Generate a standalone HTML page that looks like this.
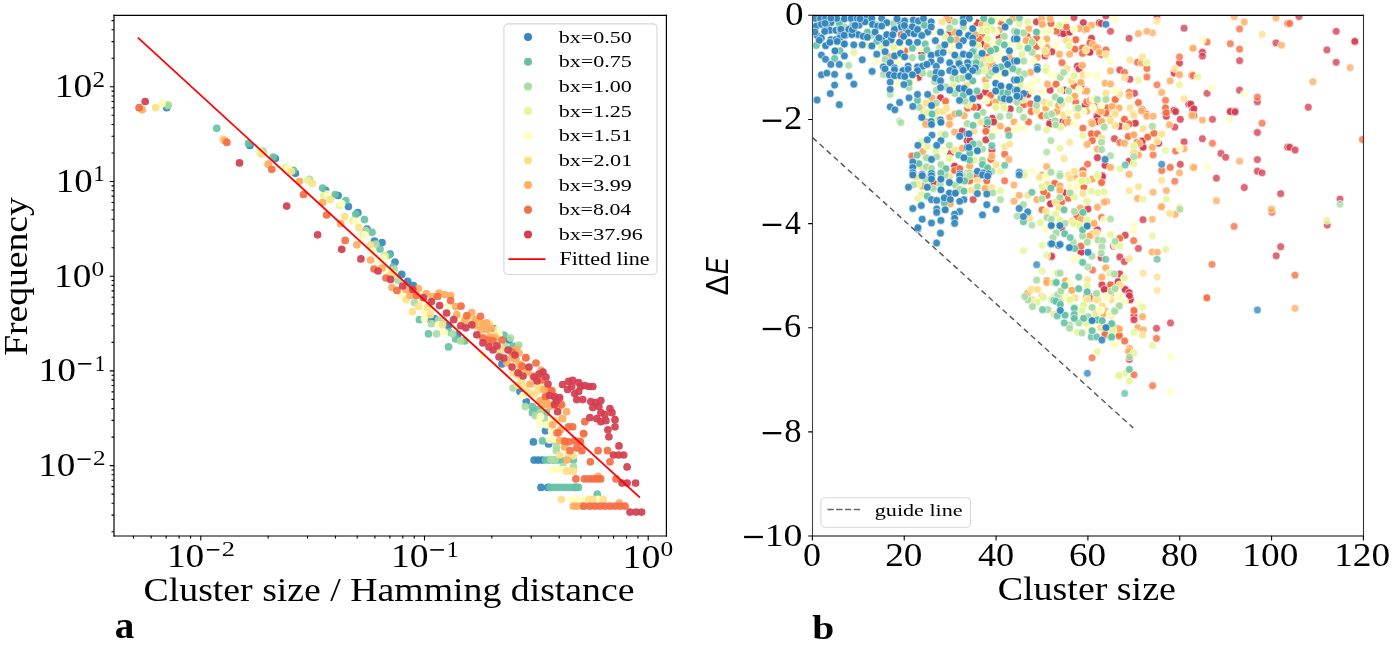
<!DOCTYPE html>
<html><head><meta charset="utf-8"><title>Cluster size plots</title>
<style>html,body{margin:0;padding:0;background:#fff;width:1392px;height:645px;overflow:hidden}svg{display:block}text{-webkit-font-smoothing:antialiased}svg{will-change:transform}</style>
</head><body>
<svg width="1392" height="645" viewBox="0 0 1392 645">
<defs><clipPath id="cl"><rect x="114.0" y="15.4" width="552.0" height="520.4"/></clipPath>
<clipPath id="cr"><rect x="812.4" y="15.4" width="550.8" height="520.4"/></clipPath></defs>
<rect width="1392" height="645" fill="#fff"/>
<g clip-path="url(#cl)">
<circle cx="166.7" cy="107.7" r="3.85" fill="#3387bc" fill-opacity="0.92"/>
<circle cx="249.9" cy="145.4" r="3.85" fill="#3387bc" fill-opacity="0.92"/>
<circle cx="275.3" cy="158.6" r="3.85" fill="#3387bc" fill-opacity="0.92"/>
<circle cx="295.4" cy="173.3" r="3.85" fill="#3387bc" fill-opacity="0.92"/>
<circle cx="325.6" cy="190.4" r="3.85" fill="#3387bc" fill-opacity="0.92"/>
<circle cx="338.1" cy="195.5" r="3.85" fill="#3387bc" fill-opacity="0.92"/>
<circle cx="348.4" cy="206.6" r="3.85" fill="#3387bc" fill-opacity="0.92"/>
<circle cx="357.8" cy="212.6" r="3.85" fill="#3387bc" fill-opacity="0.92"/>
<circle cx="367.0" cy="229.0" r="3.85" fill="#3387bc" fill-opacity="0.92"/>
<circle cx="374.5" cy="241.0" r="3.85" fill="#3387bc" fill-opacity="0.92"/>
<circle cx="382.0" cy="242.6" r="3.85" fill="#3387bc" fill-opacity="0.92"/>
<circle cx="390.0" cy="254.0" r="3.85" fill="#3387bc" fill-opacity="0.92"/>
<circle cx="395.0" cy="262.0" r="3.85" fill="#3387bc" fill-opacity="0.92"/>
<circle cx="401.7" cy="274.4" r="3.85" fill="#3387bc" fill-opacity="0.92"/>
<circle cx="407.7" cy="281.4" r="3.85" fill="#3387bc" fill-opacity="0.92"/>
<circle cx="413.4" cy="285.5" r="3.85" fill="#3387bc" fill-opacity="0.92"/>
<circle cx="429.5" cy="318.7" r="3.85" fill="#3387bc" fill-opacity="0.92"/>
<circle cx="434.5" cy="318.7" r="3.85" fill="#3387bc" fill-opacity="0.92"/>
<circle cx="494.0" cy="328.8" r="3.85" fill="#3387bc" fill-opacity="0.92"/>
<circle cx="457.7" cy="334.8" r="3.85" fill="#3387bc" fill-opacity="0.92"/>
<circle cx="509.0" cy="340.0" r="3.85" fill="#3387bc" fill-opacity="0.92"/>
<circle cx="502.0" cy="364.0" r="3.85" fill="#3387bc" fill-opacity="0.92"/>
<circle cx="520.0" cy="391.5" r="3.85" fill="#3387bc" fill-opacity="0.92"/>
<circle cx="526.3" cy="401.6" r="3.85" fill="#3387bc" fill-opacity="0.92"/>
<circle cx="545.5" cy="430.8" r="3.85" fill="#3387bc" fill-opacity="0.92"/>
<circle cx="533.4" cy="441.9" r="3.85" fill="#3387bc" fill-opacity="0.92"/>
<circle cx="534.1" cy="460.1" r="3.85" fill="#3387bc" fill-opacity="0.92"/>
<circle cx="538.0" cy="460.1" r="3.85" fill="#3387bc" fill-opacity="0.92"/>
<circle cx="542.0" cy="460.1" r="3.85" fill="#3387bc" fill-opacity="0.92"/>
<circle cx="541.0" cy="487.4" r="3.85" fill="#3387bc" fill-opacity="0.92"/>
<circle cx="547.8" cy="487.4" r="3.85" fill="#3387bc" fill-opacity="0.92"/>
<circle cx="575.9" cy="487.4" r="3.85" fill="#3387bc" fill-opacity="0.92"/>
<circle cx="548.6" cy="443.9" r="3.85" fill="#3387bc" fill-opacity="0.92"/>
<circle cx="448.4" cy="325.6" r="3.85" fill="#3387bc" fill-opacity="0.92"/>
<circle cx="167.3" cy="106.1" r="3.85" fill="#66c2a5" fill-opacity="0.92"/>
<circle cx="216.7" cy="128.3" r="3.85" fill="#66c2a5" fill-opacity="0.92"/>
<circle cx="248.5" cy="143.4" r="3.85" fill="#66c2a5" fill-opacity="0.92"/>
<circle cx="273.2" cy="157.2" r="3.85" fill="#66c2a5" fill-opacity="0.92"/>
<circle cx="293.4" cy="170.3" r="3.85" fill="#66c2a5" fill-opacity="0.92"/>
<circle cx="322.6" cy="188.0" r="3.85" fill="#66c2a5" fill-opacity="0.92"/>
<circle cx="335.1" cy="194.5" r="3.85" fill="#66c2a5" fill-opacity="0.92"/>
<circle cx="345.8" cy="200.5" r="3.85" fill="#66c2a5" fill-opacity="0.92"/>
<circle cx="355.8" cy="214.2" r="3.85" fill="#66c2a5" fill-opacity="0.92"/>
<circle cx="364.5" cy="219.6" r="3.85" fill="#66c2a5" fill-opacity="0.92"/>
<circle cx="372.0" cy="232.3" r="3.85" fill="#66c2a5" fill-opacity="0.92"/>
<circle cx="380.0" cy="249.0" r="3.85" fill="#66c2a5" fill-opacity="0.92"/>
<circle cx="389.0" cy="255.0" r="3.85" fill="#66c2a5" fill-opacity="0.92"/>
<circle cx="393.0" cy="267.0" r="3.85" fill="#66c2a5" fill-opacity="0.92"/>
<circle cx="419.4" cy="319.7" r="3.85" fill="#66c2a5" fill-opacity="0.92"/>
<circle cx="428.5" cy="333.8" r="3.85" fill="#66c2a5" fill-opacity="0.92"/>
<circle cx="448.6" cy="331.8" r="3.85" fill="#66c2a5" fill-opacity="0.92"/>
<circle cx="455.7" cy="338.9" r="3.85" fill="#66c2a5" fill-opacity="0.92"/>
<circle cx="464.8" cy="340.9" r="3.85" fill="#66c2a5" fill-opacity="0.92"/>
<circle cx="448.6" cy="346.9" r="3.85" fill="#66c2a5" fill-opacity="0.92"/>
<circle cx="504.0" cy="335.0" r="3.85" fill="#66c2a5" fill-opacity="0.92"/>
<circle cx="513.0" cy="346.0" r="3.85" fill="#66c2a5" fill-opacity="0.92"/>
<circle cx="517.0" cy="347.0" r="3.85" fill="#66c2a5" fill-opacity="0.92"/>
<circle cx="532.4" cy="406.6" r="3.85" fill="#66c2a5" fill-opacity="0.92"/>
<circle cx="537.4" cy="409.6" r="3.85" fill="#66c2a5" fill-opacity="0.92"/>
<circle cx="532.4" cy="412.7" r="3.85" fill="#66c2a5" fill-opacity="0.92"/>
<circle cx="546.5" cy="412.7" r="3.85" fill="#66c2a5" fill-opacity="0.92"/>
<circle cx="542.4" cy="440.9" r="3.85" fill="#66c2a5" fill-opacity="0.92"/>
<circle cx="545.5" cy="460.1" r="3.85" fill="#66c2a5" fill-opacity="0.92"/>
<circle cx="549.0" cy="460.1" r="3.85" fill="#66c2a5" fill-opacity="0.92"/>
<circle cx="553.0" cy="460.1" r="3.85" fill="#66c2a5" fill-opacity="0.92"/>
<circle cx="557.0" cy="460.1" r="3.85" fill="#66c2a5" fill-opacity="0.92"/>
<circle cx="561.0" cy="460.1" r="3.85" fill="#66c2a5" fill-opacity="0.92"/>
<circle cx="573.4" cy="460.1" r="3.85" fill="#66c2a5" fill-opacity="0.92"/>
<circle cx="550.0" cy="487.4" r="3.85" fill="#66c2a5" fill-opacity="0.92"/>
<circle cx="554.0" cy="487.4" r="3.85" fill="#66c2a5" fill-opacity="0.92"/>
<circle cx="558.0" cy="487.4" r="3.85" fill="#66c2a5" fill-opacity="0.92"/>
<circle cx="562.0" cy="487.4" r="3.85" fill="#66c2a5" fill-opacity="0.92"/>
<circle cx="566.0" cy="487.4" r="3.85" fill="#66c2a5" fill-opacity="0.92"/>
<circle cx="570.0" cy="487.4" r="3.85" fill="#66c2a5" fill-opacity="0.92"/>
<circle cx="574.0" cy="487.4" r="3.85" fill="#66c2a5" fill-opacity="0.92"/>
<circle cx="578.5" cy="487.4" r="3.85" fill="#66c2a5" fill-opacity="0.92"/>
<circle cx="597.3" cy="494.2" r="3.85" fill="#66c2a5" fill-opacity="0.92"/>
<circle cx="168.3" cy="105.1" r="3.85" fill="#aadca4" fill-opacity="0.92"/>
<circle cx="263.2" cy="151.2" r="3.85" fill="#aadca4" fill-opacity="0.92"/>
<circle cx="309.5" cy="179.4" r="3.85" fill="#aadca4" fill-opacity="0.92"/>
<circle cx="365.9" cy="230.7" r="3.85" fill="#aadca4" fill-opacity="0.92"/>
<circle cx="376.0" cy="244.0" r="3.85" fill="#aadca4" fill-opacity="0.92"/>
<circle cx="414.4" cy="302.6" r="3.85" fill="#aadca4" fill-opacity="0.92"/>
<circle cx="431.5" cy="323.7" r="3.85" fill="#aadca4" fill-opacity="0.92"/>
<circle cx="436.6" cy="333.8" r="3.85" fill="#aadca4" fill-opacity="0.92"/>
<circle cx="452.7" cy="333.8" r="3.85" fill="#aadca4" fill-opacity="0.92"/>
<circle cx="460.7" cy="340.9" r="3.85" fill="#aadca4" fill-opacity="0.92"/>
<circle cx="500.0" cy="352.0" r="3.85" fill="#aadca4" fill-opacity="0.92"/>
<circle cx="505.0" cy="346.0" r="3.85" fill="#aadca4" fill-opacity="0.92"/>
<circle cx="513.0" cy="388.0" r="3.85" fill="#aadca4" fill-opacity="0.92"/>
<circle cx="525.3" cy="406.6" r="3.85" fill="#aadca4" fill-opacity="0.92"/>
<circle cx="535.4" cy="415.7" r="3.85" fill="#aadca4" fill-opacity="0.92"/>
<circle cx="540.4" cy="412.7" r="3.85" fill="#aadca4" fill-opacity="0.92"/>
<circle cx="544.5" cy="418.7" r="3.85" fill="#aadca4" fill-opacity="0.92"/>
<circle cx="556.6" cy="446.9" r="3.85" fill="#aadca4" fill-opacity="0.92"/>
<circle cx="551.0" cy="459.5" r="3.85" fill="#aadca4" fill-opacity="0.92"/>
<circle cx="555.0" cy="459.5" r="3.85" fill="#aadca4" fill-opacity="0.92"/>
<circle cx="563.0" cy="466.5" r="3.85" fill="#aadca4" fill-opacity="0.92"/>
<circle cx="573.4" cy="466.5" r="3.85" fill="#aadca4" fill-opacity="0.92"/>
<circle cx="546.0" cy="423.4" r="3.85" fill="#aadca4" fill-opacity="0.92"/>
<circle cx="554.6" cy="440.5" r="3.85" fill="#aadca4" fill-opacity="0.92"/>
<circle cx="556.3" cy="450.7" r="3.85" fill="#aadca4" fill-opacity="0.92"/>
<circle cx="384.7" cy="255.8" r="3.85" fill="#aadca4" fill-opacity="0.92"/>
<circle cx="394.2" cy="269.3" r="3.85" fill="#aadca4" fill-opacity="0.92"/>
<circle cx="398.3" cy="280.4" r="3.85" fill="#aadca4" fill-opacity="0.92"/>
<circle cx="438.6" cy="320.0" r="3.85" fill="#aadca4" fill-opacity="0.92"/>
<circle cx="442.8" cy="320.0" r="3.85" fill="#aadca4" fill-opacity="0.92"/>
<circle cx="510.5" cy="338.1" r="3.85" fill="#aadca4" fill-opacity="0.92"/>
<circle cx="518.8" cy="345.1" r="3.85" fill="#aadca4" fill-opacity="0.92"/>
<circle cx="162.3" cy="103.1" r="3.85" fill="#e6f598" fill-opacity="0.92"/>
<circle cx="260.1" cy="152.2" r="3.85" fill="#e6f598" fill-opacity="0.92"/>
<circle cx="285.3" cy="167.3" r="3.85" fill="#e6f598" fill-opacity="0.92"/>
<circle cx="307.5" cy="180.4" r="3.85" fill="#e6f598" fill-opacity="0.92"/>
<circle cx="323.6" cy="195.5" r="3.85" fill="#e6f598" fill-opacity="0.92"/>
<circle cx="339.7" cy="205.5" r="3.85" fill="#e6f598" fill-opacity="0.92"/>
<circle cx="352.8" cy="220.6" r="3.85" fill="#e6f598" fill-opacity="0.92"/>
<circle cx="362.9" cy="234.8" r="3.85" fill="#e6f598" fill-opacity="0.92"/>
<circle cx="385.0" cy="256.0" r="3.85" fill="#e6f598" fill-opacity="0.92"/>
<circle cx="161.7" cy="103.7" r="3.85" fill="#fffebe" fill-opacity="0.92"/>
<circle cx="288.3" cy="168.3" r="3.85" fill="#fffebe" fill-opacity="0.92"/>
<circle cx="327.6" cy="194.1" r="3.85" fill="#fffebe" fill-opacity="0.92"/>
<circle cx="341.7" cy="203.5" r="3.85" fill="#fffebe" fill-opacity="0.92"/>
<circle cx="355.8" cy="221.7" r="3.85" fill="#fffebe" fill-opacity="0.92"/>
<circle cx="365.0" cy="235.0" r="3.85" fill="#fffebe" fill-opacity="0.92"/>
<circle cx="380.0" cy="264.0" r="3.85" fill="#fffebe" fill-opacity="0.92"/>
<circle cx="401.0" cy="295.5" r="3.85" fill="#fffebe" fill-opacity="0.92"/>
<circle cx="424.5" cy="312.7" r="3.85" fill="#fffebe" fill-opacity="0.92"/>
<circle cx="448.6" cy="306.6" r="3.85" fill="#fffebe" fill-opacity="0.92"/>
<circle cx="460.7" cy="318.7" r="3.85" fill="#fffebe" fill-opacity="0.92"/>
<circle cx="424.5" cy="318.7" r="3.85" fill="#fffebe" fill-opacity="0.92"/>
<circle cx="438.6" cy="324.8" r="3.85" fill="#fffebe" fill-opacity="0.92"/>
<circle cx="490.0" cy="323.7" r="3.85" fill="#fffebe" fill-opacity="0.92"/>
<circle cx="444.6" cy="332.8" r="3.85" fill="#fffebe" fill-opacity="0.92"/>
<circle cx="499.0" cy="334.0" r="3.85" fill="#fffebe" fill-opacity="0.92"/>
<circle cx="483.0" cy="355.0" r="3.85" fill="#fffebe" fill-opacity="0.92"/>
<circle cx="523.0" cy="395.5" r="3.85" fill="#fffebe" fill-opacity="0.92"/>
<circle cx="540.4" cy="416.7" r="3.85" fill="#fffebe" fill-opacity="0.92"/>
<circle cx="539.4" cy="423.7" r="3.85" fill="#fffebe" fill-opacity="0.92"/>
<circle cx="546.5" cy="424.8" r="3.85" fill="#fffebe" fill-opacity="0.92"/>
<circle cx="551.5" cy="420.7" r="3.85" fill="#fffebe" fill-opacity="0.92"/>
<circle cx="551.5" cy="430.8" r="3.85" fill="#fffebe" fill-opacity="0.92"/>
<circle cx="549.5" cy="439.9" r="3.85" fill="#fffebe" fill-opacity="0.92"/>
<circle cx="555.5" cy="438.9" r="3.85" fill="#fffebe" fill-opacity="0.92"/>
<circle cx="552.0" cy="469.5" r="3.85" fill="#fffebe" fill-opacity="0.92"/>
<circle cx="556.0" cy="469.5" r="3.85" fill="#fffebe" fill-opacity="0.92"/>
<circle cx="560.0" cy="469.5" r="3.85" fill="#fffebe" fill-opacity="0.92"/>
<circle cx="564.8" cy="469.5" r="3.85" fill="#fffebe" fill-opacity="0.92"/>
<circle cx="571.7" cy="499.3" r="3.85" fill="#fffebe" fill-opacity="0.92"/>
<circle cx="576.8" cy="499.3" r="3.85" fill="#fffebe" fill-opacity="0.92"/>
<circle cx="581.9" cy="499.3" r="3.85" fill="#fffebe" fill-opacity="0.92"/>
<circle cx="598.1" cy="499.3" r="3.85" fill="#fffebe" fill-opacity="0.92"/>
<circle cx="373.0" cy="252.2" r="3.85" fill="#fffebe" fill-opacity="0.92"/>
<circle cx="383.2" cy="258.8" r="3.85" fill="#fffebe" fill-opacity="0.92"/>
<circle cx="388.2" cy="271.9" r="3.85" fill="#fffebe" fill-opacity="0.92"/>
<circle cx="426.0" cy="308.8" r="3.85" fill="#fffebe" fill-opacity="0.92"/>
<circle cx="430.2" cy="308.1" r="3.85" fill="#fffebe" fill-opacity="0.92"/>
<circle cx="421.9" cy="301.9" r="3.85" fill="#fffebe" fill-opacity="0.92"/>
<circle cx="497.2" cy="329.8" r="3.85" fill="#fffebe" fill-opacity="0.92"/>
<circle cx="155.7" cy="107.7" r="3.85" fill="#fee08b" fill-opacity="0.92"/>
<circle cx="222.7" cy="139.0" r="3.85" fill="#fee08b" fill-opacity="0.92"/>
<circle cx="262.2" cy="154.2" r="3.85" fill="#fee08b" fill-opacity="0.92"/>
<circle cx="291.4" cy="171.3" r="3.85" fill="#fee08b" fill-opacity="0.92"/>
<circle cx="312.5" cy="183.4" r="3.85" fill="#fee08b" fill-opacity="0.92"/>
<circle cx="330.2" cy="199.5" r="3.85" fill="#fee08b" fill-opacity="0.92"/>
<circle cx="344.8" cy="216.6" r="3.85" fill="#fee08b" fill-opacity="0.92"/>
<circle cx="358.9" cy="227.7" r="3.85" fill="#fee08b" fill-opacity="0.92"/>
<circle cx="370.5" cy="244.8" r="3.85" fill="#fee08b" fill-opacity="0.92"/>
<circle cx="394.0" cy="274.0" r="3.85" fill="#fee08b" fill-opacity="0.92"/>
<circle cx="406.0" cy="299.6" r="3.85" fill="#fee08b" fill-opacity="0.92"/>
<circle cx="418.4" cy="306.6" r="3.85" fill="#fee08b" fill-opacity="0.92"/>
<circle cx="412.4" cy="311.7" r="3.85" fill="#fee08b" fill-opacity="0.92"/>
<circle cx="427.5" cy="307.6" r="3.85" fill="#fee08b" fill-opacity="0.92"/>
<circle cx="430.5" cy="314.7" r="3.85" fill="#fee08b" fill-opacity="0.92"/>
<circle cx="442.6" cy="324.8" r="3.85" fill="#fee08b" fill-opacity="0.92"/>
<circle cx="484.0" cy="324.0" r="3.85" fill="#fee08b" fill-opacity="0.92"/>
<circle cx="490.0" cy="325.0" r="3.85" fill="#fee08b" fill-opacity="0.92"/>
<circle cx="516.0" cy="363.0" r="3.85" fill="#fee08b" fill-opacity="0.92"/>
<circle cx="534.0" cy="384.0" r="3.85" fill="#fee08b" fill-opacity="0.92"/>
<circle cx="525.0" cy="388.0" r="3.85" fill="#fee08b" fill-opacity="0.92"/>
<circle cx="518.0" cy="385.0" r="3.85" fill="#fee08b" fill-opacity="0.92"/>
<circle cx="529.0" cy="392.5" r="3.85" fill="#fee08b" fill-opacity="0.92"/>
<circle cx="538.0" cy="390.5" r="3.85" fill="#fee08b" fill-opacity="0.92"/>
<circle cx="556.6" cy="420.7" r="3.85" fill="#fee08b" fill-opacity="0.92"/>
<circle cx="566.5" cy="471.2" r="3.85" fill="#fee08b" fill-opacity="0.92"/>
<circle cx="570.0" cy="471.2" r="3.85" fill="#fee08b" fill-opacity="0.92"/>
<circle cx="573.5" cy="471.2" r="3.85" fill="#fee08b" fill-opacity="0.92"/>
<circle cx="561.4" cy="499.3" r="3.85" fill="#fee08b" fill-opacity="0.92"/>
<circle cx="588.7" cy="499.3" r="3.85" fill="#fee08b" fill-opacity="0.92"/>
<circle cx="593.0" cy="499.3" r="3.85" fill="#fee08b" fill-opacity="0.92"/>
<circle cx="603.2" cy="499.3" r="3.85" fill="#fee08b" fill-opacity="0.92"/>
<circle cx="559.7" cy="455.0" r="3.85" fill="#fee08b" fill-opacity="0.92"/>
<circle cx="568.2" cy="455.0" r="3.85" fill="#fee08b" fill-opacity="0.92"/>
<circle cx="573.4" cy="455.8" r="3.85" fill="#fee08b" fill-opacity="0.92"/>
<circle cx="390.2" cy="274.9" r="3.85" fill="#fee08b" fill-opacity="0.92"/>
<circle cx="472.1" cy="320.0" r="3.85" fill="#fee08b" fill-opacity="0.92"/>
<circle cx="476.3" cy="321.4" r="3.85" fill="#fee08b" fill-opacity="0.92"/>
<circle cx="480.5" cy="322.8" r="3.85" fill="#fee08b" fill-opacity="0.92"/>
<circle cx="495.1" cy="335.3" r="3.85" fill="#fee08b" fill-opacity="0.92"/>
<circle cx="497.9" cy="347.9" r="3.85" fill="#fee08b" fill-opacity="0.92"/>
<circle cx="502.1" cy="349.3" r="3.85" fill="#fee08b" fill-opacity="0.92"/>
<circle cx="513.3" cy="373.0" r="3.85" fill="#fee08b" fill-opacity="0.92"/>
<circle cx="517.4" cy="375.8" r="3.85" fill="#fee08b" fill-opacity="0.92"/>
<circle cx="521.6" cy="381.4" r="3.85" fill="#fee08b" fill-opacity="0.92"/>
<circle cx="539.8" cy="385.6" r="3.85" fill="#fee08b" fill-opacity="0.92"/>
<circle cx="542.6" cy="388.4" r="3.85" fill="#fee08b" fill-opacity="0.92"/>
<circle cx="534.2" cy="394.0" r="3.85" fill="#fee08b" fill-opacity="0.92"/>
<circle cx="539.8" cy="400.9" r="3.85" fill="#fee08b" fill-opacity="0.92"/>
<circle cx="142.2" cy="109.7" r="3.85" fill="#fdad60" fill-opacity="0.92"/>
<circle cx="224.8" cy="140.4" r="3.85" fill="#fdad60" fill-opacity="0.92"/>
<circle cx="268.2" cy="164.2" r="3.85" fill="#fdad60" fill-opacity="0.92"/>
<circle cx="299.4" cy="181.4" r="3.85" fill="#fdad60" fill-opacity="0.92"/>
<circle cx="322.6" cy="202.5" r="3.85" fill="#fdad60" fill-opacity="0.92"/>
<circle cx="340.7" cy="223.7" r="3.85" fill="#fdad60" fill-opacity="0.92"/>
<circle cx="356.8" cy="244.8" r="3.85" fill="#fdad60" fill-opacity="0.92"/>
<circle cx="370.5" cy="260.0" r="3.85" fill="#fdad60" fill-opacity="0.92"/>
<circle cx="382.0" cy="268.0" r="3.85" fill="#fdad60" fill-opacity="0.92"/>
<circle cx="418.4" cy="288.5" r="3.85" fill="#fdad60" fill-opacity="0.92"/>
<circle cx="392.0" cy="287.5" r="3.85" fill="#fdad60" fill-opacity="0.92"/>
<circle cx="406.0" cy="289.5" r="3.85" fill="#fdad60" fill-opacity="0.92"/>
<circle cx="410.0" cy="295.5" r="3.85" fill="#fdad60" fill-opacity="0.92"/>
<circle cx="426.5" cy="293.5" r="3.85" fill="#fdad60" fill-opacity="0.92"/>
<circle cx="432.5" cy="296.5" r="3.85" fill="#fdad60" fill-opacity="0.92"/>
<circle cx="439.0" cy="293.0" r="3.85" fill="#fdad60" fill-opacity="0.92"/>
<circle cx="444.6" cy="294.5" r="3.85" fill="#fdad60" fill-opacity="0.92"/>
<circle cx="450.6" cy="295.5" r="3.85" fill="#fdad60" fill-opacity="0.92"/>
<circle cx="455.7" cy="306.6" r="3.85" fill="#fdad60" fill-opacity="0.92"/>
<circle cx="456.7" cy="314.7" r="3.85" fill="#fdad60" fill-opacity="0.92"/>
<circle cx="471.8" cy="312.7" r="3.85" fill="#fdad60" fill-opacity="0.92"/>
<circle cx="464.8" cy="320.7" r="3.85" fill="#fdad60" fill-opacity="0.92"/>
<circle cx="475.8" cy="319.7" r="3.85" fill="#fdad60" fill-opacity="0.92"/>
<circle cx="482.9" cy="323.7" r="3.85" fill="#fdad60" fill-opacity="0.92"/>
<circle cx="480.9" cy="329.8" r="3.85" fill="#fdad60" fill-opacity="0.92"/>
<circle cx="486.9" cy="329.8" r="3.85" fill="#fdad60" fill-opacity="0.92"/>
<circle cx="490.0" cy="336.8" r="3.85" fill="#fdad60" fill-opacity="0.92"/>
<circle cx="495.0" cy="337.8" r="3.85" fill="#fdad60" fill-opacity="0.92"/>
<circle cx="519.0" cy="353.0" r="3.85" fill="#fdad60" fill-opacity="0.92"/>
<circle cx="507.0" cy="363.0" r="3.85" fill="#fdad60" fill-opacity="0.92"/>
<circle cx="526.0" cy="358.0" r="3.85" fill="#fdad60" fill-opacity="0.92"/>
<circle cx="520.0" cy="370.0" r="3.85" fill="#fdad60" fill-opacity="0.92"/>
<circle cx="528.0" cy="372.0" r="3.85" fill="#fdad60" fill-opacity="0.92"/>
<circle cx="541.0" cy="370.0" r="3.85" fill="#fdad60" fill-opacity="0.92"/>
<circle cx="530.0" cy="384.0" r="3.85" fill="#fdad60" fill-opacity="0.92"/>
<circle cx="544.0" cy="389.5" r="3.85" fill="#fdad60" fill-opacity="0.92"/>
<circle cx="540.4" cy="400.6" r="3.85" fill="#fdad60" fill-opacity="0.92"/>
<circle cx="544.5" cy="404.6" r="3.85" fill="#fdad60" fill-opacity="0.92"/>
<circle cx="550.5" cy="406.6" r="3.85" fill="#fdad60" fill-opacity="0.92"/>
<circle cx="566.6" cy="411.7" r="3.85" fill="#fdad60" fill-opacity="0.92"/>
<circle cx="562.6" cy="418.7" r="3.85" fill="#fdad60" fill-opacity="0.92"/>
<circle cx="552.5" cy="424.8" r="3.85" fill="#fdad60" fill-opacity="0.92"/>
<circle cx="556.6" cy="432.8" r="3.85" fill="#fdad60" fill-opacity="0.92"/>
<circle cx="560.6" cy="429.8" r="3.85" fill="#fdad60" fill-opacity="0.92"/>
<circle cx="563.6" cy="440.9" r="3.85" fill="#fdad60" fill-opacity="0.92"/>
<circle cx="580.7" cy="442.9" r="3.85" fill="#fdad60" fill-opacity="0.92"/>
<circle cx="564.6" cy="446.9" r="3.85" fill="#fdad60" fill-opacity="0.92"/>
<circle cx="583.7" cy="433.8" r="3.85" fill="#fdad60" fill-opacity="0.92"/>
<circle cx="566.9" cy="460.1" r="3.85" fill="#fdad60" fill-opacity="0.92"/>
<circle cx="598.0" cy="476.3" r="3.85" fill="#fdad60" fill-opacity="0.92"/>
<circle cx="573.4" cy="506.2" r="3.85" fill="#fdad60" fill-opacity="0.92"/>
<circle cx="577.0" cy="506.2" r="3.85" fill="#fdad60" fill-opacity="0.92"/>
<circle cx="581.9" cy="506.2" r="3.85" fill="#fdad60" fill-opacity="0.92"/>
<circle cx="619.4" cy="503.0" r="3.85" fill="#fdad60" fill-opacity="0.92"/>
<circle cx="559.7" cy="440.5" r="3.85" fill="#fdad60" fill-opacity="0.92"/>
<circle cx="474.9" cy="325.6" r="3.85" fill="#fdad60" fill-opacity="0.92"/>
<circle cx="491.6" cy="328.4" r="3.85" fill="#fdad60" fill-opacity="0.92"/>
<circle cx="486.7" cy="322.8" r="3.85" fill="#fdad60" fill-opacity="0.92"/>
<circle cx="516.0" cy="349.3" r="3.85" fill="#fdad60" fill-opacity="0.92"/>
<circle cx="511.9" cy="357.7" r="3.85" fill="#fdad60" fill-opacity="0.92"/>
<circle cx="516.0" cy="359.1" r="3.85" fill="#fdad60" fill-opacity="0.92"/>
<circle cx="520.2" cy="364.6" r="3.85" fill="#fdad60" fill-opacity="0.92"/>
<circle cx="524.4" cy="367.4" r="3.85" fill="#fdad60" fill-opacity="0.92"/>
<circle cx="532.8" cy="375.8" r="3.85" fill="#fdad60" fill-opacity="0.92"/>
<circle cx="548.1" cy="389.8" r="3.85" fill="#fdad60" fill-opacity="0.92"/>
<circle cx="552.3" cy="391.2" r="3.85" fill="#fdad60" fill-opacity="0.92"/>
<circle cx="545.3" cy="398.1" r="3.85" fill="#fdad60" fill-opacity="0.92"/>
<circle cx="555.1" cy="398.1" r="3.85" fill="#fdad60" fill-opacity="0.92"/>
<circle cx="559.3" cy="399.5" r="3.85" fill="#fdad60" fill-opacity="0.92"/>
<circle cx="548.1" cy="403.7" r="3.85" fill="#fdad60" fill-opacity="0.92"/>
<circle cx="553.7" cy="405.1" r="3.85" fill="#fdad60" fill-opacity="0.92"/>
<circle cx="559.3" cy="406.5" r="3.85" fill="#fdad60" fill-opacity="0.92"/>
<circle cx="139.1" cy="107.7" r="3.85" fill="#f46d43" fill-opacity="0.92"/>
<circle cx="226.8" cy="142.4" r="3.85" fill="#f46d43" fill-opacity="0.92"/>
<circle cx="271.8" cy="169.3" r="3.85" fill="#f46d43" fill-opacity="0.92"/>
<circle cx="303.5" cy="194.5" r="3.85" fill="#f46d43" fill-opacity="0.92"/>
<circle cx="326.6" cy="215.0" r="3.85" fill="#f46d43" fill-opacity="0.92"/>
<circle cx="345.2" cy="240.4" r="3.85" fill="#f46d43" fill-opacity="0.92"/>
<circle cx="374.0" cy="269.0" r="3.85" fill="#f46d43" fill-opacity="0.92"/>
<circle cx="386.0" cy="278.0" r="3.85" fill="#f46d43" fill-opacity="0.92"/>
<circle cx="397.0" cy="290.5" r="3.85" fill="#f46d43" fill-opacity="0.92"/>
<circle cx="416.4" cy="295.5" r="3.85" fill="#f46d43" fill-opacity="0.92"/>
<circle cx="437.6" cy="296.5" r="3.85" fill="#f46d43" fill-opacity="0.92"/>
<circle cx="450.6" cy="300.6" r="3.85" fill="#f46d43" fill-opacity="0.92"/>
<circle cx="461.0" cy="306.2" r="3.85" fill="#f46d43" fill-opacity="0.92"/>
<circle cx="466.8" cy="315.7" r="3.85" fill="#f46d43" fill-opacity="0.92"/>
<circle cx="480.5" cy="316.3" r="3.85" fill="#f46d43" fill-opacity="0.92"/>
<circle cx="482.9" cy="337.8" r="3.85" fill="#f46d43" fill-opacity="0.92"/>
<circle cx="493.0" cy="340.9" r="3.85" fill="#f46d43" fill-opacity="0.92"/>
<circle cx="488.0" cy="340.0" r="3.85" fill="#f46d43" fill-opacity="0.92"/>
<circle cx="502.0" cy="340.0" r="3.85" fill="#f46d43" fill-opacity="0.92"/>
<circle cx="512.0" cy="352.0" r="3.85" fill="#f46d43" fill-opacity="0.92"/>
<circle cx="522.0" cy="366.0" r="3.85" fill="#f46d43" fill-opacity="0.92"/>
<circle cx="536.0" cy="363.0" r="3.85" fill="#f46d43" fill-opacity="0.92"/>
<circle cx="542.0" cy="380.0" r="3.85" fill="#f46d43" fill-opacity="0.92"/>
<circle cx="551.5" cy="390.5" r="3.85" fill="#f46d43" fill-opacity="0.92"/>
<circle cx="545.5" cy="396.5" r="3.85" fill="#f46d43" fill-opacity="0.92"/>
<circle cx="561.6" cy="404.6" r="3.85" fill="#f46d43" fill-opacity="0.92"/>
<circle cx="568.6" cy="441.9" r="3.85" fill="#f46d43" fill-opacity="0.92"/>
<circle cx="574.7" cy="440.9" r="3.85" fill="#f46d43" fill-opacity="0.92"/>
<circle cx="576.7" cy="447.9" r="3.85" fill="#f46d43" fill-opacity="0.92"/>
<circle cx="568.6" cy="426.8" r="3.85" fill="#f46d43" fill-opacity="0.92"/>
<circle cx="572.7" cy="426.8" r="3.85" fill="#f46d43" fill-opacity="0.92"/>
<circle cx="584.8" cy="421.7" r="3.85" fill="#f46d43" fill-opacity="0.92"/>
<circle cx="575.9" cy="478.9" r="3.85" fill="#f46d43" fill-opacity="0.92"/>
<circle cx="584.5" cy="478.9" r="3.85" fill="#f46d43" fill-opacity="0.92"/>
<circle cx="589.0" cy="478.9" r="3.85" fill="#f46d43" fill-opacity="0.92"/>
<circle cx="593.0" cy="478.9" r="3.85" fill="#f46d43" fill-opacity="0.92"/>
<circle cx="597.0" cy="478.9" r="3.85" fill="#f46d43" fill-opacity="0.92"/>
<circle cx="600.7" cy="478.9" r="3.85" fill="#f46d43" fill-opacity="0.92"/>
<circle cx="584.0" cy="506.2" r="3.85" fill="#f46d43" fill-opacity="0.92"/>
<circle cx="590.0" cy="506.2" r="3.85" fill="#f46d43" fill-opacity="0.92"/>
<circle cx="595.0" cy="506.2" r="3.85" fill="#f46d43" fill-opacity="0.92"/>
<circle cx="600.0" cy="506.2" r="3.85" fill="#f46d43" fill-opacity="0.92"/>
<circle cx="605.0" cy="506.2" r="3.85" fill="#f46d43" fill-opacity="0.92"/>
<circle cx="610.0" cy="506.2" r="3.85" fill="#f46d43" fill-opacity="0.92"/>
<circle cx="615.0" cy="506.2" r="3.85" fill="#f46d43" fill-opacity="0.92"/>
<circle cx="620.0" cy="506.2" r="3.85" fill="#f46d43" fill-opacity="0.92"/>
<circle cx="625.0" cy="506.2" r="3.85" fill="#f46d43" fill-opacity="0.92"/>
<circle cx="558.0" cy="432.8" r="3.85" fill="#f46d43" fill-opacity="0.92"/>
<circle cx="583.6" cy="433.6" r="3.85" fill="#f46d43" fill-opacity="0.92"/>
<circle cx="564.8" cy="441.3" r="3.85" fill="#f46d43" fill-opacity="0.92"/>
<circle cx="580.2" cy="441.3" r="3.85" fill="#f46d43" fill-opacity="0.92"/>
<circle cx="570.0" cy="450.7" r="3.85" fill="#f46d43" fill-opacity="0.92"/>
<circle cx="581.9" cy="450.7" r="3.85" fill="#f46d43" fill-opacity="0.92"/>
<circle cx="590.4" cy="461.8" r="3.85" fill="#f46d43" fill-opacity="0.92"/>
<circle cx="598.1" cy="450.7" r="3.85" fill="#f46d43" fill-opacity="0.92"/>
<circle cx="607.5" cy="450.7" r="3.85" fill="#f46d43" fill-opacity="0.92"/>
<circle cx="610.0" cy="461.8" r="3.85" fill="#f46d43" fill-opacity="0.92"/>
<circle cx="616.0" cy="478.9" r="3.85" fill="#f46d43" fill-opacity="0.92"/>
<circle cx="525.8" cy="357.7" r="3.85" fill="#f46d43" fill-opacity="0.92"/>
<circle cx="145.2" cy="101.5" r="3.85" fill="#d43d4f" fill-opacity="0.92"/>
<circle cx="239.5" cy="162.9" r="3.85" fill="#d43d4f" fill-opacity="0.92"/>
<circle cx="286.7" cy="206.1" r="3.85" fill="#d43d4f" fill-opacity="0.92"/>
<circle cx="317.6" cy="234.8" r="3.85" fill="#d43d4f" fill-opacity="0.92"/>
<circle cx="341.7" cy="249.3" r="3.85" fill="#d43d4f" fill-opacity="0.92"/>
<circle cx="360.9" cy="258.9" r="3.85" fill="#d43d4f" fill-opacity="0.92"/>
<circle cx="378.0" cy="271.0" r="3.85" fill="#d43d4f" fill-opacity="0.92"/>
<circle cx="390.6" cy="279.4" r="3.85" fill="#d43d4f" fill-opacity="0.92"/>
<circle cx="402.7" cy="286.0" r="3.85" fill="#d43d4f" fill-opacity="0.92"/>
<circle cx="412.8" cy="289.5" r="3.85" fill="#d43d4f" fill-opacity="0.92"/>
<circle cx="423.5" cy="297.6" r="3.85" fill="#d43d4f" fill-opacity="0.92"/>
<circle cx="431.5" cy="301.6" r="3.85" fill="#d43d4f" fill-opacity="0.92"/>
<circle cx="439.6" cy="305.6" r="3.85" fill="#d43d4f" fill-opacity="0.92"/>
<circle cx="446.6" cy="313.0" r="3.85" fill="#d43d4f" fill-opacity="0.92"/>
<circle cx="453.7" cy="319.7" r="3.85" fill="#d43d4f" fill-opacity="0.92"/>
<circle cx="460.7" cy="325.8" r="3.85" fill="#d43d4f" fill-opacity="0.92"/>
<circle cx="465.8" cy="327.8" r="3.85" fill="#d43d4f" fill-opacity="0.92"/>
<circle cx="471.8" cy="324.8" r="3.85" fill="#d43d4f" fill-opacity="0.92"/>
<circle cx="476.8" cy="334.8" r="3.85" fill="#d43d4f" fill-opacity="0.92"/>
<circle cx="482.9" cy="342.9" r="3.85" fill="#d43d4f" fill-opacity="0.92"/>
<circle cx="489.0" cy="346.9" r="3.85" fill="#d43d4f" fill-opacity="0.92"/>
<circle cx="497.0" cy="345.9" r="3.85" fill="#d43d4f" fill-opacity="0.92"/>
<circle cx="493.0" cy="350.0" r="3.85" fill="#d43d4f" fill-opacity="0.92"/>
<circle cx="508.0" cy="350.0" r="3.85" fill="#d43d4f" fill-opacity="0.92"/>
<circle cx="515.0" cy="355.0" r="3.85" fill="#d43d4f" fill-opacity="0.92"/>
<circle cx="499.0" cy="357.0" r="3.85" fill="#d43d4f" fill-opacity="0.92"/>
<circle cx="504.0" cy="358.0" r="3.85" fill="#d43d4f" fill-opacity="0.92"/>
<circle cx="512.0" cy="367.0" r="3.85" fill="#d43d4f" fill-opacity="0.92"/>
<circle cx="529.0" cy="367.0" r="3.85" fill="#d43d4f" fill-opacity="0.92"/>
<circle cx="518.0" cy="373.0" r="3.85" fill="#d43d4f" fill-opacity="0.92"/>
<circle cx="523.0" cy="376.0" r="3.85" fill="#d43d4f" fill-opacity="0.92"/>
<circle cx="534.0" cy="377.0" r="3.85" fill="#d43d4f" fill-opacity="0.92"/>
<circle cx="539.0" cy="374.0" r="3.85" fill="#d43d4f" fill-opacity="0.92"/>
<circle cx="543.0" cy="372.0" r="3.85" fill="#d43d4f" fill-opacity="0.92"/>
<circle cx="546.0" cy="377.0" r="3.85" fill="#d43d4f" fill-opacity="0.92"/>
<circle cx="537.0" cy="381.0" r="3.85" fill="#d43d4f" fill-opacity="0.92"/>
<circle cx="548.0" cy="384.0" r="3.85" fill="#d43d4f" fill-opacity="0.92"/>
<circle cx="549.5" cy="395.5" r="3.85" fill="#d43d4f" fill-opacity="0.92"/>
<circle cx="554.5" cy="396.5" r="3.85" fill="#d43d4f" fill-opacity="0.92"/>
<circle cx="559.6" cy="397.6" r="3.85" fill="#d43d4f" fill-opacity="0.92"/>
<circle cx="556.6" cy="400.6" r="3.85" fill="#d43d4f" fill-opacity="0.92"/>
<circle cx="554.5" cy="404.6" r="3.85" fill="#d43d4f" fill-opacity="0.92"/>
<circle cx="557.6" cy="411.7" r="3.85" fill="#d43d4f" fill-opacity="0.92"/>
<circle cx="562.6" cy="384.5" r="3.85" fill="#d43d4f" fill-opacity="0.92"/>
<circle cx="568.6" cy="381.4" r="3.85" fill="#d43d4f" fill-opacity="0.92"/>
<circle cx="572.7" cy="380.4" r="3.85" fill="#d43d4f" fill-opacity="0.92"/>
<circle cx="567.6" cy="389.5" r="3.85" fill="#d43d4f" fill-opacity="0.92"/>
<circle cx="571.7" cy="386.5" r="3.85" fill="#d43d4f" fill-opacity="0.92"/>
<circle cx="578.7" cy="382.5" r="3.85" fill="#d43d4f" fill-opacity="0.92"/>
<circle cx="580.7" cy="386.5" r="3.85" fill="#d43d4f" fill-opacity="0.92"/>
<circle cx="584.8" cy="385.5" r="3.85" fill="#d43d4f" fill-opacity="0.92"/>
<circle cx="588.8" cy="386.5" r="3.85" fill="#d43d4f" fill-opacity="0.92"/>
<circle cx="592.8" cy="386.5" r="3.85" fill="#d43d4f" fill-opacity="0.92"/>
<circle cx="574.7" cy="393.5" r="3.85" fill="#d43d4f" fill-opacity="0.92"/>
<circle cx="578.7" cy="391.5" r="3.85" fill="#d43d4f" fill-opacity="0.92"/>
<circle cx="576.7" cy="399.6" r="3.85" fill="#d43d4f" fill-opacity="0.92"/>
<circle cx="582.7" cy="399.6" r="3.85" fill="#d43d4f" fill-opacity="0.92"/>
<circle cx="590.8" cy="401.6" r="3.85" fill="#d43d4f" fill-opacity="0.92"/>
<circle cx="595.8" cy="402.6" r="3.85" fill="#d43d4f" fill-opacity="0.92"/>
<circle cx="600.9" cy="400.6" r="3.85" fill="#d43d4f" fill-opacity="0.92"/>
<circle cx="592.8" cy="407.6" r="3.85" fill="#d43d4f" fill-opacity="0.92"/>
<circle cx="598.9" cy="406.6" r="3.85" fill="#d43d4f" fill-opacity="0.92"/>
<circle cx="600.9" cy="412.7" r="3.85" fill="#d43d4f" fill-opacity="0.92"/>
<circle cx="604.9" cy="414.7" r="3.85" fill="#d43d4f" fill-opacity="0.92"/>
<circle cx="609.9" cy="408.6" r="3.85" fill="#d43d4f" fill-opacity="0.92"/>
<circle cx="612.0" cy="412.7" r="3.85" fill="#d43d4f" fill-opacity="0.92"/>
<circle cx="589.8" cy="417.7" r="3.85" fill="#d43d4f" fill-opacity="0.92"/>
<circle cx="596.8" cy="418.7" r="3.85" fill="#d43d4f" fill-opacity="0.92"/>
<circle cx="600.9" cy="421.7" r="3.85" fill="#d43d4f" fill-opacity="0.92"/>
<circle cx="605.9" cy="420.7" r="3.85" fill="#d43d4f" fill-opacity="0.92"/>
<circle cx="615.0" cy="419.7" r="3.85" fill="#d43d4f" fill-opacity="0.92"/>
<circle cx="607.9" cy="429.8" r="3.85" fill="#d43d4f" fill-opacity="0.92"/>
<circle cx="608.9" cy="436.8" r="3.85" fill="#d43d4f" fill-opacity="0.92"/>
<circle cx="615.0" cy="426.8" r="3.85" fill="#d43d4f" fill-opacity="0.92"/>
<circle cx="619.0" cy="445.9" r="3.85" fill="#d43d4f" fill-opacity="0.92"/>
<circle cx="630.0" cy="512.1" r="3.85" fill="#d43d4f" fill-opacity="0.92"/>
<circle cx="636.0" cy="512.1" r="3.85" fill="#d43d4f" fill-opacity="0.92"/>
<circle cx="641.6" cy="512.1" r="3.85" fill="#d43d4f" fill-opacity="0.92"/>
<circle cx="613.5" cy="455.0" r="3.85" fill="#d43d4f" fill-opacity="0.92"/>
<circle cx="618.6" cy="455.0" r="3.85" fill="#d43d4f" fill-opacity="0.92"/>
<circle cx="623.7" cy="455.0" r="3.85" fill="#d43d4f" fill-opacity="0.92"/>
<circle cx="627.1" cy="466.9" r="3.85" fill="#d43d4f" fill-opacity="0.92"/>
<circle cx="622.0" cy="483.1" r="3.85" fill="#d43d4f" fill-opacity="0.92"/>
<circle cx="627.1" cy="483.1" r="3.85" fill="#d43d4f" fill-opacity="0.92"/>
<circle cx="635.6" cy="483.1" r="3.85" fill="#d43d4f" fill-opacity="0.92"/>
<line x1="137.9" y1="37.7" x2="640" y2="497.6" stroke="#f00" stroke-width="1.8"/>
</g>
<path d="M113.4 15.4H667.1" stroke="#000" stroke-width="1.2"/>
<path d="M114 14.8V536.6" stroke="#000" stroke-width="1.2"/>
<path d="M113.4 536.0H667.1" stroke="#000" stroke-width="1.2"/>
<path d="M666.4 14.8V536.6" stroke="#000" stroke-width="1.2"/>
<path d="M133.46 535.80v2.7 M151.17 535.80v2.7 M166.15 535.80v2.7 M179.12 535.80v2.7 M190.56 535.80v2.7 M200.80 535.80v4.8 M268.14 535.80v2.7 M307.53 535.80v2.7 M335.48 535.80v2.7 M357.16 535.80v2.7 M374.87 535.80v2.7 M389.85 535.80v2.7 M402.82 535.80v2.7 M414.26 535.80v2.7 M424.50 535.80v4.8 M491.84 535.80v2.7 M531.23 535.80v2.7 M559.18 535.80v2.7 M580.86 535.80v2.7 M598.57 535.80v2.7 M613.55 535.80v2.7 M626.52 535.80v2.7 M637.96 535.80v2.7 M648.20 535.80v4.8 M114.00 531.79h-2.5 M114.00 515.12h-2.5 M114.00 503.28h-2.5 M114.00 494.11h-2.5 M114.00 486.61h-2.5 M114.00 480.27h-2.5 M114.00 474.78h-2.5 M114.00 469.93h-2.5 M114.00 465.60h-4.2 M114.00 437.09h-2.5 M114.00 420.42h-2.5 M114.00 408.58h-2.5 M114.00 399.41h-2.5 M114.00 391.91h-2.5 M114.00 385.57h-2.5 M114.00 380.08h-2.5 M114.00 375.23h-2.5 M114.00 370.90h-4.2 M114.00 342.39h-2.5 M114.00 325.72h-2.5 M114.00 313.88h-2.5 M114.00 304.71h-2.5 M114.00 297.21h-2.5 M114.00 290.87h-2.5 M114.00 285.38h-2.5 M114.00 280.53h-2.5 M114.00 276.20h-4.2 M114.00 247.69h-2.5 M114.00 231.02h-2.5 M114.00 219.18h-2.5 M114.00 210.01h-2.5 M114.00 202.51h-2.5 M114.00 196.17h-2.5 M114.00 190.68h-2.5 M114.00 185.83h-2.5 M114.00 181.50h-4.2 M114.00 152.99h-2.5 M114.00 136.32h-2.5 M114.00 124.48h-2.5 M114.00 115.31h-2.5 M114.00 107.81h-2.5 M114.00 101.47h-2.5 M114.00 95.98h-2.5 M114.00 91.13h-2.5 M114.00 86.80h-4.2 M114.00 58.29h-2.5 M114.00 41.62h-2.5 M114.00 29.78h-2.5 M114.00 20.61h-2.5" stroke="#000" stroke-width="1.1" fill="none"/>
<text x="54.82" y="97.27" font-family="Liberation Serif" font-weight="normal" font-style="normal" font-size="33.19" textLength="37.49" lengthAdjust="spacingAndGlyphs">10</text>
<text x="92.58" y="86.70" font-family="Liberation Serif" font-weight="normal" font-style="normal" font-size="22.49" textLength="12.50" lengthAdjust="spacingAndGlyphs">2</text>
<text x="55.77" y="191.97" font-family="Liberation Serif" font-weight="normal" font-style="normal" font-size="33.19" textLength="36.91" lengthAdjust="spacingAndGlyphs">10</text>
<text x="93.26" y="180.80" font-family="Liberation Serif" font-weight="normal" font-style="normal" font-size="23.48" textLength="11.63" lengthAdjust="spacingAndGlyphs">1</text>
<text x="54.14" y="286.97" font-family="Liberation Serif" font-weight="normal" font-style="normal" font-size="33.19" textLength="37.26" lengthAdjust="spacingAndGlyphs">10</text>
<text x="91.55" y="275.58" font-family="Liberation Serif" font-weight="normal" font-style="normal" font-size="21.63" textLength="12.71" lengthAdjust="spacingAndGlyphs">0</text>
<text x="38.62" y="381.27" font-family="Liberation Serif" font-weight="normal" font-style="normal" font-size="33.48" textLength="37.49" lengthAdjust="spacingAndGlyphs">10</text>
<text x="94.39" y="370.50" font-family="Liberation Serif" font-weight="normal" font-style="normal" font-size="23.33" textLength="10.92" lengthAdjust="spacingAndGlyphs">1</text>
<rect x="78.10" y="363.00" width="13.30" height="1.60" fill="#000"/>
<text x="38.25" y="476.47" font-family="Liberation Serif" font-weight="normal" font-style="normal" font-size="33.33" textLength="37.14" lengthAdjust="spacingAndGlyphs">10</text>
<text x="93.06" y="465.00" font-family="Liberation Serif" font-weight="normal" font-style="normal" font-size="20.83" textLength="12.62" lengthAdjust="spacingAndGlyphs">2</text>
<rect x="77.50" y="458.40" width="13.10" height="1.60" fill="#000"/>
<text x="166.93" y="567.47" font-family="Liberation Serif" font-weight="normal" font-style="normal" font-size="33.48" textLength="37.37" lengthAdjust="spacingAndGlyphs">10</text>
<text x="221.71" y="556.10" font-family="Liberation Serif" font-weight="normal" font-style="normal" font-size="20.83" textLength="13.25" lengthAdjust="spacingAndGlyphs">2</text>
<rect x="206.80" y="549.00" width="12.50" height="1.60" fill="#000"/>
<text x="391.01" y="567.26" font-family="Liberation Serif" font-weight="normal" font-style="normal" font-size="33.63" textLength="37.60" lengthAdjust="spacingAndGlyphs">10</text>
<text x="446.47" y="556.70" font-family="Liberation Serif" font-weight="normal" font-style="normal" font-size="23.94" textLength="12.20" lengthAdjust="spacingAndGlyphs">1</text>
<rect x="430.30" y="549.10" width="13.60" height="1.60" fill="#000"/>
<text x="622.49" y="567.66" font-family="Liberation Serif" font-weight="normal" font-style="normal" font-size="34.07" textLength="37.83" lengthAdjust="spacingAndGlyphs">10</text>
<text x="660.45" y="556.19" font-family="Liberation Serif" font-weight="normal" font-style="normal" font-size="21.48" textLength="12.71" lengthAdjust="spacingAndGlyphs">0</text>
<text x="143.59" y="601.30" font-family="Liberation Serif" font-weight="normal" font-style="normal" font-size="32.66" textLength="490.93" lengthAdjust="spacingAndGlyphs">Cluster size / Hamming distance</text>
<g transform="translate(26.6,354.7) rotate(-90)"><text x="-1.13" y="0.00" font-family="Liberation Serif" font-weight="normal" font-style="normal" font-size="34.35" textLength="158.64" lengthAdjust="spacingAndGlyphs">Frequency</text></g>
<text x="114.83" y="638.43" font-family="Liberation Serif" font-weight="bold" font-style="normal" font-size="36.87" textLength="19.56" lengthAdjust="spacingAndGlyphs">a</text>
<text x="812.20" y="639.36" font-family="Liberation Serif" font-weight="bold" font-style="normal" font-size="33.76" textLength="22.03" lengthAdjust="spacingAndGlyphs">b</text>
<rect x="503.9" y="23.9" width="153.1" height="250.6" rx="4" fill="#fff" fill-opacity="0.8" stroke="#d6d6d6" stroke-width="1.1"/>
<circle cx="528" cy="37.1" r="4" fill="#3387bc"/>
<text x="558.70" y="42.70" font-family="Liberation Serif" font-weight="normal" font-style="normal" font-size="17.27" textLength="73.10" lengthAdjust="spacingAndGlyphs">bx=0.50</text>
<circle cx="528" cy="61.8" r="4" fill="#66c2a5"/>
<text x="558.70" y="67.37" font-family="Liberation Serif" font-weight="normal" font-style="normal" font-size="17.27" textLength="73.16" lengthAdjust="spacingAndGlyphs">bx=0.75</text>
<circle cx="528" cy="86.4" r="4" fill="#aadca4"/>
<text x="558.70" y="92.04" font-family="Liberation Serif" font-weight="normal" font-style="normal" font-size="17.27" textLength="73.10" lengthAdjust="spacingAndGlyphs">bx=1.00</text>
<circle cx="528" cy="111.1" r="4" fill="#e6f598"/>
<text x="558.70" y="116.71" font-family="Liberation Serif" font-weight="normal" font-style="normal" font-size="17.27" textLength="73.16" lengthAdjust="spacingAndGlyphs">bx=1.25</text>
<circle cx="528" cy="135.8" r="4" fill="#fffebe"/>
<text x="558.70" y="141.38" font-family="Liberation Serif" font-weight="normal" font-style="normal" font-size="17.27" textLength="73.61" lengthAdjust="spacingAndGlyphs">bx=1.51</text>
<circle cx="528" cy="160.5" r="4" fill="#fee08b"/>
<text x="558.70" y="166.05" font-family="Liberation Serif" font-weight="normal" font-style="normal" font-size="17.27" textLength="73.61" lengthAdjust="spacingAndGlyphs">bx=2.01</text>
<circle cx="528" cy="185.1" r="4" fill="#fdad60"/>
<text x="558.70" y="190.72" font-family="Liberation Serif" font-weight="normal" font-style="normal" font-size="17.27" textLength="73.16" lengthAdjust="spacingAndGlyphs">bx=3.99</text>
<circle cx="528" cy="209.8" r="4" fill="#f46d43"/>
<text x="558.70" y="215.39" font-family="Liberation Serif" font-weight="normal" font-style="normal" font-size="17.27" textLength="72.61" lengthAdjust="spacingAndGlyphs">bx=8.04</text>
<circle cx="528" cy="234.5" r="4" fill="#d43d4f"/>
<text x="558.70" y="240.06" font-family="Liberation Serif" font-weight="normal" font-style="normal" font-size="17.27" textLength="84.04" lengthAdjust="spacingAndGlyphs">bx=37.96</text>
<line x1="508.5" y1="259.1" x2="545.5" y2="259.1" stroke="#f00" stroke-width="1.8"/>
<text x="559.44" y="264.80" font-family="Liberation Serif" font-weight="normal" font-style="normal" font-size="18.32" textLength="90.20" lengthAdjust="spacingAndGlyphs">Fitted line</text>
<g clip-path="url(#cr)">
<circle cx="1099.2" cy="22.8" r="3.9" fill="#d43d4f" fill-opacity="0.87" stroke="#fff" stroke-width="0.6"/>
<circle cx="1091.5" cy="38.3" r="3.9" fill="#d43d4f" fill-opacity="0.93" stroke="#fff" stroke-width="0.6"/>
<circle cx="1089.9" cy="52.2" r="3.9" fill="#d43d4f" fill-opacity="1.00" stroke="#fff" stroke-width="0.6"/>
<circle cx="1089.9" cy="108.0" r="3.9" fill="#d43d4f" fill-opacity="1.00" stroke="#fff" stroke-width="0.6"/>
<circle cx="1099.2" cy="109.6" r="3.9" fill="#d43d4f" fill-opacity="1.00" stroke="#fff" stroke-width="0.6"/>
<circle cx="1101.2" cy="23.5" r="3.9" fill="#d43d4f" fill-opacity="0.87" stroke="#fff" stroke-width="0.6"/>
<circle cx="1110.5" cy="31.3" r="3.9" fill="#d43d4f" fill-opacity="0.78" stroke="#fff" stroke-width="0.6"/>
<circle cx="1129.1" cy="38.3" r="3.9" fill="#d43d4f" fill-opacity="0.78" stroke="#fff" stroke-width="0.6"/>
<circle cx="1184.1" cy="28.2" r="3.9" fill="#d43d4f" fill-opacity="0.78" stroke="#fff" stroke-width="0.6"/>
<circle cx="1119.8" cy="70.0" r="3.9" fill="#d43d4f" fill-opacity="0.84" stroke="#fff" stroke-width="0.6"/>
<circle cx="1129.9" cy="79.3" r="3.9" fill="#d43d4f" fill-opacity="0.84" stroke="#fff" stroke-width="0.6"/>
<circle cx="1134.5" cy="93.3" r="3.9" fill="#d43d4f" fill-opacity="0.84" stroke="#fff" stroke-width="0.6"/>
<circle cx="1179.5" cy="63.1" r="3.9" fill="#d43d4f" fill-opacity="0.87" stroke="#fff" stroke-width="0.6"/>
<circle cx="1174.1" cy="73.1" r="3.9" fill="#d43d4f" fill-opacity="0.87" stroke="#fff" stroke-width="0.6"/>
<circle cx="1174.1" cy="110.3" r="3.9" fill="#d43d4f" fill-opacity="0.93" stroke="#fff" stroke-width="0.6"/>
<circle cx="1188.8" cy="104.1" r="3.9" fill="#d43d4f" fill-opacity="0.90" stroke="#fff" stroke-width="0.6"/>
<circle cx="1192.7" cy="109.6" r="3.9" fill="#d43d4f" fill-opacity="0.90" stroke="#fff" stroke-width="0.6"/>
<circle cx="1157.0" cy="15.8" r="3.9" fill="#d43d4f" fill-opacity="0.78" stroke="#fff" stroke-width="0.6"/>
<circle cx="1105.9" cy="15.8" r="3.9" fill="#d43d4f" fill-opacity="0.87" stroke="#fff" stroke-width="0.6"/>
<circle cx="1202.4" cy="52.2" r="3.9" fill="#d43d4f" fill-opacity="0.87" stroke="#fff" stroke-width="0.6"/>
<circle cx="1202.4" cy="56.1" r="3.9" fill="#d43d4f" fill-opacity="0.78" stroke="#fff" stroke-width="0.6"/>
<circle cx="1239.6" cy="60.7" r="3.9" fill="#d43d4f" fill-opacity="0.78" stroke="#fff" stroke-width="0.6"/>
<circle cx="1276.0" cy="42.9" r="3.9" fill="#d43d4f" fill-opacity="0.78" stroke="#fff" stroke-width="0.6"/>
<circle cx="1239.6" cy="90.2" r="3.9" fill="#d43d4f" fill-opacity="0.78" stroke="#fff" stroke-width="0.6"/>
<circle cx="1207.1" cy="93.3" r="3.9" fill="#d43d4f" fill-opacity="0.78" stroke="#fff" stroke-width="0.6"/>
<circle cx="1257.4" cy="101.8" r="3.9" fill="#d43d4f" fill-opacity="0.78" stroke="#fff" stroke-width="0.6"/>
<circle cx="1190.8" cy="104.1" r="3.9" fill="#d43d4f" fill-opacity="0.93" stroke="#fff" stroke-width="0.6"/>
<circle cx="1193.9" cy="108.8" r="3.9" fill="#d43d4f" fill-opacity="0.90" stroke="#fff" stroke-width="0.6"/>
<circle cx="1230.3" cy="111.1" r="3.9" fill="#d43d4f" fill-opacity="0.87" stroke="#fff" stroke-width="0.6"/>
<circle cx="1235.0" cy="111.1" r="3.9" fill="#d43d4f" fill-opacity="0.87" stroke="#fff" stroke-width="0.6"/>
<circle cx="1299.0" cy="16.6" r="3.9" fill="#d43d4f" fill-opacity="0.78" stroke="#fff" stroke-width="0.6"/>
<circle cx="1336.2" cy="31.3" r="3.9" fill="#d43d4f" fill-opacity="0.78" stroke="#fff" stroke-width="0.6"/>
<circle cx="1354.8" cy="41.4" r="3.9" fill="#d43d4f" fill-opacity="0.78" stroke="#fff" stroke-width="0.6"/>
<circle cx="1354.8" cy="41.4" r="3.9" fill="#d43d4f" fill-opacity="0.78" stroke="#fff" stroke-width="0.6"/>
<circle cx="1326.9" cy="49.9" r="3.9" fill="#d43d4f" fill-opacity="0.78" stroke="#fff" stroke-width="0.6"/>
<circle cx="1336.2" cy="62.3" r="3.9" fill="#d43d4f" fill-opacity="0.78" stroke="#fff" stroke-width="0.6"/>
<circle cx="1308.3" cy="107.2" r="3.9" fill="#d43d4f" fill-opacity="0.78" stroke="#fff" stroke-width="0.6"/>
<circle cx="1096.9" cy="116.2" r="3.9" fill="#d43d4f" fill-opacity="1.00" stroke="#fff" stroke-width="0.6"/>
<circle cx="1097.3" cy="117.0" r="3.9" fill="#d43d4f" fill-opacity="1.00" stroke="#fff" stroke-width="0.6"/>
<circle cx="1165.5" cy="113.1" r="3.9" fill="#d43d4f" fill-opacity="0.90" stroke="#fff" stroke-width="0.6"/>
<circle cx="1166.3" cy="116.2" r="3.9" fill="#d43d4f" fill-opacity="0.93" stroke="#fff" stroke-width="0.6"/>
<circle cx="1175.6" cy="111.6" r="3.9" fill="#d43d4f" fill-opacity="0.93" stroke="#fff" stroke-width="0.6"/>
<circle cx="1180.3" cy="119.3" r="3.9" fill="#d43d4f" fill-opacity="0.84" stroke="#fff" stroke-width="0.6"/>
<circle cx="1174.8" cy="127.1" r="3.9" fill="#d43d4f" fill-opacity="0.81" stroke="#fff" stroke-width="0.6"/>
<circle cx="1135.3" cy="123.2" r="3.9" fill="#d43d4f" fill-opacity="0.96" stroke="#fff" stroke-width="0.6"/>
<circle cx="1119.8" cy="126.3" r="3.9" fill="#d43d4f" fill-opacity="0.93" stroke="#fff" stroke-width="0.6"/>
<circle cx="1114.4" cy="138.7" r="3.9" fill="#d43d4f" fill-opacity="0.81" stroke="#fff" stroke-width="0.6"/>
<circle cx="1143.1" cy="147.2" r="3.9" fill="#d43d4f" fill-opacity="0.99" stroke="#fff" stroke-width="0.6"/>
<circle cx="1142.3" cy="141.0" r="3.9" fill="#d43d4f" fill-opacity="0.96" stroke="#fff" stroke-width="0.6"/>
<circle cx="1184.1" cy="141.8" r="3.9" fill="#d43d4f" fill-opacity="0.81" stroke="#fff" stroke-width="0.6"/>
<circle cx="1158.6" cy="143.3" r="3.9" fill="#d43d4f" fill-opacity="0.90" stroke="#fff" stroke-width="0.6"/>
<circle cx="1129.1" cy="161.2" r="3.9" fill="#d43d4f" fill-opacity="0.90" stroke="#fff" stroke-width="0.6"/>
<circle cx="1180.3" cy="164.3" r="3.9" fill="#d43d4f" fill-opacity="0.81" stroke="#fff" stroke-width="0.6"/>
<circle cx="1212.5" cy="119.3" r="3.9" fill="#d43d4f" fill-opacity="0.78" stroke="#fff" stroke-width="0.6"/>
<circle cx="1230.3" cy="111.6" r="3.9" fill="#d43d4f" fill-opacity="0.87" stroke="#fff" stroke-width="0.6"/>
<circle cx="1235.0" cy="111.9" r="3.9" fill="#d43d4f" fill-opacity="0.87" stroke="#fff" stroke-width="0.6"/>
<circle cx="1257.4" cy="132.5" r="3.9" fill="#d43d4f" fill-opacity="0.78" stroke="#fff" stroke-width="0.6"/>
<circle cx="1202.4" cy="138.7" r="3.9" fill="#d43d4f" fill-opacity="0.78" stroke="#fff" stroke-width="0.6"/>
<circle cx="1221.0" cy="153.4" r="3.9" fill="#d43d4f" fill-opacity="0.78" stroke="#fff" stroke-width="0.6"/>
<circle cx="1225.7" cy="157.3" r="3.9" fill="#d43d4f" fill-opacity="0.78" stroke="#fff" stroke-width="0.6"/>
<circle cx="1257.4" cy="159.6" r="3.9" fill="#d43d4f" fill-opacity="0.78" stroke="#fff" stroke-width="0.6"/>
<circle cx="1287.7" cy="147.2" r="3.9" fill="#d43d4f" fill-opacity="0.81" stroke="#fff" stroke-width="0.6"/>
<circle cx="1257.4" cy="171.2" r="3.9" fill="#d43d4f" fill-opacity="0.81" stroke="#fff" stroke-width="0.6"/>
<circle cx="1262.1" cy="172.8" r="3.9" fill="#d43d4f" fill-opacity="0.78" stroke="#fff" stroke-width="0.6"/>
<circle cx="1216.4" cy="178.2" r="3.9" fill="#d43d4f" fill-opacity="0.78" stroke="#fff" stroke-width="0.6"/>
<circle cx="1244.3" cy="187.5" r="3.9" fill="#d43d4f" fill-opacity="0.78" stroke="#fff" stroke-width="0.6"/>
<circle cx="1280.7" cy="193.7" r="3.9" fill="#d43d4f" fill-opacity="0.78" stroke="#fff" stroke-width="0.6"/>
<circle cx="1289.7" cy="147.2" r="3.9" fill="#d43d4f" fill-opacity="0.81" stroke="#fff" stroke-width="0.6"/>
<circle cx="1295.1" cy="150.0" r="3.9" fill="#d43d4f" fill-opacity="0.81" stroke="#fff" stroke-width="0.6"/>
<circle cx="1340.0" cy="199.1" r="3.9" fill="#d43d4f" fill-opacity="0.78" stroke="#fff" stroke-width="0.6"/>
<circle cx="1051.5" cy="256.9" r="3.9" fill="#d43d4f" fill-opacity="0.81" stroke="#fff" stroke-width="0.6"/>
<circle cx="1143.0" cy="219.7" r="3.9" fill="#d43d4f" fill-opacity="0.81" stroke="#fff" stroke-width="0.6"/>
<circle cx="1125.2" cy="235.2" r="3.9" fill="#d43d4f" fill-opacity="0.87" stroke="#fff" stroke-width="0.6"/>
<circle cx="1097.3" cy="229.8" r="3.9" fill="#d43d4f" fill-opacity="0.96" stroke="#fff" stroke-width="0.6"/>
<circle cx="1138.4" cy="248.4" r="3.9" fill="#d43d4f" fill-opacity="0.78" stroke="#fff" stroke-width="0.6"/>
<circle cx="1113.6" cy="246.1" r="3.9" fill="#d43d4f" fill-opacity="0.90" stroke="#fff" stroke-width="0.6"/>
<circle cx="1081.0" cy="252.3" r="3.9" fill="#d43d4f" fill-opacity="0.99" stroke="#fff" stroke-width="0.6"/>
<circle cx="1051.6" cy="256.2" r="3.9" fill="#d43d4f" fill-opacity="0.81" stroke="#fff" stroke-width="0.6"/>
<circle cx="1119.8" cy="256.9" r="3.9" fill="#d43d4f" fill-opacity="0.84" stroke="#fff" stroke-width="0.6"/>
<circle cx="1124.4" cy="261.6" r="3.9" fill="#d43d4f" fill-opacity="0.81" stroke="#fff" stroke-width="0.6"/>
<circle cx="1101.2" cy="257.7" r="3.9" fill="#d43d4f" fill-opacity="0.90" stroke="#fff" stroke-width="0.6"/>
<circle cx="1119.8" cy="274.0" r="3.9" fill="#d43d4f" fill-opacity="0.90" stroke="#fff" stroke-width="0.6"/>
<circle cx="1101.9" cy="284.8" r="3.9" fill="#d43d4f" fill-opacity="0.90" stroke="#fff" stroke-width="0.6"/>
<circle cx="1118.2" cy="281.7" r="3.9" fill="#d43d4f" fill-opacity="0.99" stroke="#fff" stroke-width="0.6"/>
<circle cx="1104.3" cy="289.5" r="3.9" fill="#d43d4f" fill-opacity="1.00" stroke="#fff" stroke-width="0.6"/>
<circle cx="1125.2" cy="289.5" r="3.9" fill="#d43d4f" fill-opacity="1.00" stroke="#fff" stroke-width="0.6"/>
<circle cx="1129.1" cy="292.6" r="3.9" fill="#d43d4f" fill-opacity="0.99" stroke="#fff" stroke-width="0.6"/>
<circle cx="1130.6" cy="299.6" r="3.9" fill="#d43d4f" fill-opacity="1.00" stroke="#fff" stroke-width="0.6"/>
<circle cx="1327.2" cy="225.0" r="3.9" fill="#d43d4f" fill-opacity="0.78" stroke="#fff" stroke-width="0.6"/>
<circle cx="1280.7" cy="246.7" r="3.9" fill="#d43d4f" fill-opacity="0.78" stroke="#fff" stroke-width="0.6"/>
<circle cx="1276.2" cy="255.8" r="3.9" fill="#d43d4f" fill-opacity="0.78" stroke="#fff" stroke-width="0.6"/>
<circle cx="1089.8" cy="296.6" r="3.9" fill="#d43d4f" fill-opacity="1.00" stroke="#fff" stroke-width="0.6"/>
<circle cx="1130.2" cy="299.7" r="3.9" fill="#d43d4f" fill-opacity="1.00" stroke="#fff" stroke-width="0.6"/>
<circle cx="1129.4" cy="295.8" r="3.9" fill="#d43d4f" fill-opacity="1.00" stroke="#fff" stroke-width="0.6"/>
<circle cx="1134.0" cy="315.9" r="3.9" fill="#d43d4f" fill-opacity="0.84" stroke="#fff" stroke-width="0.6"/>
<circle cx="1134.0" cy="319.8" r="3.9" fill="#d43d4f" fill-opacity="0.87" stroke="#fff" stroke-width="0.6"/>
<circle cx="1170.5" cy="322.9" r="3.9" fill="#d43d4f" fill-opacity="0.78" stroke="#fff" stroke-width="0.6"/>
<circle cx="1156.5" cy="328.3" r="3.9" fill="#d43d4f" fill-opacity="0.78" stroke="#fff" stroke-width="0.6"/>
<circle cx="1129.4" cy="359.3" r="3.9" fill="#d43d4f" fill-opacity="0.90" stroke="#fff" stroke-width="0.6"/>
<circle cx="921.8" cy="53.4" r="3.9" fill="#d43d4f" fill-opacity="0.99" stroke="#fff" stroke-width="0.6"/>
<circle cx="977.0" cy="22.7" r="3.9" fill="#d43d4f" fill-opacity="0.96" stroke="#fff" stroke-width="0.6"/>
<circle cx="949.7" cy="32.9" r="3.9" fill="#d43d4f" fill-opacity="0.96" stroke="#fff" stroke-width="0.6"/>
<circle cx="999.2" cy="37.2" r="3.9" fill="#d43d4f" fill-opacity="1.00" stroke="#fff" stroke-width="0.6"/>
<circle cx="982.1" cy="42.3" r="3.9" fill="#d43d4f" fill-opacity="1.00" stroke="#fff" stroke-width="0.6"/>
<circle cx="983.8" cy="44.0" r="3.9" fill="#d43d4f" fill-opacity="1.00" stroke="#fff" stroke-width="0.6"/>
<circle cx="1011.1" cy="62.7" r="3.9" fill="#d43d4f" fill-opacity="1.00" stroke="#fff" stroke-width="0.6"/>
<circle cx="987.2" cy="63.6" r="3.9" fill="#d43d4f" fill-opacity="1.00" stroke="#fff" stroke-width="0.6"/>
<circle cx="918.4" cy="77.4" r="3.9" fill="#d43d4f" fill-opacity="0.96" stroke="#fff" stroke-width="0.6"/>
<circle cx="940.5" cy="97.8" r="3.9" fill="#d43d4f" fill-opacity="0.99" stroke="#fff" stroke-width="0.6"/>
<circle cx="977.8" cy="107.2" r="3.9" fill="#d43d4f" fill-opacity="1.00" stroke="#fff" stroke-width="0.6"/>
<circle cx="985.5" cy="91.9" r="3.9" fill="#d43d4f" fill-opacity="0.96" stroke="#fff" stroke-width="0.6"/>
<circle cx="992.3" cy="118.3" r="3.9" fill="#d43d4f" fill-opacity="0.99" stroke="#fff" stroke-width="0.6"/>
<circle cx="1010.2" cy="108.9" r="3.9" fill="#d43d4f" fill-opacity="0.96" stroke="#fff" stroke-width="0.6"/>
<circle cx="979.5" cy="96.1" r="3.9" fill="#d43d4f" fill-opacity="0.99" stroke="#fff" stroke-width="0.6"/>
<circle cx="987.2" cy="68.9" r="3.9" fill="#d43d4f" fill-opacity="1.00" stroke="#fff" stroke-width="0.6"/>
<circle cx="1036.5" cy="21.8" r="3.9" fill="#d43d4f" fill-opacity="0.90" stroke="#fff" stroke-width="0.6"/>
<circle cx="1060.3" cy="32.9" r="3.9" fill="#d43d4f" fill-opacity="0.96" stroke="#fff" stroke-width="0.6"/>
<circle cx="1063.7" cy="33.8" r="3.9" fill="#d43d4f" fill-opacity="0.99" stroke="#fff" stroke-width="0.6"/>
<circle cx="1069.7" cy="32.1" r="3.9" fill="#d43d4f" fill-opacity="0.99" stroke="#fff" stroke-width="0.6"/>
<circle cx="1051.8" cy="51.7" r="3.9" fill="#d43d4f" fill-opacity="0.93" stroke="#fff" stroke-width="0.6"/>
<circle cx="1074.0" cy="17.6" r="3.9" fill="#d43d4f" fill-opacity="0.84" stroke="#fff" stroke-width="0.6"/>
<circle cx="1083.3" cy="22.7" r="3.9" fill="#d43d4f" fill-opacity="0.93" stroke="#fff" stroke-width="0.6"/>
<circle cx="1045.0" cy="55.9" r="3.9" fill="#d43d4f" fill-opacity="0.90" stroke="#fff" stroke-width="0.6"/>
<circle cx="1077.4" cy="66.2" r="3.9" fill="#d43d4f" fill-opacity="0.90" stroke="#fff" stroke-width="0.6"/>
<circle cx="1027.9" cy="94.4" r="3.9" fill="#d43d4f" fill-opacity="1.00" stroke="#fff" stroke-width="0.6"/>
<circle cx="1064.6" cy="90.2" r="3.9" fill="#d43d4f" fill-opacity="1.00" stroke="#fff" stroke-width="0.6"/>
<circle cx="1050.1" cy="90.2" r="3.9" fill="#d43d4f" fill-opacity="0.90" stroke="#fff" stroke-width="0.6"/>
<circle cx="1079.1" cy="68.9" r="3.9" fill="#d43d4f" fill-opacity="0.93" stroke="#fff" stroke-width="0.6"/>
<circle cx="1080.8" cy="85.9" r="3.9" fill="#d43d4f" fill-opacity="0.99" stroke="#fff" stroke-width="0.6"/>
<circle cx="1050.1" cy="122.6" r="3.9" fill="#d43d4f" fill-opacity="0.99" stroke="#fff" stroke-width="0.6"/>
<circle cx="1085.1" cy="105.5" r="3.9" fill="#d43d4f" fill-opacity="1.00" stroke="#fff" stroke-width="0.6"/>
<circle cx="1062.9" cy="121.7" r="3.9" fill="#d43d4f" fill-opacity="1.00" stroke="#fff" stroke-width="0.6"/>
<circle cx="962.2" cy="131.2" r="3.9" fill="#d43d4f" fill-opacity="0.96" stroke="#fff" stroke-width="0.6"/>
<circle cx="950.3" cy="153.4" r="3.9" fill="#d43d4f" fill-opacity="0.90" stroke="#fff" stroke-width="0.6"/>
<circle cx="967.3" cy="140.6" r="3.9" fill="#d43d4f" fill-opacity="1.00" stroke="#fff" stroke-width="0.6"/>
<circle cx="954.6" cy="166.2" r="3.9" fill="#d43d4f" fill-opacity="0.99" stroke="#fff" stroke-width="0.6"/>
<circle cx="934.1" cy="183.8" r="3.9" fill="#d43d4f" fill-opacity="1.00" stroke="#fff" stroke-width="0.6"/>
<circle cx="986.8" cy="125.3" r="3.9" fill="#d43d4f" fill-opacity="0.96" stroke="#fff" stroke-width="0.6"/>
<circle cx="985.9" cy="139.8" r="3.9" fill="#d43d4f" fill-opacity="0.93" stroke="#fff" stroke-width="0.6"/>
<circle cx="969.7" cy="140.6" r="3.9" fill="#d43d4f" fill-opacity="1.00" stroke="#fff" stroke-width="0.6"/>
<circle cx="993.6" cy="121.9" r="3.9" fill="#d43d4f" fill-opacity="0.96" stroke="#fff" stroke-width="0.6"/>
<circle cx="991.9" cy="150.0" r="3.9" fill="#d43d4f" fill-opacity="0.90" stroke="#fff" stroke-width="0.6"/>
<circle cx="973.1" cy="199.6" r="3.9" fill="#d43d4f" fill-opacity="0.84" stroke="#fff" stroke-width="0.6"/>
<circle cx="1049.6" cy="124.0" r="3.9" fill="#d43d4f" fill-opacity="0.99" stroke="#fff" stroke-width="0.6"/>
<circle cx="1097.4" cy="121.4" r="3.9" fill="#d43d4f" fill-opacity="1.00" stroke="#fff" stroke-width="0.6"/>
<circle cx="1097.4" cy="157.7" r="3.9" fill="#d43d4f" fill-opacity="0.90" stroke="#fff" stroke-width="0.6"/>
<circle cx="1105.1" cy="165.3" r="3.9" fill="#d43d4f" fill-opacity="0.96" stroke="#fff" stroke-width="0.6"/>
<circle cx="1102.5" cy="175.6" r="3.9" fill="#d43d4f" fill-opacity="0.96" stroke="#fff" stroke-width="0.6"/>
<circle cx="1064.1" cy="192.8" r="3.9" fill="#d43d4f" fill-opacity="0.99" stroke="#fff" stroke-width="0.6"/>
<circle cx="1050.5" cy="203.8" r="3.9" fill="#d43d4f" fill-opacity="1.00" stroke="#fff" stroke-width="0.6"/>
<circle cx="1088.0" cy="209.0" r="3.9" fill="#d43d4f" fill-opacity="0.90" stroke="#fff" stroke-width="0.6"/>
<circle cx="1102.5" cy="176.6" r="3.9" fill="#d43d4f" fill-opacity="0.93" stroke="#fff" stroke-width="0.6"/>
<circle cx="1061.6" cy="227.7" r="3.9" fill="#d43d4f" fill-opacity="0.96" stroke="#fff" stroke-width="0.6"/>
<circle cx="1089.9" cy="42.9" r="3.9" fill="#f46d43" fill-opacity="0.96" stroke="#fff" stroke-width="0.6"/>
<circle cx="1086.8" cy="101.8" r="3.9" fill="#f46d43" fill-opacity="1.00" stroke="#fff" stroke-width="0.6"/>
<circle cx="1096.1" cy="106.5" r="3.9" fill="#f46d43" fill-opacity="1.00" stroke="#fff" stroke-width="0.6"/>
<circle cx="1097.3" cy="47.6" r="3.9" fill="#f46d43" fill-opacity="1.00" stroke="#fff" stroke-width="0.6"/>
<circle cx="1101.2" cy="54.5" r="3.9" fill="#f46d43" fill-opacity="0.96" stroke="#fff" stroke-width="0.6"/>
<circle cx="1105.9" cy="49.9" r="3.9" fill="#f46d43" fill-opacity="0.90" stroke="#fff" stroke-width="0.6"/>
<circle cx="1137.6" cy="62.3" r="3.9" fill="#f46d43" fill-opacity="0.90" stroke="#fff" stroke-width="0.6"/>
<circle cx="1146.9" cy="68.5" r="3.9" fill="#f46d43" fill-opacity="0.87" stroke="#fff" stroke-width="0.6"/>
<circle cx="1124.5" cy="72.4" r="3.9" fill="#f46d43" fill-opacity="0.84" stroke="#fff" stroke-width="0.6"/>
<circle cx="1146.9" cy="77.0" r="3.9" fill="#f46d43" fill-opacity="0.81" stroke="#fff" stroke-width="0.6"/>
<circle cx="1157.0" cy="84.8" r="3.9" fill="#f46d43" fill-opacity="0.78" stroke="#fff" stroke-width="0.6"/>
<circle cx="1179.5" cy="56.9" r="3.9" fill="#f46d43" fill-opacity="0.78" stroke="#fff" stroke-width="0.6"/>
<circle cx="1129.1" cy="92.5" r="3.9" fill="#f46d43" fill-opacity="0.84" stroke="#fff" stroke-width="0.6"/>
<circle cx="1138.4" cy="102.6" r="3.9" fill="#f46d43" fill-opacity="0.90" stroke="#fff" stroke-width="0.6"/>
<circle cx="1142.3" cy="109.6" r="3.9" fill="#f46d43" fill-opacity="0.93" stroke="#fff" stroke-width="0.6"/>
<circle cx="1165.5" cy="100.3" r="3.9" fill="#f46d43" fill-opacity="0.81" stroke="#fff" stroke-width="0.6"/>
<circle cx="1165.5" cy="108.0" r="3.9" fill="#f46d43" fill-opacity="0.93" stroke="#fff" stroke-width="0.6"/>
<circle cx="1115.2" cy="99.5" r="3.9" fill="#f46d43" fill-opacity="0.96" stroke="#fff" stroke-width="0.6"/>
<circle cx="1191.9" cy="75.5" r="3.9" fill="#f46d43" fill-opacity="0.81" stroke="#fff" stroke-width="0.6"/>
<circle cx="1100.4" cy="111.1" r="3.9" fill="#f46d43" fill-opacity="1.00" stroke="#fff" stroke-width="0.6"/>
<circle cx="1107.4" cy="108.0" r="3.9" fill="#f46d43" fill-opacity="1.00" stroke="#fff" stroke-width="0.6"/>
<circle cx="1146.2" cy="114.2" r="3.9" fill="#f46d43" fill-opacity="0.87" stroke="#fff" stroke-width="0.6"/>
<circle cx="1166.3" cy="112.7" r="3.9" fill="#f46d43" fill-opacity="0.90" stroke="#fff" stroke-width="0.6"/>
<circle cx="1239.6" cy="29.0" r="3.9" fill="#f46d43" fill-opacity="0.78" stroke="#fff" stroke-width="0.6"/>
<circle cx="1207.1" cy="42.1" r="3.9" fill="#f46d43" fill-opacity="0.81" stroke="#fff" stroke-width="0.6"/>
<circle cx="1230.3" cy="43.7" r="3.9" fill="#f46d43" fill-opacity="0.78" stroke="#fff" stroke-width="0.6"/>
<circle cx="1239.6" cy="49.1" r="3.9" fill="#f46d43" fill-opacity="0.81" stroke="#fff" stroke-width="0.6"/>
<circle cx="1193.1" cy="75.5" r="3.9" fill="#f46d43" fill-opacity="0.81" stroke="#fff" stroke-width="0.6"/>
<circle cx="1257.4" cy="97.2" r="3.9" fill="#f46d43" fill-opacity="0.78" stroke="#fff" stroke-width="0.6"/>
<circle cx="1287.7" cy="23.5" r="3.9" fill="#f46d43" fill-opacity="0.78" stroke="#fff" stroke-width="0.6"/>
<circle cx="1289.7" cy="23.5" r="3.9" fill="#f46d43" fill-opacity="0.81" stroke="#fff" stroke-width="0.6"/>
<circle cx="1105.9" cy="113.1" r="3.9" fill="#f46d43" fill-opacity="1.00" stroke="#fff" stroke-width="0.6"/>
<circle cx="1124.5" cy="119.3" r="3.9" fill="#f46d43" fill-opacity="1.00" stroke="#fff" stroke-width="0.6"/>
<circle cx="1129.1" cy="124.0" r="3.9" fill="#f46d43" fill-opacity="0.96" stroke="#fff" stroke-width="0.6"/>
<circle cx="1119.8" cy="142.6" r="3.9" fill="#f46d43" fill-opacity="0.84" stroke="#fff" stroke-width="0.6"/>
<circle cx="1128.3" cy="136.4" r="3.9" fill="#f46d43" fill-opacity="0.93" stroke="#fff" stroke-width="0.6"/>
<circle cx="1147.7" cy="137.1" r="3.9" fill="#f46d43" fill-opacity="0.99" stroke="#fff" stroke-width="0.6"/>
<circle cx="1153.9" cy="133.3" r="3.9" fill="#f46d43" fill-opacity="0.93" stroke="#fff" stroke-width="0.6"/>
<circle cx="1136.9" cy="142.6" r="3.9" fill="#f46d43" fill-opacity="0.96" stroke="#fff" stroke-width="0.6"/>
<circle cx="1175.6" cy="151.1" r="3.9" fill="#f46d43" fill-opacity="0.84" stroke="#fff" stroke-width="0.6"/>
<circle cx="1153.1" cy="155.0" r="3.9" fill="#f46d43" fill-opacity="0.78" stroke="#fff" stroke-width="0.6"/>
<circle cx="1170.2" cy="167.4" r="3.9" fill="#f46d43" fill-opacity="0.87" stroke="#fff" stroke-width="0.6"/>
<circle cx="1161.7" cy="170.5" r="3.9" fill="#f46d43" fill-opacity="0.84" stroke="#fff" stroke-width="0.6"/>
<circle cx="1174.8" cy="181.3" r="3.9" fill="#f46d43" fill-opacity="0.78" stroke="#fff" stroke-width="0.6"/>
<circle cx="1193.9" cy="115.4" r="3.9" fill="#f46d43" fill-opacity="0.90" stroke="#fff" stroke-width="0.6"/>
<circle cx="1262.1" cy="123.2" r="3.9" fill="#f46d43" fill-opacity="0.78" stroke="#fff" stroke-width="0.6"/>
<circle cx="1212.5" cy="143.3" r="3.9" fill="#f46d43" fill-opacity="0.78" stroke="#fff" stroke-width="0.6"/>
<circle cx="1362.5" cy="139.5" r="3.9" fill="#f46d43" fill-opacity="0.78" stroke="#fff" stroke-width="0.6"/>
<circle cx="1046.8" cy="281.0" r="3.9" fill="#f46d43" fill-opacity="0.96" stroke="#fff" stroke-width="0.6"/>
<circle cx="1119.8" cy="238.3" r="3.9" fill="#f46d43" fill-opacity="0.93" stroke="#fff" stroke-width="0.6"/>
<circle cx="1133.7" cy="240.7" r="3.9" fill="#f46d43" fill-opacity="0.84" stroke="#fff" stroke-width="0.6"/>
<circle cx="1081.0" cy="246.1" r="3.9" fill="#f46d43" fill-opacity="0.96" stroke="#fff" stroke-width="0.6"/>
<circle cx="1092.6" cy="270.1" r="3.9" fill="#f46d43" fill-opacity="0.84" stroke="#fff" stroke-width="0.6"/>
<circle cx="1093.4" cy="298.0" r="3.9" fill="#f46d43" fill-opacity="1.00" stroke="#fff" stroke-width="0.6"/>
<circle cx="1110.5" cy="284.8" r="3.9" fill="#f46d43" fill-opacity="1.00" stroke="#fff" stroke-width="0.6"/>
<circle cx="1089.5" cy="298.0" r="3.9" fill="#f46d43" fill-opacity="1.00" stroke="#fff" stroke-width="0.6"/>
<circle cx="1234.1" cy="226.4" r="3.9" fill="#f46d43" fill-opacity="0.78" stroke="#fff" stroke-width="0.6"/>
<circle cx="1212.0" cy="264.4" r="3.9" fill="#f46d43" fill-opacity="0.78" stroke="#fff" stroke-width="0.6"/>
<circle cx="1206.7" cy="297.7" r="3.9" fill="#f46d43" fill-opacity="0.78" stroke="#fff" stroke-width="0.6"/>
<circle cx="1272.0" cy="212.4" r="3.9" fill="#f46d43" fill-opacity="0.78" stroke="#fff" stroke-width="0.6"/>
<circle cx="1295.0" cy="275.2" r="3.9" fill="#f46d43" fill-opacity="0.78" stroke="#fff" stroke-width="0.6"/>
<circle cx="1086.7" cy="298.1" r="3.9" fill="#f46d43" fill-opacity="1.00" stroke="#fff" stroke-width="0.6"/>
<circle cx="1105.0" cy="334.5" r="3.9" fill="#f46d43" fill-opacity="0.99" stroke="#fff" stroke-width="0.6"/>
<circle cx="1118.4" cy="336.1" r="3.9" fill="#f46d43" fill-opacity="1.00" stroke="#fff" stroke-width="0.6"/>
<circle cx="1092.1" cy="357.8" r="3.9" fill="#f46d43" fill-opacity="0.78" stroke="#fff" stroke-width="0.6"/>
<circle cx="1134.0" cy="310.5" r="3.9" fill="#f46d43" fill-opacity="0.96" stroke="#fff" stroke-width="0.6"/>
<circle cx="1206.9" cy="297.8" r="3.9" fill="#f46d43" fill-opacity="0.78" stroke="#fff" stroke-width="0.6"/>
<circle cx="1119.3" cy="335.6" r="3.9" fill="#f46d43" fill-opacity="1.00" stroke="#fff" stroke-width="0.6"/>
<circle cx="1156.5" cy="338.4" r="3.9" fill="#f46d43" fill-opacity="0.81" stroke="#fff" stroke-width="0.6"/>
<circle cx="1124.7" cy="341.0" r="3.9" fill="#f46d43" fill-opacity="0.90" stroke="#fff" stroke-width="0.6"/>
<circle cx="1134.0" cy="374.8" r="3.9" fill="#f46d43" fill-opacity="0.84" stroke="#fff" stroke-width="0.6"/>
<circle cx="1152.6" cy="385.7" r="3.9" fill="#f46d43" fill-opacity="0.78" stroke="#fff" stroke-width="0.6"/>
<circle cx="904.7" cy="50.8" r="3.9" fill="#f46d43" fill-opacity="1.00" stroke="#fff" stroke-width="0.6"/>
<circle cx="901.3" cy="34.6" r="3.9" fill="#f46d43" fill-opacity="1.00" stroke="#fff" stroke-width="0.6"/>
<circle cx="949.7" cy="20.1" r="3.9" fill="#f46d43" fill-opacity="0.87" stroke="#fff" stroke-width="0.6"/>
<circle cx="1000.9" cy="21.8" r="3.9" fill="#f46d43" fill-opacity="1.00" stroke="#fff" stroke-width="0.6"/>
<circle cx="982.1" cy="36.3" r="3.9" fill="#f46d43" fill-opacity="1.00" stroke="#fff" stroke-width="0.6"/>
<circle cx="978.7" cy="38.9" r="3.9" fill="#f46d43" fill-opacity="1.00" stroke="#fff" stroke-width="0.6"/>
<circle cx="988.1" cy="44.8" r="3.9" fill="#f46d43" fill-opacity="1.00" stroke="#fff" stroke-width="0.6"/>
<circle cx="988.1" cy="56.8" r="3.9" fill="#f46d43" fill-opacity="1.00" stroke="#fff" stroke-width="0.6"/>
<circle cx="945.6" cy="101.2" r="3.9" fill="#f46d43" fill-opacity="0.93" stroke="#fff" stroke-width="0.6"/>
<circle cx="990.6" cy="95.3" r="3.9" fill="#f46d43" fill-opacity="0.99" stroke="#fff" stroke-width="0.6"/>
<circle cx="967.6" cy="108.1" r="3.9" fill="#f46d43" fill-opacity="0.99" stroke="#fff" stroke-width="0.6"/>
<circle cx="973.6" cy="107.2" r="3.9" fill="#f46d43" fill-opacity="0.96" stroke="#fff" stroke-width="0.6"/>
<circle cx="988.9" cy="103.0" r="3.9" fill="#f46d43" fill-opacity="0.99" stroke="#fff" stroke-width="0.6"/>
<circle cx="1051.0" cy="23.5" r="3.9" fill="#f46d43" fill-opacity="0.96" stroke="#fff" stroke-width="0.6"/>
<circle cx="1062.0" cy="62.7" r="3.9" fill="#f46d43" fill-opacity="0.87" stroke="#fff" stroke-width="0.6"/>
<circle cx="1027.1" cy="36.3" r="3.9" fill="#f46d43" fill-opacity="1.00" stroke="#fff" stroke-width="0.6"/>
<circle cx="1036.5" cy="38.0" r="3.9" fill="#f46d43" fill-opacity="1.00" stroke="#fff" stroke-width="0.6"/>
<circle cx="1036.5" cy="46.5" r="3.9" fill="#f46d43" fill-opacity="1.00" stroke="#fff" stroke-width="0.6"/>
<circle cx="1056.1" cy="31.2" r="3.9" fill="#f46d43" fill-opacity="0.93" stroke="#fff" stroke-width="0.6"/>
<circle cx="1066.3" cy="26.9" r="3.9" fill="#f46d43" fill-opacity="0.96" stroke="#fff" stroke-width="0.6"/>
<circle cx="1075.7" cy="39.7" r="3.9" fill="#f46d43" fill-opacity="0.99" stroke="#fff" stroke-width="0.6"/>
<circle cx="1074.8" cy="49.1" r="3.9" fill="#f46d43" fill-opacity="0.96" stroke="#fff" stroke-width="0.6"/>
<circle cx="1082.5" cy="48.2" r="3.9" fill="#f46d43" fill-opacity="0.96" stroke="#fff" stroke-width="0.6"/>
<circle cx="1082.5" cy="53.4" r="3.9" fill="#f46d43" fill-opacity="0.90" stroke="#fff" stroke-width="0.6"/>
<circle cx="1085.5" cy="29.5" r="3.9" fill="#f46d43" fill-opacity="0.93" stroke="#fff" stroke-width="0.6"/>
<circle cx="1056.1" cy="84.2" r="3.9" fill="#f46d43" fill-opacity="0.96" stroke="#fff" stroke-width="0.6"/>
<circle cx="1023.7" cy="104.7" r="3.9" fill="#f46d43" fill-opacity="1.00" stroke="#fff" stroke-width="0.6"/>
<circle cx="1030.5" cy="103.8" r="3.9" fill="#f46d43" fill-opacity="0.96" stroke="#fff" stroke-width="0.6"/>
<circle cx="1031.3" cy="111.5" r="3.9" fill="#f46d43" fill-opacity="0.96" stroke="#fff" stroke-width="0.6"/>
<circle cx="1041.6" cy="115.7" r="3.9" fill="#f46d43" fill-opacity="0.99" stroke="#fff" stroke-width="0.6"/>
<circle cx="1074.0" cy="85.9" r="3.9" fill="#f46d43" fill-opacity="0.99" stroke="#fff" stroke-width="0.6"/>
<circle cx="1075.7" cy="102.1" r="3.9" fill="#f46d43" fill-opacity="0.93" stroke="#fff" stroke-width="0.6"/>
<circle cx="1067.2" cy="119.2" r="3.9" fill="#f46d43" fill-opacity="0.99" stroke="#fff" stroke-width="0.6"/>
<circle cx="1085.1" cy="91.0" r="3.9" fill="#f46d43" fill-opacity="0.99" stroke="#fff" stroke-width="0.6"/>
<circle cx="911.9" cy="156.0" r="3.9" fill="#f46d43" fill-opacity="0.90" stroke="#fff" stroke-width="0.6"/>
<circle cx="954.6" cy="170.4" r="3.9" fill="#f46d43" fill-opacity="0.99" stroke="#fff" stroke-width="0.6"/>
<circle cx="959.7" cy="168.7" r="3.9" fill="#f46d43" fill-opacity="1.00" stroke="#fff" stroke-width="0.6"/>
<circle cx="985.9" cy="131.2" r="3.9" fill="#f46d43" fill-opacity="0.99" stroke="#fff" stroke-width="0.6"/>
<circle cx="1008.1" cy="130.4" r="3.9" fill="#f46d43" fill-opacity="0.90" stroke="#fff" stroke-width="0.6"/>
<circle cx="1004.7" cy="154.2" r="3.9" fill="#f46d43" fill-opacity="0.87" stroke="#fff" stroke-width="0.6"/>
<circle cx="991.0" cy="159.4" r="3.9" fill="#f46d43" fill-opacity="0.96" stroke="#fff" stroke-width="0.6"/>
<circle cx="1028.5" cy="121.9" r="3.9" fill="#f46d43" fill-opacity="0.90" stroke="#fff" stroke-width="0.6"/>
<circle cx="1004.7" cy="180.8" r="3.9" fill="#f46d43" fill-opacity="0.84" stroke="#fff" stroke-width="0.6"/>
<circle cx="969.7" cy="180.8" r="3.9" fill="#f46d43" fill-opacity="1.00" stroke="#fff" stroke-width="0.6"/>
<circle cx="986.8" cy="180.8" r="3.9" fill="#f46d43" fill-opacity="1.00" stroke="#fff" stroke-width="0.6"/>
<circle cx="976.5" cy="175.7" r="3.9" fill="#f46d43" fill-opacity="1.00" stroke="#fff" stroke-width="0.6"/>
<circle cx="1065.0" cy="122.7" r="3.9" fill="#f46d43" fill-opacity="1.00" stroke="#fff" stroke-width="0.6"/>
<circle cx="1082.9" cy="128.2" r="3.9" fill="#f46d43" fill-opacity="0.90" stroke="#fff" stroke-width="0.6"/>
<circle cx="1091.4" cy="133.8" r="3.9" fill="#f46d43" fill-opacity="0.99" stroke="#fff" stroke-width="0.6"/>
<circle cx="1097.4" cy="133.8" r="3.9" fill="#f46d43" fill-opacity="0.93" stroke="#fff" stroke-width="0.6"/>
<circle cx="1092.3" cy="140.6" r="3.9" fill="#f46d43" fill-opacity="0.96" stroke="#fff" stroke-width="0.6"/>
<circle cx="1087.6" cy="164.1" r="3.9" fill="#f46d43" fill-opacity="0.87" stroke="#fff" stroke-width="0.6"/>
<circle cx="1082.9" cy="170.4" r="3.9" fill="#f46d43" fill-opacity="0.96" stroke="#fff" stroke-width="0.6"/>
<circle cx="1054.8" cy="183.4" r="3.9" fill="#f46d43" fill-opacity="0.99" stroke="#fff" stroke-width="0.6"/>
<circle cx="1047.1" cy="195.3" r="3.9" fill="#f46d43" fill-opacity="0.99" stroke="#fff" stroke-width="0.6"/>
<circle cx="1043.7" cy="191.9" r="3.9" fill="#f46d43" fill-opacity="0.96" stroke="#fff" stroke-width="0.6"/>
<circle cx="1068.4" cy="198.3" r="3.9" fill="#f46d43" fill-opacity="0.96" stroke="#fff" stroke-width="0.6"/>
<circle cx="1042.0" cy="209.8" r="3.9" fill="#f46d43" fill-opacity="0.90" stroke="#fff" stroke-width="0.6"/>
<circle cx="1061.6" cy="202.1" r="3.9" fill="#f46d43" fill-opacity="0.96" stroke="#fff" stroke-width="0.6"/>
<circle cx="1076.9" cy="216.6" r="3.9" fill="#f46d43" fill-opacity="0.99" stroke="#fff" stroke-width="0.6"/>
<circle cx="1083.7" cy="186.8" r="3.9" fill="#f46d43" fill-opacity="0.99" stroke="#fff" stroke-width="0.6"/>
<circle cx="1101.6" cy="182.5" r="3.9" fill="#f46d43" fill-opacity="0.96" stroke="#fff" stroke-width="0.6"/>
<circle cx="1101.6" cy="217.5" r="3.9" fill="#f46d43" fill-opacity="0.87" stroke="#fff" stroke-width="0.6"/>
<circle cx="1091.5" cy="25.1" r="3.9" fill="#fdad60" fill-opacity="0.90" stroke="#fff" stroke-width="0.6"/>
<circle cx="1086.8" cy="29.0" r="3.9" fill="#fdad60" fill-opacity="0.90" stroke="#fff" stroke-width="0.6"/>
<circle cx="1093.0" cy="44.5" r="3.9" fill="#fdad60" fill-opacity="0.99" stroke="#fff" stroke-width="0.6"/>
<circle cx="1096.1" cy="47.6" r="3.9" fill="#fdad60" fill-opacity="1.00" stroke="#fff" stroke-width="0.6"/>
<circle cx="1099.2" cy="52.2" r="3.9" fill="#fdad60" fill-opacity="0.96" stroke="#fff" stroke-width="0.6"/>
<circle cx="1086.8" cy="91.0" r="3.9" fill="#fdad60" fill-opacity="0.96" stroke="#fff" stroke-width="0.6"/>
<circle cx="1089.9" cy="100.3" r="3.9" fill="#fdad60" fill-opacity="1.00" stroke="#fff" stroke-width="0.6"/>
<circle cx="1086.8" cy="111.1" r="3.9" fill="#fdad60" fill-opacity="1.00" stroke="#fff" stroke-width="0.6"/>
<circle cx="1138.4" cy="33.6" r="3.9" fill="#fdad60" fill-opacity="0.81" stroke="#fff" stroke-width="0.6"/>
<circle cx="1152.4" cy="32.8" r="3.9" fill="#fdad60" fill-opacity="0.78" stroke="#fff" stroke-width="0.6"/>
<circle cx="1146.9" cy="31.3" r="3.9" fill="#fdad60" fill-opacity="0.81" stroke="#fff" stroke-width="0.6"/>
<circle cx="1192.7" cy="48.3" r="3.9" fill="#fdad60" fill-opacity="0.81" stroke="#fff" stroke-width="0.6"/>
<circle cx="1110.5" cy="70.8" r="3.9" fill="#fdad60" fill-opacity="0.81" stroke="#fff" stroke-width="0.6"/>
<circle cx="1105.1" cy="83.2" r="3.9" fill="#fdad60" fill-opacity="0.87" stroke="#fff" stroke-width="0.6"/>
<circle cx="1110.5" cy="84.0" r="3.9" fill="#fdad60" fill-opacity="0.84" stroke="#fff" stroke-width="0.6"/>
<circle cx="1161.7" cy="92.5" r="3.9" fill="#fdad60" fill-opacity="0.81" stroke="#fff" stroke-width="0.6"/>
<circle cx="1170.2" cy="80.9" r="3.9" fill="#fdad60" fill-opacity="0.84" stroke="#fff" stroke-width="0.6"/>
<circle cx="1179.5" cy="74.7" r="3.9" fill="#fdad60" fill-opacity="0.90" stroke="#fff" stroke-width="0.6"/>
<circle cx="1141.5" cy="63.1" r="3.9" fill="#fdad60" fill-opacity="0.87" stroke="#fff" stroke-width="0.6"/>
<circle cx="1129.1" cy="95.6" r="3.9" fill="#fdad60" fill-opacity="0.87" stroke="#fff" stroke-width="0.6"/>
<circle cx="1112.1" cy="106.5" r="3.9" fill="#fdad60" fill-opacity="0.99" stroke="#fff" stroke-width="0.6"/>
<circle cx="1119.0" cy="108.0" r="3.9" fill="#fdad60" fill-opacity="0.93" stroke="#fff" stroke-width="0.6"/>
<circle cx="1115.2" cy="112.7" r="3.9" fill="#fdad60" fill-opacity="0.99" stroke="#fff" stroke-width="0.6"/>
<circle cx="1234.2" cy="16.6" r="3.9" fill="#fdad60" fill-opacity="0.78" stroke="#fff" stroke-width="0.6"/>
<circle cx="1244.3" cy="22.0" r="3.9" fill="#fdad60" fill-opacity="0.81" stroke="#fff" stroke-width="0.6"/>
<circle cx="1276.0" cy="18.1" r="3.9" fill="#fdad60" fill-opacity="0.78" stroke="#fff" stroke-width="0.6"/>
<circle cx="1193.1" cy="48.3" r="3.9" fill="#fdad60" fill-opacity="0.81" stroke="#fff" stroke-width="0.6"/>
<circle cx="1281.5" cy="45.2" r="3.9" fill="#fdad60" fill-opacity="0.78" stroke="#fff" stroke-width="0.6"/>
<circle cx="1350.1" cy="67.7" r="3.9" fill="#fdad60" fill-opacity="0.78" stroke="#fff" stroke-width="0.6"/>
<circle cx="1312.9" cy="81.7" r="3.9" fill="#fdad60" fill-opacity="0.78" stroke="#fff" stroke-width="0.6"/>
<circle cx="1091.5" cy="122.4" r="3.9" fill="#fdad60" fill-opacity="0.96" stroke="#fff" stroke-width="0.6"/>
<circle cx="1101.2" cy="111.6" r="3.9" fill="#fdad60" fill-opacity="1.00" stroke="#fff" stroke-width="0.6"/>
<circle cx="1110.5" cy="119.3" r="3.9" fill="#fdad60" fill-opacity="1.00" stroke="#fff" stroke-width="0.6"/>
<circle cx="1141.5" cy="110.8" r="3.9" fill="#fdad60" fill-opacity="0.96" stroke="#fff" stroke-width="0.6"/>
<circle cx="1146.9" cy="116.2" r="3.9" fill="#fdad60" fill-opacity="0.90" stroke="#fff" stroke-width="0.6"/>
<circle cx="1153.1" cy="116.2" r="3.9" fill="#fdad60" fill-opacity="0.84" stroke="#fff" stroke-width="0.6"/>
<circle cx="1169.4" cy="124.7" r="3.9" fill="#fdad60" fill-opacity="0.81" stroke="#fff" stroke-width="0.6"/>
<circle cx="1191.9" cy="115.4" r="3.9" fill="#fdad60" fill-opacity="0.93" stroke="#fff" stroke-width="0.6"/>
<circle cx="1124.5" cy="143.3" r="3.9" fill="#fdad60" fill-opacity="0.87" stroke="#fff" stroke-width="0.6"/>
<circle cx="1133.8" cy="134.8" r="3.9" fill="#fdad60" fill-opacity="1.00" stroke="#fff" stroke-width="0.6"/>
<circle cx="1139.2" cy="143.3" r="3.9" fill="#fdad60" fill-opacity="0.99" stroke="#fff" stroke-width="0.6"/>
<circle cx="1152.4" cy="147.2" r="3.9" fill="#fdad60" fill-opacity="0.93" stroke="#fff" stroke-width="0.6"/>
<circle cx="1184.1" cy="148.8" r="3.9" fill="#fdad60" fill-opacity="0.84" stroke="#fff" stroke-width="0.6"/>
<circle cx="1138.4" cy="155.0" r="3.9" fill="#fdad60" fill-opacity="0.96" stroke="#fff" stroke-width="0.6"/>
<circle cx="1110.5" cy="167.4" r="3.9" fill="#fdad60" fill-opacity="0.90" stroke="#fff" stroke-width="0.6"/>
<circle cx="1129.1" cy="174.3" r="3.9" fill="#fdad60" fill-opacity="0.84" stroke="#fff" stroke-width="0.6"/>
<circle cx="1179.5" cy="172.8" r="3.9" fill="#fdad60" fill-opacity="0.84" stroke="#fff" stroke-width="0.6"/>
<circle cx="1192.7" cy="167.4" r="3.9" fill="#fdad60" fill-opacity="0.78" stroke="#fff" stroke-width="0.6"/>
<circle cx="1153.1" cy="192.2" r="3.9" fill="#fdad60" fill-opacity="0.78" stroke="#fff" stroke-width="0.6"/>
<circle cx="1166.3" cy="190.6" r="3.9" fill="#fdad60" fill-opacity="0.81" stroke="#fff" stroke-width="0.6"/>
<circle cx="1137.6" cy="198.4" r="3.9" fill="#fdad60" fill-opacity="0.84" stroke="#fff" stroke-width="0.6"/>
<circle cx="1161.7" cy="206.1" r="3.9" fill="#fdad60" fill-opacity="0.84" stroke="#fff" stroke-width="0.6"/>
<circle cx="1106.6" cy="201.5" r="3.9" fill="#fdad60" fill-opacity="0.84" stroke="#fff" stroke-width="0.6"/>
<circle cx="1202.4" cy="120.1" r="3.9" fill="#fdad60" fill-opacity="0.84" stroke="#fff" stroke-width="0.6"/>
<circle cx="1239.6" cy="161.2" r="3.9" fill="#fdad60" fill-opacity="0.78" stroke="#fff" stroke-width="0.6"/>
<circle cx="1193.9" cy="167.4" r="3.9" fill="#fdad60" fill-opacity="0.78" stroke="#fff" stroke-width="0.6"/>
<circle cx="1216.4" cy="200.7" r="3.9" fill="#fdad60" fill-opacity="0.78" stroke="#fff" stroke-width="0.6"/>
<circle cx="1271.4" cy="209.2" r="3.9" fill="#fdad60" fill-opacity="0.78" stroke="#fff" stroke-width="0.6"/>
<circle cx="1027.4" cy="293.4" r="3.9" fill="#fdad60" fill-opacity="0.93" stroke="#fff" stroke-width="0.6"/>
<circle cx="1046.8" cy="282.5" r="3.9" fill="#fdad60" fill-opacity="0.93" stroke="#fff" stroke-width="0.6"/>
<circle cx="1042.2" cy="296.5" r="3.9" fill="#fdad60" fill-opacity="0.96" stroke="#fff" stroke-width="0.6"/>
<circle cx="1091.9" cy="234.5" r="3.9" fill="#fdad60" fill-opacity="1.00" stroke="#fff" stroke-width="0.6"/>
<circle cx="1089.5" cy="236.0" r="3.9" fill="#fdad60" fill-opacity="0.99" stroke="#fff" stroke-width="0.6"/>
<circle cx="1105.8" cy="267.8" r="3.9" fill="#fdad60" fill-opacity="0.90" stroke="#fff" stroke-width="0.6"/>
<circle cx="1101.9" cy="277.1" r="3.9" fill="#fdad60" fill-opacity="0.90" stroke="#fff" stroke-width="0.6"/>
<circle cx="1065.5" cy="281.0" r="3.9" fill="#fdad60" fill-opacity="0.99" stroke="#fff" stroke-width="0.6"/>
<circle cx="1071.7" cy="290.3" r="3.9" fill="#fdad60" fill-opacity="1.00" stroke="#fff" stroke-width="0.6"/>
<circle cx="1086.4" cy="296.5" r="3.9" fill="#fdad60" fill-opacity="1.00" stroke="#fff" stroke-width="0.6"/>
<circle cx="1112.0" cy="298.0" r="3.9" fill="#fdad60" fill-opacity="1.00" stroke="#fff" stroke-width="0.6"/>
<circle cx="1161.3" cy="206.9" r="3.9" fill="#fdad60" fill-opacity="0.84" stroke="#fff" stroke-width="0.6"/>
<circle cx="1175.2" cy="214.3" r="3.9" fill="#fdad60" fill-opacity="0.84" stroke="#fff" stroke-width="0.6"/>
<circle cx="1152.4" cy="219.3" r="3.9" fill="#fdad60" fill-opacity="0.78" stroke="#fff" stroke-width="0.6"/>
<circle cx="1152.0" cy="252.0" r="3.9" fill="#fdad60" fill-opacity="0.81" stroke="#fff" stroke-width="0.6"/>
<circle cx="1157.4" cy="252.3" r="3.9" fill="#fdad60" fill-opacity="0.84" stroke="#fff" stroke-width="0.6"/>
<circle cx="1295.0" cy="308.3" r="3.9" fill="#fdad60" fill-opacity="0.78" stroke="#fff" stroke-width="0.6"/>
<circle cx="1097.5" cy="299.7" r="3.9" fill="#fdad60" fill-opacity="1.00" stroke="#fff" stroke-width="0.6"/>
<circle cx="1104.5" cy="310.5" r="3.9" fill="#fdad60" fill-opacity="1.00" stroke="#fff" stroke-width="0.6"/>
<circle cx="1111.5" cy="296.6" r="3.9" fill="#fdad60" fill-opacity="1.00" stroke="#fff" stroke-width="0.6"/>
<circle cx="1103.7" cy="313.6" r="3.9" fill="#fdad60" fill-opacity="1.00" stroke="#fff" stroke-width="0.6"/>
<circle cx="1117.7" cy="328.3" r="3.9" fill="#fdad60" fill-opacity="1.00" stroke="#fff" stroke-width="0.6"/>
<circle cx="1142.6" cy="316.7" r="3.9" fill="#fdad60" fill-opacity="0.90" stroke="#fff" stroke-width="0.6"/>
<circle cx="1119.3" cy="329.1" r="3.9" fill="#fdad60" fill-opacity="1.00" stroke="#fff" stroke-width="0.6"/>
<circle cx="1137.9" cy="327.6" r="3.9" fill="#fdad60" fill-opacity="0.90" stroke="#fff" stroke-width="0.6"/>
<circle cx="1143.3" cy="329.9" r="3.9" fill="#fdad60" fill-opacity="0.84" stroke="#fff" stroke-width="0.6"/>
<circle cx="1129.4" cy="348.5" r="3.9" fill="#fdad60" fill-opacity="0.90" stroke="#fff" stroke-width="0.6"/>
<circle cx="1128.6" cy="351.6" r="3.9" fill="#fdad60" fill-opacity="0.90" stroke="#fff" stroke-width="0.6"/>
<circle cx="946.5" cy="18.4" r="3.9" fill="#fdad60" fill-opacity="0.87" stroke="#fff" stroke-width="0.6"/>
<circle cx="889.4" cy="56.8" r="3.9" fill="#fdad60" fill-opacity="0.99" stroke="#fff" stroke-width="0.6"/>
<circle cx="982.1" cy="24.4" r="3.9" fill="#fdad60" fill-opacity="1.00" stroke="#fff" stroke-width="0.6"/>
<circle cx="1012.8" cy="18.4" r="3.9" fill="#fdad60" fill-opacity="0.90" stroke="#fff" stroke-width="0.6"/>
<circle cx="954.8" cy="32.1" r="3.9" fill="#fdad60" fill-opacity="1.00" stroke="#fff" stroke-width="0.6"/>
<circle cx="999.2" cy="30.3" r="3.9" fill="#fdad60" fill-opacity="0.99" stroke="#fff" stroke-width="0.6"/>
<circle cx="975.3" cy="34.6" r="3.9" fill="#fdad60" fill-opacity="1.00" stroke="#fff" stroke-width="0.6"/>
<circle cx="956.5" cy="39.7" r="3.9" fill="#fdad60" fill-opacity="0.96" stroke="#fff" stroke-width="0.6"/>
<circle cx="987.2" cy="47.4" r="3.9" fill="#fdad60" fill-opacity="1.00" stroke="#fff" stroke-width="0.6"/>
<circle cx="1009.4" cy="57.6" r="3.9" fill="#fdad60" fill-opacity="0.99" stroke="#fff" stroke-width="0.6"/>
<circle cx="988.1" cy="66.2" r="3.9" fill="#fdad60" fill-opacity="1.00" stroke="#fff" stroke-width="0.6"/>
<circle cx="992.3" cy="64.4" r="3.9" fill="#fdad60" fill-opacity="1.00" stroke="#fff" stroke-width="0.6"/>
<circle cx="932.0" cy="97.8" r="3.9" fill="#fdad60" fill-opacity="0.93" stroke="#fff" stroke-width="0.6"/>
<circle cx="926.0" cy="121.7" r="3.9" fill="#fdad60" fill-opacity="0.96" stroke="#fff" stroke-width="0.6"/>
<circle cx="985.5" cy="79.9" r="3.9" fill="#fdad60" fill-opacity="0.99" stroke="#fff" stroke-width="0.6"/>
<circle cx="949.7" cy="117.4" r="3.9" fill="#fdad60" fill-opacity="0.96" stroke="#fff" stroke-width="0.6"/>
<circle cx="964.2" cy="115.7" r="3.9" fill="#fdad60" fill-opacity="0.90" stroke="#fff" stroke-width="0.6"/>
<circle cx="954.8" cy="114.0" r="3.9" fill="#fdad60" fill-opacity="0.93" stroke="#fff" stroke-width="0.6"/>
<circle cx="995.7" cy="102.1" r="3.9" fill="#fdad60" fill-opacity="1.00" stroke="#fff" stroke-width="0.6"/>
<circle cx="1041.6" cy="18.4" r="3.9" fill="#fdad60" fill-opacity="0.87" stroke="#fff" stroke-width="0.6"/>
<circle cx="1050.1" cy="18.4" r="3.9" fill="#fdad60" fill-opacity="0.87" stroke="#fff" stroke-width="0.6"/>
<circle cx="1042.4" cy="24.4" r="3.9" fill="#fdad60" fill-opacity="0.96" stroke="#fff" stroke-width="0.6"/>
<circle cx="1028.8" cy="28.6" r="3.9" fill="#fdad60" fill-opacity="0.93" stroke="#fff" stroke-width="0.6"/>
<circle cx="1030.5" cy="40.6" r="3.9" fill="#fdad60" fill-opacity="1.00" stroke="#fff" stroke-width="0.6"/>
<circle cx="1046.7" cy="38.9" r="3.9" fill="#fdad60" fill-opacity="0.93" stroke="#fff" stroke-width="0.6"/>
<circle cx="1046.7" cy="47.4" r="3.9" fill="#fdad60" fill-opacity="0.99" stroke="#fff" stroke-width="0.6"/>
<circle cx="1046.7" cy="53.4" r="3.9" fill="#fdad60" fill-opacity="0.93" stroke="#fff" stroke-width="0.6"/>
<circle cx="1037.3" cy="57.6" r="3.9" fill="#fdad60" fill-opacity="0.99" stroke="#fff" stroke-width="0.6"/>
<circle cx="1059.5" cy="54.2" r="3.9" fill="#fdad60" fill-opacity="0.87" stroke="#fff" stroke-width="0.6"/>
<circle cx="1069.7" cy="54.2" r="3.9" fill="#fdad60" fill-opacity="0.87" stroke="#fff" stroke-width="0.6"/>
<circle cx="1079.1" cy="28.6" r="3.9" fill="#fdad60" fill-opacity="0.93" stroke="#fff" stroke-width="0.6"/>
<circle cx="1082.5" cy="65.3" r="3.9" fill="#fdad60" fill-opacity="0.90" stroke="#fff" stroke-width="0.6"/>
<circle cx="1026.2" cy="40.6" r="3.9" fill="#fdad60" fill-opacity="1.00" stroke="#fff" stroke-width="0.6"/>
<circle cx="1047.5" cy="84.2" r="3.9" fill="#fdad60" fill-opacity="0.90" stroke="#fff" stroke-width="0.6"/>
<circle cx="1045.8" cy="108.1" r="3.9" fill="#fdad60" fill-opacity="0.99" stroke="#fff" stroke-width="0.6"/>
<circle cx="1056.9" cy="111.5" r="3.9" fill="#fdad60" fill-opacity="1.00" stroke="#fff" stroke-width="0.6"/>
<circle cx="1074.8" cy="96.1" r="3.9" fill="#fdad60" fill-opacity="0.99" stroke="#fff" stroke-width="0.6"/>
<circle cx="1030.5" cy="72.3" r="3.9" fill="#fdad60" fill-opacity="0.96" stroke="#fff" stroke-width="0.6"/>
<circle cx="1058.6" cy="105.5" r="3.9" fill="#fdad60" fill-opacity="0.99" stroke="#fff" stroke-width="0.6"/>
<circle cx="1080.8" cy="82.5" r="3.9" fill="#fdad60" fill-opacity="1.00" stroke="#fff" stroke-width="0.6"/>
<circle cx="925.6" cy="124.4" r="3.9" fill="#fdad60" fill-opacity="0.90" stroke="#fff" stroke-width="0.6"/>
<circle cx="949.4" cy="124.4" r="3.9" fill="#fdad60" fill-opacity="0.93" stroke="#fff" stroke-width="0.6"/>
<circle cx="954.6" cy="132.1" r="3.9" fill="#fdad60" fill-opacity="0.87" stroke="#fff" stroke-width="0.6"/>
<circle cx="922.6" cy="151.7" r="3.9" fill="#fdad60" fill-opacity="0.96" stroke="#fff" stroke-width="0.6"/>
<circle cx="962.2" cy="148.3" r="3.9" fill="#fdad60" fill-opacity="1.00" stroke="#fff" stroke-width="0.6"/>
<circle cx="922.2" cy="185.9" r="3.9" fill="#fdad60" fill-opacity="1.00" stroke="#fff" stroke-width="0.6"/>
<circle cx="950.3" cy="203.8" r="3.9" fill="#fdad60" fill-opacity="0.99" stroke="#fff" stroke-width="0.6"/>
<circle cx="1014.0" cy="121.9" r="3.9" fill="#fdad60" fill-opacity="0.90" stroke="#fff" stroke-width="0.6"/>
<circle cx="1000.4" cy="126.1" r="3.9" fill="#fdad60" fill-opacity="0.90" stroke="#fff" stroke-width="0.6"/>
<circle cx="991.9" cy="156.0" r="3.9" fill="#fdad60" fill-opacity="0.93" stroke="#fff" stroke-width="0.6"/>
<circle cx="1008.9" cy="159.4" r="3.9" fill="#fdad60" fill-opacity="0.81" stroke="#fff" stroke-width="0.6"/>
<circle cx="969.7" cy="166.2" r="3.9" fill="#fdad60" fill-opacity="1.00" stroke="#fff" stroke-width="0.6"/>
<circle cx="1014.0" cy="185.1" r="3.9" fill="#fdad60" fill-opacity="0.84" stroke="#fff" stroke-width="0.6"/>
<circle cx="1019.2" cy="195.3" r="3.9" fill="#fdad60" fill-opacity="0.87" stroke="#fff" stroke-width="0.6"/>
<circle cx="1014.0" cy="201.3" r="3.9" fill="#fdad60" fill-opacity="0.84" stroke="#fff" stroke-width="0.6"/>
<circle cx="985.1" cy="188.5" r="3.9" fill="#fdad60" fill-opacity="0.96" stroke="#fff" stroke-width="0.6"/>
<circle cx="1068.4" cy="121.9" r="3.9" fill="#fdad60" fill-opacity="0.99" stroke="#fff" stroke-width="0.6"/>
<circle cx="1092.3" cy="123.6" r="3.9" fill="#fdad60" fill-opacity="0.99" stroke="#fff" stroke-width="0.6"/>
<circle cx="1101.6" cy="121.4" r="3.9" fill="#fdad60" fill-opacity="1.00" stroke="#fff" stroke-width="0.6"/>
<circle cx="1087.2" cy="144.4" r="3.9" fill="#fdad60" fill-opacity="0.87" stroke="#fff" stroke-width="0.6"/>
<circle cx="1097.4" cy="149.1" r="3.9" fill="#fdad60" fill-opacity="0.93" stroke="#fff" stroke-width="0.6"/>
<circle cx="1046.7" cy="166.6" r="3.9" fill="#fdad60" fill-opacity="0.84" stroke="#fff" stroke-width="0.6"/>
<circle cx="1082.9" cy="174.3" r="3.9" fill="#fdad60" fill-opacity="1.00" stroke="#fff" stroke-width="0.6"/>
<circle cx="1042.0" cy="175.1" r="3.9" fill="#fdad60" fill-opacity="0.96" stroke="#fff" stroke-width="0.6"/>
<circle cx="1059.9" cy="185.9" r="3.9" fill="#fdad60" fill-opacity="0.96" stroke="#fff" stroke-width="0.6"/>
<circle cx="1059.9" cy="190.2" r="3.9" fill="#fdad60" fill-opacity="0.99" stroke="#fff" stroke-width="0.6"/>
<circle cx="1082.9" cy="174.9" r="3.9" fill="#fdad60" fill-opacity="1.00" stroke="#fff" stroke-width="0.6"/>
<circle cx="1097.4" cy="207.2" r="3.9" fill="#fdad60" fill-opacity="0.90" stroke="#fff" stroke-width="0.6"/>
<circle cx="1092.3" cy="179.1" r="3.9" fill="#fdad60" fill-opacity="1.00" stroke="#fff" stroke-width="0.6"/>
<circle cx="1036.9" cy="199.6" r="3.9" fill="#fdad60" fill-opacity="0.93" stroke="#fff" stroke-width="0.6"/>
<circle cx="1094.0" cy="223.4" r="3.9" fill="#fdad60" fill-opacity="0.96" stroke="#fff" stroke-width="0.6"/>
<circle cx="1104.2" cy="202.1" r="3.9" fill="#fdad60" fill-opacity="0.87" stroke="#fff" stroke-width="0.6"/>
<circle cx="1081.2" cy="219.2" r="3.9" fill="#fdad60" fill-opacity="1.00" stroke="#fff" stroke-width="0.6"/>
<circle cx="1074.4" cy="176.6" r="3.9" fill="#fdad60" fill-opacity="1.00" stroke="#fff" stroke-width="0.6"/>
<circle cx="1080.3" cy="208.1" r="3.9" fill="#fdad60" fill-opacity="0.93" stroke="#fff" stroke-width="0.6"/>
<circle cx="1086.0" cy="49.9" r="3.9" fill="#fee08b" fill-opacity="0.99" stroke="#fff" stroke-width="0.6"/>
<circle cx="1157.0" cy="21.2" r="3.9" fill="#fee08b" fill-opacity="0.78" stroke="#fff" stroke-width="0.6"/>
<circle cx="1129.9" cy="60.0" r="3.9" fill="#fee08b" fill-opacity="0.78" stroke="#fff" stroke-width="0.6"/>
<circle cx="1142.3" cy="56.9" r="3.9" fill="#fee08b" fill-opacity="0.84" stroke="#fff" stroke-width="0.6"/>
<circle cx="1124.5" cy="77.8" r="3.9" fill="#fee08b" fill-opacity="0.84" stroke="#fff" stroke-width="0.6"/>
<circle cx="1105.9" cy="93.3" r="3.9" fill="#fee08b" fill-opacity="0.93" stroke="#fff" stroke-width="0.6"/>
<circle cx="1119.8" cy="94.1" r="3.9" fill="#fee08b" fill-opacity="0.87" stroke="#fff" stroke-width="0.6"/>
<circle cx="1129.9" cy="108.0" r="3.9" fill="#fee08b" fill-opacity="0.90" stroke="#fff" stroke-width="0.6"/>
<circle cx="1184.1" cy="98.7" r="3.9" fill="#fee08b" fill-opacity="0.81" stroke="#fff" stroke-width="0.6"/>
<circle cx="1174.8" cy="68.5" r="3.9" fill="#fee08b" fill-opacity="0.84" stroke="#fff" stroke-width="0.6"/>
<circle cx="1133.0" cy="113.4" r="3.9" fill="#fee08b" fill-opacity="0.96" stroke="#fff" stroke-width="0.6"/>
<circle cx="1105.9" cy="54.5" r="3.9" fill="#fee08b" fill-opacity="0.93" stroke="#fff" stroke-width="0.6"/>
<circle cx="1262.1" cy="34.4" r="3.9" fill="#fee08b" fill-opacity="0.78" stroke="#fff" stroke-width="0.6"/>
<circle cx="1115.2" cy="113.9" r="3.9" fill="#fee08b" fill-opacity="1.00" stroke="#fff" stroke-width="0.6"/>
<circle cx="1133.8" cy="115.4" r="3.9" fill="#fee08b" fill-opacity="0.96" stroke="#fff" stroke-width="0.6"/>
<circle cx="1126.0" cy="127.1" r="3.9" fill="#fee08b" fill-opacity="0.96" stroke="#fff" stroke-width="0.6"/>
<circle cx="1115.2" cy="125.5" r="3.9" fill="#fee08b" fill-opacity="0.96" stroke="#fff" stroke-width="0.6"/>
<circle cx="1143.1" cy="128.6" r="3.9" fill="#fee08b" fill-opacity="0.90" stroke="#fff" stroke-width="0.6"/>
<circle cx="1110.5" cy="120.9" r="3.9" fill="#fee08b" fill-opacity="0.99" stroke="#fff" stroke-width="0.6"/>
<circle cx="1157.0" cy="141.0" r="3.9" fill="#fee08b" fill-opacity="0.90" stroke="#fff" stroke-width="0.6"/>
<circle cx="1161.7" cy="134.0" r="3.9" fill="#fee08b" fill-opacity="0.84" stroke="#fff" stroke-width="0.6"/>
<circle cx="1133.8" cy="151.9" r="3.9" fill="#fee08b" fill-opacity="0.99" stroke="#fff" stroke-width="0.6"/>
<circle cx="1161.7" cy="180.5" r="3.9" fill="#fee08b" fill-opacity="0.81" stroke="#fff" stroke-width="0.6"/>
<circle cx="1129.1" cy="190.6" r="3.9" fill="#fee08b" fill-opacity="0.81" stroke="#fff" stroke-width="0.6"/>
<circle cx="1138.4" cy="186.7" r="3.9" fill="#fee08b" fill-opacity="0.81" stroke="#fff" stroke-width="0.6"/>
<circle cx="1179.5" cy="207.7" r="3.9" fill="#fee08b" fill-opacity="0.84" stroke="#fff" stroke-width="0.6"/>
<circle cx="1053.0" cy="282.5" r="3.9" fill="#fee08b" fill-opacity="0.99" stroke="#fff" stroke-width="0.6"/>
<circle cx="1031.3" cy="289.5" r="3.9" fill="#fee08b" fill-opacity="0.96" stroke="#fff" stroke-width="0.6"/>
<circle cx="1037.5" cy="289.5" r="3.9" fill="#fee08b" fill-opacity="0.99" stroke="#fff" stroke-width="0.6"/>
<circle cx="1032.9" cy="299.6" r="3.9" fill="#fee08b" fill-opacity="1.00" stroke="#fff" stroke-width="0.6"/>
<circle cx="1096.5" cy="232.9" r="3.9" fill="#fee08b" fill-opacity="0.96" stroke="#fff" stroke-width="0.6"/>
<circle cx="1129.1" cy="258.5" r="3.9" fill="#fee08b" fill-opacity="0.81" stroke="#fff" stroke-width="0.6"/>
<circle cx="1087.2" cy="279.4" r="3.9" fill="#fee08b" fill-opacity="0.84" stroke="#fff" stroke-width="0.6"/>
<circle cx="1143.0" cy="273.2" r="3.9" fill="#fee08b" fill-opacity="0.78" stroke="#fff" stroke-width="0.6"/>
<circle cx="1119.8" cy="284.8" r="3.9" fill="#fee08b" fill-opacity="1.00" stroke="#fff" stroke-width="0.6"/>
<circle cx="1087.2" cy="299.6" r="3.9" fill="#fee08b" fill-opacity="1.00" stroke="#fff" stroke-width="0.6"/>
<circle cx="1096.5" cy="299.6" r="3.9" fill="#fee08b" fill-opacity="1.00" stroke="#fff" stroke-width="0.6"/>
<circle cx="1062.4" cy="298.0" r="3.9" fill="#fee08b" fill-opacity="1.00" stroke="#fff" stroke-width="0.6"/>
<circle cx="1074.8" cy="298.0" r="3.9" fill="#fee08b" fill-opacity="1.00" stroke="#fff" stroke-width="0.6"/>
<circle cx="1169.8" cy="213.5" r="3.9" fill="#fee08b" fill-opacity="0.90" stroke="#fff" stroke-width="0.6"/>
<circle cx="1157.1" cy="277.1" r="3.9" fill="#fee08b" fill-opacity="0.78" stroke="#fff" stroke-width="0.6"/>
<circle cx="1157.1" cy="290.3" r="3.9" fill="#fee08b" fill-opacity="0.78" stroke="#fff" stroke-width="0.6"/>
<circle cx="1054.1" cy="296.6" r="3.9" fill="#fee08b" fill-opacity="1.00" stroke="#fff" stroke-width="0.6"/>
<circle cx="1069.6" cy="300.4" r="3.9" fill="#fee08b" fill-opacity="0.99" stroke="#fff" stroke-width="0.6"/>
<circle cx="1102.2" cy="305.9" r="3.9" fill="#fee08b" fill-opacity="1.00" stroke="#fff" stroke-width="0.6"/>
<circle cx="1054.1" cy="314.4" r="3.9" fill="#fee08b" fill-opacity="0.90" stroke="#fff" stroke-width="0.6"/>
<circle cx="1096.0" cy="313.6" r="3.9" fill="#fee08b" fill-opacity="1.00" stroke="#fff" stroke-width="0.6"/>
<circle cx="1100.6" cy="327.6" r="3.9" fill="#fee08b" fill-opacity="1.00" stroke="#fff" stroke-width="0.6"/>
<circle cx="1111.6" cy="299.7" r="3.9" fill="#fee08b" fill-opacity="1.00" stroke="#fff" stroke-width="0.6"/>
<circle cx="1110.8" cy="315.2" r="3.9" fill="#fee08b" fill-opacity="1.00" stroke="#fff" stroke-width="0.6"/>
<circle cx="1142.6" cy="335.0" r="3.9" fill="#fee08b" fill-opacity="0.84" stroke="#fff" stroke-width="0.6"/>
<circle cx="942.2" cy="21.8" r="3.9" fill="#fee08b" fill-opacity="0.90" stroke="#fff" stroke-width="0.6"/>
<circle cx="992.3" cy="16.7" r="3.9" fill="#fee08b" fill-opacity="0.93" stroke="#fff" stroke-width="0.6"/>
<circle cx="983.8" cy="59.3" r="3.9" fill="#fee08b" fill-opacity="1.00" stroke="#fff" stroke-width="0.6"/>
<circle cx="951.4" cy="50.8" r="3.9" fill="#fee08b" fill-opacity="0.96" stroke="#fff" stroke-width="0.6"/>
<circle cx="983.8" cy="66.2" r="3.9" fill="#fee08b" fill-opacity="1.00" stroke="#fff" stroke-width="0.6"/>
<circle cx="926.0" cy="103.0" r="3.9" fill="#fee08b" fill-opacity="0.99" stroke="#fff" stroke-width="0.6"/>
<circle cx="922.6" cy="109.8" r="3.9" fill="#fee08b" fill-opacity="0.99" stroke="#fff" stroke-width="0.6"/>
<circle cx="938.0" cy="111.5" r="3.9" fill="#fee08b" fill-opacity="1.00" stroke="#fff" stroke-width="0.6"/>
<circle cx="943.1" cy="111.5" r="3.9" fill="#fee08b" fill-opacity="1.00" stroke="#fff" stroke-width="0.6"/>
<circle cx="946.5" cy="108.1" r="3.9" fill="#fee08b" fill-opacity="0.96" stroke="#fff" stroke-width="0.6"/>
<circle cx="966.8" cy="85.1" r="3.9" fill="#fee08b" fill-opacity="1.00" stroke="#fff" stroke-width="0.6"/>
<circle cx="1003.4" cy="103.0" r="3.9" fill="#fee08b" fill-opacity="1.00" stroke="#fff" stroke-width="0.6"/>
<circle cx="1068.9" cy="41.4" r="3.9" fill="#fee08b" fill-opacity="0.93" stroke="#fff" stroke-width="0.6"/>
<circle cx="1045.0" cy="50.8" r="3.9" fill="#fee08b" fill-opacity="0.96" stroke="#fff" stroke-width="0.6"/>
<circle cx="1066.3" cy="40.6" r="3.9" fill="#fee08b" fill-opacity="0.96" stroke="#fff" stroke-width="0.6"/>
<circle cx="1067.2" cy="68.7" r="3.9" fill="#fee08b" fill-opacity="0.93" stroke="#fff" stroke-width="0.6"/>
<circle cx="1044.1" cy="102.1" r="3.9" fill="#fee08b" fill-opacity="0.93" stroke="#fff" stroke-width="0.6"/>
<circle cx="1062.0" cy="103.8" r="3.9" fill="#fee08b" fill-opacity="0.99" stroke="#fff" stroke-width="0.6"/>
<circle cx="1063.7" cy="114.9" r="3.9" fill="#fee08b" fill-opacity="1.00" stroke="#fff" stroke-width="0.6"/>
<circle cx="1077.4" cy="115.7" r="3.9" fill="#fee08b" fill-opacity="0.99" stroke="#fff" stroke-width="0.6"/>
<circle cx="1022.8" cy="99.5" r="3.9" fill="#fee08b" fill-opacity="1.00" stroke="#fff" stroke-width="0.6"/>
<circle cx="1036.5" cy="110.6" r="3.9" fill="#fee08b" fill-opacity="0.99" stroke="#fff" stroke-width="0.6"/>
<circle cx="1071.4" cy="80.8" r="3.9" fill="#fee08b" fill-opacity="1.00" stroke="#fff" stroke-width="0.6"/>
<circle cx="1083.3" cy="74.8" r="3.9" fill="#fee08b" fill-opacity="0.96" stroke="#fff" stroke-width="0.6"/>
<circle cx="954.6" cy="150.0" r="3.9" fill="#fee08b" fill-opacity="0.93" stroke="#fff" stroke-width="0.6"/>
<circle cx="921.3" cy="167.0" r="3.9" fill="#fee08b" fill-opacity="1.00" stroke="#fff" stroke-width="0.6"/>
<circle cx="916.2" cy="177.4" r="3.9" fill="#fee08b" fill-opacity="1.00" stroke="#fff" stroke-width="0.6"/>
<circle cx="949.4" cy="176.6" r="3.9" fill="#fee08b" fill-opacity="1.00" stroke="#fff" stroke-width="0.6"/>
<circle cx="974.0" cy="131.2" r="3.9" fill="#fee08b" fill-opacity="1.00" stroke="#fff" stroke-width="0.6"/>
<circle cx="1004.7" cy="146.6" r="3.9" fill="#fee08b" fill-opacity="0.84" stroke="#fff" stroke-width="0.6"/>
<circle cx="1009.8" cy="144.0" r="3.9" fill="#fee08b" fill-opacity="0.84" stroke="#fff" stroke-width="0.6"/>
<circle cx="996.1" cy="164.9" r="3.9" fill="#fee08b" fill-opacity="0.96" stroke="#fff" stroke-width="0.6"/>
<circle cx="980.8" cy="121.9" r="3.9" fill="#fee08b" fill-opacity="0.99" stroke="#fff" stroke-width="0.6"/>
<circle cx="991.9" cy="187.6" r="3.9" fill="#fee08b" fill-opacity="0.90" stroke="#fff" stroke-width="0.6"/>
<circle cx="971.4" cy="190.2" r="3.9" fill="#fee08b" fill-opacity="1.00" stroke="#fff" stroke-width="0.6"/>
<circle cx="977.4" cy="180.8" r="3.9" fill="#fee08b" fill-opacity="1.00" stroke="#fff" stroke-width="0.6"/>
<circle cx="1027.7" cy="195.3" r="3.9" fill="#fee08b" fill-opacity="0.87" stroke="#fff" stroke-width="0.6"/>
<circle cx="1029.4" cy="218.3" r="3.9" fill="#fee08b" fill-opacity="0.90" stroke="#fff" stroke-width="0.6"/>
<circle cx="1101.6" cy="138.1" r="3.9" fill="#fee08b" fill-opacity="0.96" stroke="#fff" stroke-width="0.6"/>
<circle cx="1069.7" cy="142.3" r="3.9" fill="#fee08b" fill-opacity="0.78" stroke="#fff" stroke-width="0.6"/>
<circle cx="1064.1" cy="158.5" r="3.9" fill="#fee08b" fill-opacity="0.78" stroke="#fff" stroke-width="0.6"/>
<circle cx="1074.4" cy="171.3" r="3.9" fill="#fee08b" fill-opacity="0.96" stroke="#fff" stroke-width="0.6"/>
<circle cx="1068.4" cy="175.1" r="3.9" fill="#fee08b" fill-opacity="0.93" stroke="#fff" stroke-width="0.6"/>
<circle cx="1039.4" cy="177.4" r="3.9" fill="#fee08b" fill-opacity="0.90" stroke="#fff" stroke-width="0.6"/>
<circle cx="1047.1" cy="184.2" r="3.9" fill="#fee08b" fill-opacity="0.99" stroke="#fff" stroke-width="0.6"/>
<circle cx="1082.9" cy="193.6" r="3.9" fill="#fee08b" fill-opacity="0.90" stroke="#fff" stroke-width="0.6"/>
<circle cx="1055.6" cy="202.1" r="3.9" fill="#fee08b" fill-opacity="0.93" stroke="#fff" stroke-width="0.6"/>
<circle cx="1046.2" cy="211.5" r="3.9" fill="#fee08b" fill-opacity="0.90" stroke="#fff" stroke-width="0.6"/>
<circle cx="1059.0" cy="208.1" r="3.9" fill="#fee08b" fill-opacity="0.96" stroke="#fff" stroke-width="0.6"/>
<circle cx="1071.8" cy="220.9" r="3.9" fill="#fee08b" fill-opacity="0.96" stroke="#fff" stroke-width="0.6"/>
<circle cx="1070.1" cy="178.3" r="3.9" fill="#fee08b" fill-opacity="0.99" stroke="#fff" stroke-width="0.6"/>
<circle cx="1088.4" cy="74.7" r="3.9" fill="#fffebe" fill-opacity="0.93" stroke="#fff" stroke-width="0.6"/>
<circle cx="1096.1" cy="75.5" r="3.9" fill="#fffebe" fill-opacity="0.84" stroke="#fff" stroke-width="0.6"/>
<circle cx="1093.0" cy="98.7" r="3.9" fill="#fffebe" fill-opacity="1.00" stroke="#fff" stroke-width="0.6"/>
<circle cx="1093.0" cy="108.0" r="3.9" fill="#fffebe" fill-opacity="1.00" stroke="#fff" stroke-width="0.6"/>
<circle cx="1115.2" cy="18.9" r="3.9" fill="#fffebe" fill-opacity="0.81" stroke="#fff" stroke-width="0.6"/>
<circle cx="1110.5" cy="61.5" r="3.9" fill="#fffebe" fill-opacity="0.84" stroke="#fff" stroke-width="0.6"/>
<circle cx="1097.3" cy="75.5" r="3.9" fill="#fffebe" fill-opacity="0.84" stroke="#fff" stroke-width="0.6"/>
<circle cx="1115.2" cy="91.0" r="3.9" fill="#fffebe" fill-opacity="0.87" stroke="#fff" stroke-width="0.6"/>
<circle cx="1101.2" cy="104.9" r="3.9" fill="#fffebe" fill-opacity="1.00" stroke="#fff" stroke-width="0.6"/>
<circle cx="1202.4" cy="39.8" r="3.9" fill="#fffebe" fill-opacity="0.78" stroke="#fff" stroke-width="0.6"/>
<circle cx="1211.7" cy="87.9" r="3.9" fill="#fffebe" fill-opacity="0.78" stroke="#fff" stroke-width="0.6"/>
<circle cx="1244.3" cy="94.1" r="3.9" fill="#fffebe" fill-opacity="0.78" stroke="#fff" stroke-width="0.6"/>
<circle cx="1179.5" cy="148.0" r="3.9" fill="#fffebe" fill-opacity="0.84" stroke="#fff" stroke-width="0.6"/>
<circle cx="1229.5" cy="119.3" r="3.9" fill="#fffebe" fill-opacity="0.87" stroke="#fff" stroke-width="0.6"/>
<circle cx="1207.1" cy="167.4" r="3.9" fill="#fffebe" fill-opacity="0.78" stroke="#fff" stroke-width="0.6"/>
<circle cx="1045.3" cy="229.0" r="3.9" fill="#fffebe" fill-opacity="0.96" stroke="#fff" stroke-width="0.6"/>
<circle cx="1037.5" cy="301.1" r="3.9" fill="#fffebe" fill-opacity="1.00" stroke="#fff" stroke-width="0.6"/>
<circle cx="1133.7" cy="225.2" r="3.9" fill="#fffebe" fill-opacity="0.81" stroke="#fff" stroke-width="0.6"/>
<circle cx="1133.7" cy="231.4" r="3.9" fill="#fffebe" fill-opacity="0.84" stroke="#fff" stroke-width="0.6"/>
<circle cx="1115.1" cy="245.3" r="3.9" fill="#fffebe" fill-opacity="0.90" stroke="#fff" stroke-width="0.6"/>
<circle cx="1073.3" cy="258.5" r="3.9" fill="#fffebe" fill-opacity="0.90" stroke="#fff" stroke-width="0.6"/>
<circle cx="1077.9" cy="258.5" r="3.9" fill="#fffebe" fill-opacity="0.90" stroke="#fff" stroke-width="0.6"/>
<circle cx="1070.2" cy="282.5" r="3.9" fill="#fffebe" fill-opacity="0.90" stroke="#fff" stroke-width="0.6"/>
<circle cx="1054.7" cy="273.2" r="3.9" fill="#fffebe" fill-opacity="0.93" stroke="#fff" stroke-width="0.6"/>
<circle cx="1118.2" cy="294.9" r="3.9" fill="#fffebe" fill-opacity="1.00" stroke="#fff" stroke-width="0.6"/>
<circle cx="1122.9" cy="301.1" r="3.9" fill="#fffebe" fill-opacity="1.00" stroke="#fff" stroke-width="0.6"/>
<circle cx="1105.8" cy="296.5" r="3.9" fill="#fffebe" fill-opacity="1.00" stroke="#fff" stroke-width="0.6"/>
<circle cx="1139.1" cy="304.2" r="3.9" fill="#fffebe" fill-opacity="0.87" stroke="#fff" stroke-width="0.6"/>
<circle cx="1117.7" cy="297.3" r="3.9" fill="#fffebe" fill-opacity="1.00" stroke="#fff" stroke-width="0.6"/>
<circle cx="1106.8" cy="297.3" r="3.9" fill="#fffebe" fill-opacity="1.00" stroke="#fff" stroke-width="0.6"/>
<circle cx="1100.6" cy="310.5" r="3.9" fill="#fffebe" fill-opacity="1.00" stroke="#fff" stroke-width="0.6"/>
<circle cx="1066.5" cy="296.6" r="3.9" fill="#fffebe" fill-opacity="1.00" stroke="#fff" stroke-width="0.6"/>
<circle cx="1109.9" cy="313.6" r="3.9" fill="#fffebe" fill-opacity="1.00" stroke="#fff" stroke-width="0.6"/>
<circle cx="1113.0" cy="344.6" r="3.9" fill="#fffebe" fill-opacity="0.90" stroke="#fff" stroke-width="0.6"/>
<circle cx="1088.2" cy="327.6" r="3.9" fill="#fffebe" fill-opacity="1.00" stroke="#fff" stroke-width="0.6"/>
<circle cx="1119.3" cy="296.6" r="3.9" fill="#fffebe" fill-opacity="1.00" stroke="#fff" stroke-width="0.6"/>
<circle cx="1124.7" cy="301.2" r="3.9" fill="#fffebe" fill-opacity="1.00" stroke="#fff" stroke-width="0.6"/>
<circle cx="1115.4" cy="344.6" r="3.9" fill="#fffebe" fill-opacity="0.93" stroke="#fff" stroke-width="0.6"/>
<circle cx="1170.5" cy="357.0" r="3.9" fill="#fffebe" fill-opacity="0.78" stroke="#fff" stroke-width="0.6"/>
<circle cx="1170.5" cy="392.4" r="3.9" fill="#fffebe" fill-opacity="0.78" stroke="#fff" stroke-width="0.6"/>
<circle cx="839.3" cy="44.8" r="3.9" fill="#fffebe" fill-opacity="1.00" stroke="#fff" stroke-width="0.6"/>
<circle cx="875.9" cy="61.5" r="3.9" fill="#fffebe" fill-opacity="0.90" stroke="#fff" stroke-width="0.6"/>
<circle cx="900.5" cy="48.2" r="3.9" fill="#fffebe" fill-opacity="0.99" stroke="#fff" stroke-width="0.6"/>
<circle cx="920.9" cy="48.2" r="3.9" fill="#fffebe" fill-opacity="0.93" stroke="#fff" stroke-width="0.6"/>
<circle cx="926.0" cy="21.8" r="3.9" fill="#fffebe" fill-opacity="0.96" stroke="#fff" stroke-width="0.6"/>
<circle cx="932.9" cy="32.1" r="3.9" fill="#fffebe" fill-opacity="0.96" stroke="#fff" stroke-width="0.6"/>
<circle cx="897.9" cy="61.0" r="3.9" fill="#fffebe" fill-opacity="1.00" stroke="#fff" stroke-width="0.6"/>
<circle cx="905.6" cy="36.3" r="3.9" fill="#fffebe" fill-opacity="1.00" stroke="#fff" stroke-width="0.6"/>
<circle cx="971.9" cy="19.3" r="3.9" fill="#fffebe" fill-opacity="0.99" stroke="#fff" stroke-width="0.6"/>
<circle cx="995.7" cy="19.3" r="3.9" fill="#fffebe" fill-opacity="0.99" stroke="#fff" stroke-width="0.6"/>
<circle cx="1003.4" cy="17.6" r="3.9" fill="#fffebe" fill-opacity="0.93" stroke="#fff" stroke-width="0.6"/>
<circle cx="995.7" cy="32.1" r="3.9" fill="#fffebe" fill-opacity="1.00" stroke="#fff" stroke-width="0.6"/>
<circle cx="965.9" cy="30.3" r="3.9" fill="#fffebe" fill-opacity="1.00" stroke="#fff" stroke-width="0.6"/>
<circle cx="951.4" cy="47.4" r="3.9" fill="#fffebe" fill-opacity="0.99" stroke="#fff" stroke-width="0.6"/>
<circle cx="993.2" cy="43.1" r="3.9" fill="#fffebe" fill-opacity="1.00" stroke="#fff" stroke-width="0.6"/>
<circle cx="1011.1" cy="43.1" r="3.9" fill="#fffebe" fill-opacity="0.96" stroke="#fff" stroke-width="0.6"/>
<circle cx="999.2" cy="50.8" r="3.9" fill="#fffebe" fill-opacity="1.00" stroke="#fff" stroke-width="0.6"/>
<circle cx="999.2" cy="57.6" r="3.9" fill="#fffebe" fill-opacity="1.00" stroke="#fff" stroke-width="0.6"/>
<circle cx="996.6" cy="54.2" r="3.9" fill="#fffebe" fill-opacity="1.00" stroke="#fff" stroke-width="0.6"/>
<circle cx="897.9" cy="83.3" r="3.9" fill="#fffebe" fill-opacity="0.99" stroke="#fff" stroke-width="0.6"/>
<circle cx="913.2" cy="79.1" r="3.9" fill="#fffebe" fill-opacity="1.00" stroke="#fff" stroke-width="0.6"/>
<circle cx="986.4" cy="100.4" r="3.9" fill="#fffebe" fill-opacity="0.96" stroke="#fff" stroke-width="0.6"/>
<circle cx="994.9" cy="77.4" r="3.9" fill="#fffebe" fill-opacity="1.00" stroke="#fff" stroke-width="0.6"/>
<circle cx="999.2" cy="75.7" r="3.9" fill="#fffebe" fill-opacity="1.00" stroke="#fff" stroke-width="0.6"/>
<circle cx="1043.3" cy="32.1" r="3.9" fill="#fffebe" fill-opacity="0.96" stroke="#fff" stroke-width="0.6"/>
<circle cx="1050.1" cy="31.2" r="3.9" fill="#fffebe" fill-opacity="0.96" stroke="#fff" stroke-width="0.6"/>
<circle cx="1074.0" cy="29.5" r="3.9" fill="#fffebe" fill-opacity="0.99" stroke="#fff" stroke-width="0.6"/>
<circle cx="1041.6" cy="43.1" r="3.9" fill="#fffebe" fill-opacity="1.00" stroke="#fff" stroke-width="0.6"/>
<circle cx="1056.1" cy="44.8" r="3.9" fill="#fffebe" fill-opacity="0.90" stroke="#fff" stroke-width="0.6"/>
<circle cx="1065.4" cy="20.1" r="3.9" fill="#fffebe" fill-opacity="0.84" stroke="#fff" stroke-width="0.6"/>
<circle cx="1033.1" cy="61.0" r="3.9" fill="#fffebe" fill-opacity="0.93" stroke="#fff" stroke-width="0.6"/>
<circle cx="1037.3" cy="80.8" r="3.9" fill="#fffebe" fill-opacity="0.93" stroke="#fff" stroke-width="0.6"/>
<circle cx="1031.3" cy="84.2" r="3.9" fill="#fffebe" fill-opacity="0.93" stroke="#fff" stroke-width="0.6"/>
<circle cx="1032.2" cy="91.0" r="3.9" fill="#fffebe" fill-opacity="0.96" stroke="#fff" stroke-width="0.6"/>
<circle cx="1041.6" cy="91.9" r="3.9" fill="#fffebe" fill-opacity="0.93" stroke="#fff" stroke-width="0.6"/>
<circle cx="1051.0" cy="74.8" r="3.9" fill="#fffebe" fill-opacity="0.93" stroke="#fff" stroke-width="0.6"/>
<circle cx="1056.1" cy="75.7" r="3.9" fill="#fffebe" fill-opacity="0.90" stroke="#fff" stroke-width="0.6"/>
<circle cx="1025.4" cy="86.8" r="3.9" fill="#fffebe" fill-opacity="1.00" stroke="#fff" stroke-width="0.6"/>
<circle cx="1068.9" cy="112.3" r="3.9" fill="#fffebe" fill-opacity="1.00" stroke="#fff" stroke-width="0.6"/>
<circle cx="1083.3" cy="111.5" r="3.9" fill="#fffebe" fill-opacity="0.99" stroke="#fff" stroke-width="0.6"/>
<circle cx="1079.1" cy="89.3" r="3.9" fill="#fffebe" fill-opacity="0.99" stroke="#fff" stroke-width="0.6"/>
<circle cx="944.3" cy="150.0" r="3.9" fill="#fffebe" fill-opacity="0.99" stroke="#fff" stroke-width="0.6"/>
<circle cx="963.1" cy="185.1" r="3.9" fill="#fffebe" fill-opacity="1.00" stroke="#fff" stroke-width="0.6"/>
<circle cx="1031.9" cy="171.3" r="3.9" fill="#fffebe" fill-opacity="0.87" stroke="#fff" stroke-width="0.6"/>
<circle cx="1019.2" cy="126.1" r="3.9" fill="#fffebe" fill-opacity="0.93" stroke="#fff" stroke-width="0.6"/>
<circle cx="1024.3" cy="128.7" r="3.9" fill="#fffebe" fill-opacity="0.87" stroke="#fff" stroke-width="0.6"/>
<circle cx="994.4" cy="131.2" r="3.9" fill="#fffebe" fill-opacity="0.93" stroke="#fff" stroke-width="0.6"/>
<circle cx="1014.9" cy="130.4" r="3.9" fill="#fffebe" fill-opacity="0.90" stroke="#fff" stroke-width="0.6"/>
<circle cx="1074.4" cy="123.6" r="3.9" fill="#fffebe" fill-opacity="0.93" stroke="#fff" stroke-width="0.6"/>
<circle cx="1046.2" cy="176.6" r="3.9" fill="#fffebe" fill-opacity="0.96" stroke="#fff" stroke-width="0.6"/>
<circle cx="1070.1" cy="186.8" r="3.9" fill="#fffebe" fill-opacity="1.00" stroke="#fff" stroke-width="0.6"/>
<circle cx="1076.1" cy="186.8" r="3.9" fill="#fffebe" fill-opacity="1.00" stroke="#fff" stroke-width="0.6"/>
<circle cx="1078.6" cy="181.7" r="3.9" fill="#fffebe" fill-opacity="1.00" stroke="#fff" stroke-width="0.6"/>
<circle cx="1104.2" cy="220.0" r="3.9" fill="#fffebe" fill-opacity="0.87" stroke="#fff" stroke-width="0.6"/>
<circle cx="1146.9" cy="62.3" r="3.9" fill="#e6f598" fill-opacity="0.87" stroke="#fff" stroke-width="0.6"/>
<circle cx="1138.4" cy="80.1" r="3.9" fill="#e6f598" fill-opacity="0.81" stroke="#fff" stroke-width="0.6"/>
<circle cx="1179.5" cy="84.8" r="3.9" fill="#e6f598" fill-opacity="0.81" stroke="#fff" stroke-width="0.6"/>
<circle cx="1197.8" cy="77.0" r="3.9" fill="#e6f598" fill-opacity="0.81" stroke="#fff" stroke-width="0.6"/>
<circle cx="1133.8" cy="145.7" r="3.9" fill="#e6f598" fill-opacity="1.00" stroke="#fff" stroke-width="0.6"/>
<circle cx="1165.5" cy="150.3" r="3.9" fill="#e6f598" fill-opacity="0.81" stroke="#fff" stroke-width="0.6"/>
<circle cx="1119.8" cy="168.9" r="3.9" fill="#e6f598" fill-opacity="0.84" stroke="#fff" stroke-width="0.6"/>
<circle cx="1133.8" cy="163.5" r="3.9" fill="#e6f598" fill-opacity="0.93" stroke="#fff" stroke-width="0.6"/>
<circle cx="1143.1" cy="199.1" r="3.9" fill="#e6f598" fill-opacity="0.78" stroke="#fff" stroke-width="0.6"/>
<circle cx="1166.3" cy="199.1" r="3.9" fill="#e6f598" fill-opacity="0.84" stroke="#fff" stroke-width="0.6"/>
<circle cx="1023.6" cy="250.7" r="3.9" fill="#e6f598" fill-opacity="0.78" stroke="#fff" stroke-width="0.6"/>
<circle cx="1042.2" cy="245.3" r="3.9" fill="#e6f598" fill-opacity="0.84" stroke="#fff" stroke-width="0.6"/>
<circle cx="1046.8" cy="255.4" r="3.9" fill="#e6f598" fill-opacity="0.84" stroke="#fff" stroke-width="0.6"/>
<circle cx="1042.2" cy="270.9" r="3.9" fill="#e6f598" fill-opacity="0.84" stroke="#fff" stroke-width="0.6"/>
<circle cx="1051.5" cy="299.6" r="3.9" fill="#e6f598" fill-opacity="1.00" stroke="#fff" stroke-width="0.6"/>
<circle cx="1110.5" cy="234.5" r="3.9" fill="#e6f598" fill-opacity="0.87" stroke="#fff" stroke-width="0.6"/>
<circle cx="1119.8" cy="246.1" r="3.9" fill="#e6f598" fill-opacity="0.90" stroke="#fff" stroke-width="0.6"/>
<circle cx="1109.7" cy="273.2" r="3.9" fill="#e6f598" fill-opacity="0.90" stroke="#fff" stroke-width="0.6"/>
<circle cx="1124.4" cy="277.9" r="3.9" fill="#e6f598" fill-opacity="0.90" stroke="#fff" stroke-width="0.6"/>
<circle cx="1087.2" cy="285.6" r="3.9" fill="#e6f598" fill-opacity="0.90" stroke="#fff" stroke-width="0.6"/>
<circle cx="1070.2" cy="299.6" r="3.9" fill="#e6f598" fill-opacity="0.99" stroke="#fff" stroke-width="0.6"/>
<circle cx="1054.7" cy="296.5" r="3.9" fill="#e6f598" fill-opacity="1.00" stroke="#fff" stroke-width="0.6"/>
<circle cx="1152.4" cy="236.0" r="3.9" fill="#e6f598" fill-opacity="0.78" stroke="#fff" stroke-width="0.6"/>
<circle cx="1165.9" cy="249.5" r="3.9" fill="#e6f598" fill-opacity="0.78" stroke="#fff" stroke-width="0.6"/>
<circle cx="1326.8" cy="220.5" r="3.9" fill="#e6f598" fill-opacity="0.78" stroke="#fff" stroke-width="0.6"/>
<circle cx="1037.1" cy="302.0" r="3.9" fill="#e6f598" fill-opacity="0.99" stroke="#fff" stroke-width="0.6"/>
<circle cx="1043.3" cy="297.3" r="3.9" fill="#e6f598" fill-opacity="1.00" stroke="#fff" stroke-width="0.6"/>
<circle cx="1083.6" cy="305.1" r="3.9" fill="#e6f598" fill-opacity="1.00" stroke="#fff" stroke-width="0.6"/>
<circle cx="1082.0" cy="310.5" r="3.9" fill="#e6f598" fill-opacity="0.96" stroke="#fff" stroke-width="0.6"/>
<circle cx="1086.7" cy="322.9" r="3.9" fill="#e6f598" fill-opacity="0.99" stroke="#fff" stroke-width="0.6"/>
<circle cx="1077.4" cy="332.2" r="3.9" fill="#e6f598" fill-opacity="0.90" stroke="#fff" stroke-width="0.6"/>
<circle cx="1113.0" cy="330.7" r="3.9" fill="#e6f598" fill-opacity="1.00" stroke="#fff" stroke-width="0.6"/>
<circle cx="1097.5" cy="351.6" r="3.9" fill="#e6f598" fill-opacity="0.78" stroke="#fff" stroke-width="0.6"/>
<circle cx="1118.4" cy="375.6" r="3.9" fill="#e6f598" fill-opacity="0.81" stroke="#fff" stroke-width="0.6"/>
<circle cx="1142.6" cy="307.1" r="3.9" fill="#e6f598" fill-opacity="0.84" stroke="#fff" stroke-width="0.6"/>
<circle cx="1112.3" cy="330.7" r="3.9" fill="#e6f598" fill-opacity="1.00" stroke="#fff" stroke-width="0.6"/>
<circle cx="1134.0" cy="332.2" r="3.9" fill="#e6f598" fill-opacity="0.84" stroke="#fff" stroke-width="0.6"/>
<circle cx="1152.6" cy="345.4" r="3.9" fill="#e6f598" fill-opacity="0.78" stroke="#fff" stroke-width="0.6"/>
<circle cx="1134.0" cy="353.1" r="3.9" fill="#e6f598" fill-opacity="0.87" stroke="#fff" stroke-width="0.6"/>
<circle cx="1124.7" cy="373.3" r="3.9" fill="#e6f598" fill-opacity="0.90" stroke="#fff" stroke-width="0.6"/>
<circle cx="1119.3" cy="375.6" r="3.9" fill="#e6f598" fill-opacity="0.87" stroke="#fff" stroke-width="0.6"/>
<circle cx="1129.4" cy="381.0" r="3.9" fill="#e6f598" fill-opacity="0.87" stroke="#fff" stroke-width="0.6"/>
<circle cx="868.3" cy="45.7" r="3.9" fill="#e6f598" fill-opacity="0.93" stroke="#fff" stroke-width="0.6"/>
<circle cx="853.8" cy="52.5" r="3.9" fill="#e6f598" fill-opacity="0.87" stroke="#fff" stroke-width="0.6"/>
<circle cx="893.6" cy="47.4" r="3.9" fill="#e6f598" fill-opacity="1.00" stroke="#fff" stroke-width="0.6"/>
<circle cx="944.8" cy="36.3" r="3.9" fill="#e6f598" fill-opacity="0.96" stroke="#fff" stroke-width="0.6"/>
<circle cx="881.7" cy="47.4" r="3.9" fill="#e6f598" fill-opacity="0.99" stroke="#fff" stroke-width="0.6"/>
<circle cx="987.2" cy="25.2" r="3.9" fill="#e6f598" fill-opacity="1.00" stroke="#fff" stroke-width="0.6"/>
<circle cx="982.1" cy="30.3" r="3.9" fill="#e6f598" fill-opacity="1.00" stroke="#fff" stroke-width="0.6"/>
<circle cx="992.3" cy="29.5" r="3.9" fill="#e6f598" fill-opacity="1.00" stroke="#fff" stroke-width="0.6"/>
<circle cx="987.2" cy="30.3" r="3.9" fill="#e6f598" fill-opacity="1.00" stroke="#fff" stroke-width="0.6"/>
<circle cx="988.1" cy="38.9" r="3.9" fill="#e6f598" fill-opacity="1.00" stroke="#fff" stroke-width="0.6"/>
<circle cx="987.2" cy="38.9" r="3.9" fill="#e6f598" fill-opacity="1.00" stroke="#fff" stroke-width="0.6"/>
<circle cx="977.8" cy="45.7" r="3.9" fill="#e6f598" fill-opacity="1.00" stroke="#fff" stroke-width="0.6"/>
<circle cx="990.6" cy="59.3" r="3.9" fill="#e6f598" fill-opacity="1.00" stroke="#fff" stroke-width="0.6"/>
<circle cx="926.9" cy="112.3" r="3.9" fill="#e6f598" fill-opacity="1.00" stroke="#fff" stroke-width="0.6"/>
<circle cx="935.4" cy="118.3" r="3.9" fill="#e6f598" fill-opacity="1.00" stroke="#fff" stroke-width="0.6"/>
<circle cx="953.1" cy="85.1" r="3.9" fill="#e6f598" fill-opacity="0.99" stroke="#fff" stroke-width="0.6"/>
<circle cx="968.5" cy="104.7" r="3.9" fill="#e6f598" fill-opacity="0.99" stroke="#fff" stroke-width="0.6"/>
<circle cx="983.8" cy="70.6" r="3.9" fill="#e6f598" fill-opacity="1.00" stroke="#fff" stroke-width="0.6"/>
<circle cx="986.4" cy="85.9" r="3.9" fill="#e6f598" fill-opacity="0.96" stroke="#fff" stroke-width="0.6"/>
<circle cx="995.7" cy="107.2" r="3.9" fill="#e6f598" fill-opacity="0.99" stroke="#fff" stroke-width="0.6"/>
<circle cx="1004.3" cy="108.1" r="3.9" fill="#e6f598" fill-opacity="1.00" stroke="#fff" stroke-width="0.6"/>
<circle cx="1007.7" cy="69.7" r="3.9" fill="#e6f598" fill-opacity="1.00" stroke="#fff" stroke-width="0.6"/>
<circle cx="1019.4" cy="23.5" r="3.9" fill="#e6f598" fill-opacity="0.99" stroke="#fff" stroke-width="0.6"/>
<circle cx="1022.0" cy="54.2" r="3.9" fill="#e6f598" fill-opacity="0.93" stroke="#fff" stroke-width="0.6"/>
<circle cx="1068.9" cy="45.7" r="3.9" fill="#e6f598" fill-opacity="0.90" stroke="#fff" stroke-width="0.6"/>
<circle cx="1027.9" cy="21.8" r="3.9" fill="#e6f598" fill-opacity="0.90" stroke="#fff" stroke-width="0.6"/>
<circle cx="1059.5" cy="25.2" r="3.9" fill="#e6f598" fill-opacity="0.99" stroke="#fff" stroke-width="0.6"/>
<circle cx="1019.4" cy="46.5" r="3.9" fill="#e6f598" fill-opacity="0.96" stroke="#fff" stroke-width="0.6"/>
<circle cx="1046.7" cy="67.9" r="3.9" fill="#e6f598" fill-opacity="0.87" stroke="#fff" stroke-width="0.6"/>
<circle cx="1068.9" cy="99.5" r="3.9" fill="#e6f598" fill-opacity="0.99" stroke="#fff" stroke-width="0.6"/>
<circle cx="1020.3" cy="85.9" r="3.9" fill="#e6f598" fill-opacity="1.00" stroke="#fff" stroke-width="0.6"/>
<circle cx="1045.8" cy="70.6" r="3.9" fill="#e6f598" fill-opacity="0.90" stroke="#fff" stroke-width="0.6"/>
<circle cx="1060.3" cy="90.2" r="3.9" fill="#e6f598" fill-opacity="0.93" stroke="#fff" stroke-width="0.6"/>
<circle cx="1050.1" cy="103.8" r="3.9" fill="#e6f598" fill-opacity="0.99" stroke="#fff" stroke-width="0.6"/>
<circle cx="1074.0" cy="75.7" r="3.9" fill="#e6f598" fill-opacity="0.99" stroke="#fff" stroke-width="0.6"/>
<circle cx="1075.7" cy="108.1" r="3.9" fill="#e6f598" fill-opacity="0.99" stroke="#fff" stroke-width="0.6"/>
<circle cx="940.9" cy="133.8" r="3.9" fill="#e6f598" fill-opacity="0.87" stroke="#fff" stroke-width="0.6"/>
<circle cx="921.3" cy="141.5" r="3.9" fill="#e6f598" fill-opacity="0.87" stroke="#fff" stroke-width="0.6"/>
<circle cx="927.3" cy="146.6" r="3.9" fill="#e6f598" fill-opacity="0.96" stroke="#fff" stroke-width="0.6"/>
<circle cx="949.4" cy="158.5" r="3.9" fill="#e6f598" fill-opacity="0.96" stroke="#fff" stroke-width="0.6"/>
<circle cx="935.8" cy="150.8" r="3.9" fill="#e6f598" fill-opacity="0.96" stroke="#fff" stroke-width="0.6"/>
<circle cx="917.9" cy="184.2" r="3.9" fill="#e6f598" fill-opacity="1.00" stroke="#fff" stroke-width="0.6"/>
<circle cx="921.3" cy="194.5" r="3.9" fill="#e6f598" fill-opacity="0.96" stroke="#fff" stroke-width="0.6"/>
<circle cx="917.9" cy="198.7" r="3.9" fill="#e6f598" fill-opacity="0.87" stroke="#fff" stroke-width="0.6"/>
<circle cx="974.0" cy="160.2" r="3.9" fill="#e6f598" fill-opacity="1.00" stroke="#fff" stroke-width="0.6"/>
<circle cx="1000.4" cy="171.3" r="3.9" fill="#e6f598" fill-opacity="0.87" stroke="#fff" stroke-width="0.6"/>
<circle cx="1024.3" cy="173.0" r="3.9" fill="#e6f598" fill-opacity="0.87" stroke="#fff" stroke-width="0.6"/>
<circle cx="1000.4" cy="190.6" r="3.9" fill="#e6f598" fill-opacity="0.87" stroke="#fff" stroke-width="0.6"/>
<circle cx="1024.3" cy="175.3" r="3.9" fill="#e6f598" fill-opacity="0.87" stroke="#fff" stroke-width="0.6"/>
<circle cx="1046.7" cy="130.0" r="3.9" fill="#e6f598" fill-opacity="0.90" stroke="#fff" stroke-width="0.6"/>
<circle cx="1060.7" cy="127.0" r="3.9" fill="#e6f598" fill-opacity="0.99" stroke="#fff" stroke-width="0.6"/>
<circle cx="1082.9" cy="135.5" r="3.9" fill="#e6f598" fill-opacity="0.87" stroke="#fff" stroke-width="0.6"/>
<circle cx="1059.9" cy="148.3" r="3.9" fill="#e6f598" fill-opacity="0.84" stroke="#fff" stroke-width="0.6"/>
<circle cx="1097.4" cy="174.3" r="3.9" fill="#e6f598" fill-opacity="0.93" stroke="#fff" stroke-width="0.6"/>
<circle cx="1059.9" cy="220.0" r="3.9" fill="#e6f598" fill-opacity="1.00" stroke="#fff" stroke-width="0.6"/>
<circle cx="1078.6" cy="225.2" r="3.9" fill="#e6f598" fill-opacity="0.99" stroke="#fff" stroke-width="0.6"/>
<circle cx="1087.2" cy="220.0" r="3.9" fill="#e6f598" fill-opacity="0.99" stroke="#fff" stroke-width="0.6"/>
<circle cx="1097.4" cy="175.7" r="3.9" fill="#e6f598" fill-opacity="0.93" stroke="#fff" stroke-width="0.6"/>
<circle cx="1042.0" cy="186.8" r="3.9" fill="#e6f598" fill-opacity="1.00" stroke="#fff" stroke-width="0.6"/>
<circle cx="1074.4" cy="197.0" r="3.9" fill="#e6f598" fill-opacity="0.93" stroke="#fff" stroke-width="0.6"/>
<circle cx="1087.2" cy="180.8" r="3.9" fill="#e6f598" fill-opacity="1.00" stroke="#fff" stroke-width="0.6"/>
<circle cx="1082.0" cy="180.8" r="3.9" fill="#e6f598" fill-opacity="1.00" stroke="#fff" stroke-width="0.6"/>
<circle cx="1091.4" cy="191.1" r="3.9" fill="#e6f598" fill-opacity="0.90" stroke="#fff" stroke-width="0.6"/>
<circle cx="1098.2" cy="192.8" r="3.9" fill="#e6f598" fill-opacity="0.87" stroke="#fff" stroke-width="0.6"/>
<circle cx="1104.2" cy="191.9" r="3.9" fill="#e6f598" fill-opacity="0.87" stroke="#fff" stroke-width="0.6"/>
<circle cx="1087.2" cy="201.3" r="3.9" fill="#e6f598" fill-opacity="0.93" stroke="#fff" stroke-width="0.6"/>
<circle cx="1055.6" cy="214.1" r="3.9" fill="#e6f598" fill-opacity="0.96" stroke="#fff" stroke-width="0.6"/>
<circle cx="1040.3" cy="222.6" r="3.9" fill="#e6f598" fill-opacity="0.93" stroke="#fff" stroke-width="0.6"/>
<circle cx="1073.5" cy="223.4" r="3.9" fill="#e6f598" fill-opacity="0.96" stroke="#fff" stroke-width="0.6"/>
<circle cx="1097.3" cy="99.5" r="3.9" fill="#aadca4" fill-opacity="1.00" stroke="#fff" stroke-width="0.6"/>
<circle cx="1105.9" cy="99.5" r="3.9" fill="#aadca4" fill-opacity="0.93" stroke="#fff" stroke-width="0.6"/>
<circle cx="1152.4" cy="126.3" r="3.9" fill="#aadca4" fill-opacity="0.90" stroke="#fff" stroke-width="0.6"/>
<circle cx="1110.5" cy="155.7" r="3.9" fill="#aadca4" fill-opacity="0.87" stroke="#fff" stroke-width="0.6"/>
<circle cx="1133.8" cy="156.5" r="3.9" fill="#aadca4" fill-opacity="0.90" stroke="#fff" stroke-width="0.6"/>
<circle cx="1340.0" cy="204.3" r="3.9" fill="#aadca4" fill-opacity="0.78" stroke="#fff" stroke-width="0.6"/>
<circle cx="1056.1" cy="232.9" r="3.9" fill="#aadca4" fill-opacity="0.99" stroke="#fff" stroke-width="0.6"/>
<circle cx="1058.4" cy="273.2" r="3.9" fill="#aadca4" fill-opacity="0.93" stroke="#fff" stroke-width="0.6"/>
<circle cx="1036.7" cy="280.2" r="3.9" fill="#aadca4" fill-opacity="0.90" stroke="#fff" stroke-width="0.6"/>
<circle cx="1028.2" cy="299.6" r="3.9" fill="#aadca4" fill-opacity="0.99" stroke="#fff" stroke-width="0.6"/>
<circle cx="1057.7" cy="294.9" r="3.9" fill="#aadca4" fill-opacity="1.00" stroke="#fff" stroke-width="0.6"/>
<circle cx="1110.5" cy="219.0" r="3.9" fill="#aadca4" fill-opacity="0.81" stroke="#fff" stroke-width="0.6"/>
<circle cx="1056.2" cy="232.9" r="3.9" fill="#aadca4" fill-opacity="0.99" stroke="#fff" stroke-width="0.6"/>
<circle cx="1082.6" cy="236.0" r="3.9" fill="#aadca4" fill-opacity="0.99" stroke="#fff" stroke-width="0.6"/>
<circle cx="1053.1" cy="237.6" r="3.9" fill="#aadca4" fill-opacity="0.96" stroke="#fff" stroke-width="0.6"/>
<circle cx="1073.3" cy="242.2" r="3.9" fill="#aadca4" fill-opacity="0.90" stroke="#fff" stroke-width="0.6"/>
<circle cx="1087.2" cy="242.2" r="3.9" fill="#aadca4" fill-opacity="0.96" stroke="#fff" stroke-width="0.6"/>
<circle cx="1098.1" cy="239.9" r="3.9" fill="#aadca4" fill-opacity="0.96" stroke="#fff" stroke-width="0.6"/>
<circle cx="1115.1" cy="241.4" r="3.9" fill="#aadca4" fill-opacity="0.93" stroke="#fff" stroke-width="0.6"/>
<circle cx="1102.7" cy="240.7" r="3.9" fill="#aadca4" fill-opacity="0.87" stroke="#fff" stroke-width="0.6"/>
<circle cx="1101.9" cy="246.9" r="3.9" fill="#aadca4" fill-opacity="0.90" stroke="#fff" stroke-width="0.6"/>
<circle cx="1101.2" cy="253.1" r="3.9" fill="#aadca4" fill-opacity="0.87" stroke="#fff" stroke-width="0.6"/>
<circle cx="1091.9" cy="256.2" r="3.9" fill="#aadca4" fill-opacity="0.93" stroke="#fff" stroke-width="0.6"/>
<circle cx="1088.0" cy="267.0" r="3.9" fill="#aadca4" fill-opacity="0.84" stroke="#fff" stroke-width="0.6"/>
<circle cx="1060.1" cy="273.2" r="3.9" fill="#aadca4" fill-opacity="0.93" stroke="#fff" stroke-width="0.6"/>
<circle cx="1114.3" cy="274.0" r="3.9" fill="#aadca4" fill-opacity="0.93" stroke="#fff" stroke-width="0.6"/>
<circle cx="1060.9" cy="291.0" r="3.9" fill="#aadca4" fill-opacity="1.00" stroke="#fff" stroke-width="0.6"/>
<circle cx="1096.5" cy="293.4" r="3.9" fill="#aadca4" fill-opacity="1.00" stroke="#fff" stroke-width="0.6"/>
<circle cx="1111.2" cy="291.0" r="3.9" fill="#aadca4" fill-opacity="1.00" stroke="#fff" stroke-width="0.6"/>
<circle cx="1115.1" cy="288.7" r="3.9" fill="#aadca4" fill-opacity="1.00" stroke="#fff" stroke-width="0.6"/>
<circle cx="1179.9" cy="209.3" r="3.9" fill="#aadca4" fill-opacity="0.84" stroke="#fff" stroke-width="0.6"/>
<circle cx="1027.8" cy="299.7" r="3.9" fill="#aadca4" fill-opacity="0.99" stroke="#fff" stroke-width="0.6"/>
<circle cx="1032.4" cy="306.6" r="3.9" fill="#aadca4" fill-opacity="0.93" stroke="#fff" stroke-width="0.6"/>
<circle cx="1024.7" cy="296.6" r="3.9" fill="#aadca4" fill-opacity="0.90" stroke="#fff" stroke-width="0.6"/>
<circle cx="1092.1" cy="307.4" r="3.9" fill="#aadca4" fill-opacity="1.00" stroke="#fff" stroke-width="0.6"/>
<circle cx="1114.6" cy="310.5" r="3.9" fill="#aadca4" fill-opacity="0.99" stroke="#fff" stroke-width="0.6"/>
<circle cx="1119.2" cy="305.9" r="3.9" fill="#aadca4" fill-opacity="1.00" stroke="#fff" stroke-width="0.6"/>
<circle cx="1047.9" cy="309.7" r="3.9" fill="#aadca4" fill-opacity="0.93" stroke="#fff" stroke-width="0.6"/>
<circle cx="1088.2" cy="316.7" r="3.9" fill="#aadca4" fill-opacity="1.00" stroke="#fff" stroke-width="0.6"/>
<circle cx="1069.6" cy="325.2" r="3.9" fill="#aadca4" fill-opacity="0.96" stroke="#fff" stroke-width="0.6"/>
<circle cx="1078.9" cy="322.9" r="3.9" fill="#aadca4" fill-opacity="1.00" stroke="#fff" stroke-width="0.6"/>
<circle cx="1082.0" cy="333.0" r="3.9" fill="#aadca4" fill-opacity="0.93" stroke="#fff" stroke-width="0.6"/>
<circle cx="1069.6" cy="328.3" r="3.9" fill="#aadca4" fill-opacity="0.90" stroke="#fff" stroke-width="0.6"/>
<circle cx="1119.3" cy="305.9" r="3.9" fill="#aadca4" fill-opacity="1.00" stroke="#fff" stroke-width="0.6"/>
<circle cx="1114.7" cy="311.3" r="3.9" fill="#aadca4" fill-opacity="0.96" stroke="#fff" stroke-width="0.6"/>
<circle cx="1129.4" cy="357.0" r="3.9" fill="#aadca4" fill-opacity="0.87" stroke="#fff" stroke-width="0.6"/>
<circle cx="844.4" cy="26.9" r="3.9" fill="#aadca4" fill-opacity="1.00" stroke="#fff" stroke-width="0.6"/>
<circle cx="871.7" cy="35.5" r="3.9" fill="#aadca4" fill-opacity="1.00" stroke="#fff" stroke-width="0.6"/>
<circle cx="848.7" cy="65.3" r="3.9" fill="#aadca4" fill-opacity="0.84" stroke="#fff" stroke-width="0.6"/>
<circle cx="893.6" cy="23.5" r="3.9" fill="#aadca4" fill-opacity="0.99" stroke="#fff" stroke-width="0.6"/>
<circle cx="912.4" cy="57.6" r="3.9" fill="#aadca4" fill-opacity="0.96" stroke="#fff" stroke-width="0.6"/>
<circle cx="885.1" cy="59.3" r="3.9" fill="#aadca4" fill-opacity="0.99" stroke="#fff" stroke-width="0.6"/>
<circle cx="939.7" cy="47.4" r="3.9" fill="#aadca4" fill-opacity="0.93" stroke="#fff" stroke-width="0.6"/>
<circle cx="954.8" cy="21.8" r="3.9" fill="#aadca4" fill-opacity="0.99" stroke="#fff" stroke-width="0.6"/>
<circle cx="949.7" cy="27.8" r="3.9" fill="#aadca4" fill-opacity="1.00" stroke="#fff" stroke-width="0.6"/>
<circle cx="963.3" cy="26.9" r="3.9" fill="#aadca4" fill-opacity="1.00" stroke="#fff" stroke-width="0.6"/>
<circle cx="1014.5" cy="31.2" r="3.9" fill="#aadca4" fill-opacity="0.99" stroke="#fff" stroke-width="0.6"/>
<circle cx="1004.3" cy="36.3" r="3.9" fill="#aadca4" fill-opacity="1.00" stroke="#fff" stroke-width="0.6"/>
<circle cx="999.2" cy="42.3" r="3.9" fill="#aadca4" fill-opacity="1.00" stroke="#fff" stroke-width="0.6"/>
<circle cx="958.2" cy="59.3" r="3.9" fill="#aadca4" fill-opacity="1.00" stroke="#fff" stroke-width="0.6"/>
<circle cx="977.0" cy="57.6" r="3.9" fill="#aadca4" fill-opacity="1.00" stroke="#fff" stroke-width="0.6"/>
<circle cx="971.9" cy="63.6" r="3.9" fill="#aadca4" fill-opacity="1.00" stroke="#fff" stroke-width="0.6"/>
<circle cx="980.4" cy="64.4" r="3.9" fill="#aadca4" fill-opacity="1.00" stroke="#fff" stroke-width="0.6"/>
<circle cx="883.4" cy="74.4" r="3.9" fill="#aadca4" fill-opacity="0.93" stroke="#fff" stroke-width="0.6"/>
<circle cx="922.6" cy="73.1" r="3.9" fill="#aadca4" fill-opacity="0.99" stroke="#fff" stroke-width="0.6"/>
<circle cx="930.3" cy="74.0" r="3.9" fill="#aadca4" fill-opacity="0.99" stroke="#fff" stroke-width="0.6"/>
<circle cx="934.6" cy="81.6" r="3.9" fill="#aadca4" fill-opacity="0.96" stroke="#fff" stroke-width="0.6"/>
<circle cx="936.3" cy="90.2" r="3.9" fill="#aadca4" fill-opacity="0.96" stroke="#fff" stroke-width="0.6"/>
<circle cx="890.2" cy="94.4" r="3.9" fill="#aadca4" fill-opacity="0.78" stroke="#fff" stroke-width="0.6"/>
<circle cx="909.0" cy="87.6" r="3.9" fill="#aadca4" fill-opacity="0.96" stroke="#fff" stroke-width="0.6"/>
<circle cx="919.2" cy="107.2" r="3.9" fill="#aadca4" fill-opacity="0.93" stroke="#fff" stroke-width="0.6"/>
<circle cx="936.3" cy="103.0" r="3.9" fill="#aadca4" fill-opacity="1.00" stroke="#fff" stroke-width="0.6"/>
<circle cx="899.6" cy="121.3" r="3.9" fill="#aadca4" fill-opacity="0.78" stroke="#fff" stroke-width="0.6"/>
<circle cx="945.6" cy="86.8" r="3.9" fill="#aadca4" fill-opacity="0.96" stroke="#fff" stroke-width="0.6"/>
<circle cx="953.1" cy="78.2" r="3.9" fill="#aadca4" fill-opacity="0.99" stroke="#fff" stroke-width="0.6"/>
<circle cx="958.2" cy="79.1" r="3.9" fill="#aadca4" fill-opacity="1.00" stroke="#fff" stroke-width="0.6"/>
<circle cx="962.5" cy="78.2" r="3.9" fill="#aadca4" fill-opacity="1.00" stroke="#fff" stroke-width="0.6"/>
<circle cx="977.8" cy="71.4" r="3.9" fill="#aadca4" fill-opacity="1.00" stroke="#fff" stroke-width="0.6"/>
<circle cx="954.8" cy="93.6" r="3.9" fill="#aadca4" fill-opacity="0.99" stroke="#fff" stroke-width="0.6"/>
<circle cx="965.1" cy="101.2" r="3.9" fill="#aadca4" fill-opacity="0.96" stroke="#fff" stroke-width="0.6"/>
<circle cx="983.0" cy="112.3" r="3.9" fill="#aadca4" fill-opacity="0.99" stroke="#fff" stroke-width="0.6"/>
<circle cx="1000.0" cy="116.6" r="3.9" fill="#aadca4" fill-opacity="0.93" stroke="#fff" stroke-width="0.6"/>
<circle cx="988.9" cy="75.7" r="3.9" fill="#aadca4" fill-opacity="1.00" stroke="#fff" stroke-width="0.6"/>
<circle cx="991.5" cy="72.3" r="3.9" fill="#aadca4" fill-opacity="1.00" stroke="#fff" stroke-width="0.6"/>
<circle cx="1009.4" cy="115.7" r="3.9" fill="#aadca4" fill-opacity="0.90" stroke="#fff" stroke-width="0.6"/>
<circle cx="1023.7" cy="32.9" r="3.9" fill="#aadca4" fill-opacity="1.00" stroke="#fff" stroke-width="0.6"/>
<circle cx="1032.2" cy="42.3" r="3.9" fill="#aadca4" fill-opacity="1.00" stroke="#fff" stroke-width="0.6"/>
<circle cx="1032.2" cy="52.5" r="3.9" fill="#aadca4" fill-opacity="0.93" stroke="#fff" stroke-width="0.6"/>
<circle cx="1023.7" cy="61.0" r="3.9" fill="#aadca4" fill-opacity="0.90" stroke="#fff" stroke-width="0.6"/>
<circle cx="1018.6" cy="71.4" r="3.9" fill="#aadca4" fill-opacity="1.00" stroke="#fff" stroke-width="0.6"/>
<circle cx="1024.5" cy="74.0" r="3.9" fill="#aadca4" fill-opacity="0.90" stroke="#fff" stroke-width="0.6"/>
<circle cx="1060.3" cy="77.4" r="3.9" fill="#aadca4" fill-opacity="0.93" stroke="#fff" stroke-width="0.6"/>
<circle cx="1016.9" cy="102.1" r="3.9" fill="#aadca4" fill-opacity="1.00" stroke="#fff" stroke-width="0.6"/>
<circle cx="1019.4" cy="109.8" r="3.9" fill="#aadca4" fill-opacity="0.93" stroke="#fff" stroke-width="0.6"/>
<circle cx="1023.7" cy="117.4" r="3.9" fill="#aadca4" fill-opacity="0.93" stroke="#fff" stroke-width="0.6"/>
<circle cx="1036.5" cy="105.5" r="3.9" fill="#aadca4" fill-opacity="0.96" stroke="#fff" stroke-width="0.6"/>
<circle cx="1046.7" cy="115.7" r="3.9" fill="#aadca4" fill-opacity="0.99" stroke="#fff" stroke-width="0.6"/>
<circle cx="1051.8" cy="114.0" r="3.9" fill="#aadca4" fill-opacity="1.00" stroke="#fff" stroke-width="0.6"/>
<circle cx="1055.2" cy="97.0" r="3.9" fill="#aadca4" fill-opacity="0.96" stroke="#fff" stroke-width="0.6"/>
<circle cx="1068.9" cy="91.0" r="3.9" fill="#aadca4" fill-opacity="0.96" stroke="#fff" stroke-width="0.6"/>
<circle cx="1078.2" cy="108.1" r="3.9" fill="#aadca4" fill-opacity="1.00" stroke="#fff" stroke-width="0.6"/>
<circle cx="1063.7" cy="72.3" r="3.9" fill="#aadca4" fill-opacity="0.93" stroke="#fff" stroke-width="0.6"/>
<circle cx="1055.2" cy="120.9" r="3.9" fill="#aadca4" fill-opacity="1.00" stroke="#fff" stroke-width="0.6"/>
<circle cx="900.9" cy="122.7" r="3.9" fill="#aadca4" fill-opacity="0.78" stroke="#fff" stroke-width="0.6"/>
<circle cx="945.2" cy="134.6" r="3.9" fill="#aadca4" fill-opacity="0.90" stroke="#fff" stroke-width="0.6"/>
<circle cx="949.4" cy="145.3" r="3.9" fill="#aadca4" fill-opacity="0.90" stroke="#fff" stroke-width="0.6"/>
<circle cx="926.4" cy="157.7" r="3.9" fill="#aadca4" fill-opacity="1.00" stroke="#fff" stroke-width="0.6"/>
<circle cx="936.7" cy="156.8" r="3.9" fill="#aadca4" fill-opacity="0.93" stroke="#fff" stroke-width="0.6"/>
<circle cx="940.9" cy="164.5" r="3.9" fill="#aadca4" fill-opacity="0.96" stroke="#fff" stroke-width="0.6"/>
<circle cx="926.4" cy="167.0" r="3.9" fill="#aadca4" fill-opacity="1.00" stroke="#fff" stroke-width="0.6"/>
<circle cx="931.5" cy="168.3" r="3.9" fill="#aadca4" fill-opacity="1.00" stroke="#fff" stroke-width="0.6"/>
<circle cx="967.3" cy="123.6" r="3.9" fill="#aadca4" fill-opacity="0.93" stroke="#fff" stroke-width="0.6"/>
<circle cx="967.3" cy="173.0" r="3.9" fill="#aadca4" fill-opacity="1.00" stroke="#fff" stroke-width="0.6"/>
<circle cx="913.6" cy="184.7" r="3.9" fill="#aadca4" fill-opacity="0.90" stroke="#fff" stroke-width="0.6"/>
<circle cx="925.6" cy="179.1" r="3.9" fill="#aadca4" fill-opacity="1.00" stroke="#fff" stroke-width="0.6"/>
<circle cx="933.2" cy="188.5" r="3.9" fill="#aadca4" fill-opacity="0.99" stroke="#fff" stroke-width="0.6"/>
<circle cx="940.1" cy="184.2" r="3.9" fill="#aadca4" fill-opacity="0.99" stroke="#fff" stroke-width="0.6"/>
<circle cx="955.4" cy="185.1" r="3.9" fill="#aadca4" fill-opacity="1.00" stroke="#fff" stroke-width="0.6"/>
<circle cx="959.7" cy="189.3" r="3.9" fill="#aadca4" fill-opacity="1.00" stroke="#fff" stroke-width="0.6"/>
<circle cx="945.2" cy="174.9" r="3.9" fill="#aadca4" fill-opacity="0.99" stroke="#fff" stroke-width="0.6"/>
<circle cx="967.3" cy="175.3" r="3.9" fill="#aadca4" fill-opacity="1.00" stroke="#fff" stroke-width="0.6"/>
<circle cx="991.9" cy="136.3" r="3.9" fill="#aadca4" fill-opacity="0.87" stroke="#fff" stroke-width="0.6"/>
<circle cx="982.5" cy="149.1" r="3.9" fill="#aadca4" fill-opacity="0.99" stroke="#fff" stroke-width="0.6"/>
<circle cx="982.5" cy="160.2" r="3.9" fill="#aadca4" fill-opacity="0.96" stroke="#fff" stroke-width="0.6"/>
<circle cx="991.9" cy="171.3" r="3.9" fill="#aadca4" fill-opacity="1.00" stroke="#fff" stroke-width="0.6"/>
<circle cx="979.1" cy="144.0" r="3.9" fill="#aadca4" fill-opacity="0.93" stroke="#fff" stroke-width="0.6"/>
<circle cx="969.7" cy="173.0" r="3.9" fill="#aadca4" fill-opacity="1.00" stroke="#fff" stroke-width="0.6"/>
<circle cx="969.7" cy="175.7" r="3.9" fill="#aadca4" fill-opacity="1.00" stroke="#fff" stroke-width="0.6"/>
<circle cx="977.4" cy="186.8" r="3.9" fill="#aadca4" fill-opacity="0.99" stroke="#fff" stroke-width="0.6"/>
<circle cx="992.7" cy="192.8" r="3.9" fill="#aadca4" fill-opacity="0.90" stroke="#fff" stroke-width="0.6"/>
<circle cx="1000.4" cy="199.6" r="3.9" fill="#aadca4" fill-opacity="0.84" stroke="#fff" stroke-width="0.6"/>
<circle cx="1023.4" cy="204.7" r="3.9" fill="#aadca4" fill-opacity="0.93" stroke="#fff" stroke-width="0.6"/>
<circle cx="1031.9" cy="225.2" r="3.9" fill="#aadca4" fill-opacity="0.84" stroke="#fff" stroke-width="0.6"/>
<circle cx="1017.4" cy="216.2" r="3.9" fill="#aadca4" fill-opacity="0.87" stroke="#fff" stroke-width="0.6"/>
<circle cx="1037.7" cy="127.4" r="3.9" fill="#aadca4" fill-opacity="0.81" stroke="#fff" stroke-width="0.6"/>
<circle cx="1055.6" cy="124.8" r="3.9" fill="#aadca4" fill-opacity="0.99" stroke="#fff" stroke-width="0.6"/>
<circle cx="1101.6" cy="142.3" r="3.9" fill="#aadca4" fill-opacity="0.90" stroke="#fff" stroke-width="0.6"/>
<circle cx="1104.2" cy="127.0" r="3.9" fill="#aadca4" fill-opacity="0.96" stroke="#fff" stroke-width="0.6"/>
<circle cx="1050.9" cy="140.6" r="3.9" fill="#aadca4" fill-opacity="0.81" stroke="#fff" stroke-width="0.6"/>
<circle cx="1046.7" cy="152.1" r="3.9" fill="#aadca4" fill-opacity="0.78" stroke="#fff" stroke-width="0.6"/>
<circle cx="1101.6" cy="149.6" r="3.9" fill="#aadca4" fill-opacity="0.93" stroke="#fff" stroke-width="0.6"/>
<circle cx="1050.9" cy="172.2" r="3.9" fill="#aadca4" fill-opacity="0.93" stroke="#fff" stroke-width="0.6"/>
<circle cx="1059.9" cy="173.9" r="3.9" fill="#aadca4" fill-opacity="0.90" stroke="#fff" stroke-width="0.6"/>
<circle cx="1074.4" cy="211.5" r="3.9" fill="#aadca4" fill-opacity="0.96" stroke="#fff" stroke-width="0.6"/>
<circle cx="1059.9" cy="175.7" r="3.9" fill="#aadca4" fill-opacity="0.93" stroke="#fff" stroke-width="0.6"/>
<circle cx="1042.0" cy="198.7" r="3.9" fill="#aadca4" fill-opacity="0.96" stroke="#fff" stroke-width="0.6"/>
<circle cx="1059.9" cy="197.4" r="3.9" fill="#aadca4" fill-opacity="1.00" stroke="#fff" stroke-width="0.6"/>
<circle cx="1070.1" cy="192.8" r="3.9" fill="#aadca4" fill-opacity="0.96" stroke="#fff" stroke-width="0.6"/>
<circle cx="1047.1" cy="217.5" r="3.9" fill="#aadca4" fill-opacity="0.96" stroke="#fff" stroke-width="0.6"/>
<circle cx="1051.3" cy="219.2" r="3.9" fill="#aadca4" fill-opacity="0.99" stroke="#fff" stroke-width="0.6"/>
<circle cx="1065.0" cy="223.4" r="3.9" fill="#aadca4" fill-opacity="0.93" stroke="#fff" stroke-width="0.6"/>
<circle cx="874.9" cy="24.0" r="3.9" fill="#aadca4" fill-opacity="1.00" stroke="#fff" stroke-width="0.6"/>
<circle cx="1125.2" cy="165.0" r="3.9" fill="#66c2a5" fill-opacity="0.87" stroke="#fff" stroke-width="0.6"/>
<circle cx="1056.1" cy="282.5" r="3.9" fill="#66c2a5" fill-opacity="1.00" stroke="#fff" stroke-width="0.6"/>
<circle cx="1064.7" cy="233.7" r="3.9" fill="#66c2a5" fill-opacity="0.96" stroke="#fff" stroke-width="0.6"/>
<circle cx="1070.2" cy="237.6" r="3.9" fill="#66c2a5" fill-opacity="0.87" stroke="#fff" stroke-width="0.6"/>
<circle cx="1082.6" cy="229.8" r="3.9" fill="#66c2a5" fill-opacity="0.99" stroke="#fff" stroke-width="0.6"/>
<circle cx="1074.8" cy="248.4" r="3.9" fill="#66c2a5" fill-opacity="0.96" stroke="#fff" stroke-width="0.6"/>
<circle cx="1105.8" cy="259.3" r="3.9" fill="#66c2a5" fill-opacity="0.84" stroke="#fff" stroke-width="0.6"/>
<circle cx="1082.6" cy="262.4" r="3.9" fill="#66c2a5" fill-opacity="0.93" stroke="#fff" stroke-width="0.6"/>
<circle cx="1078.7" cy="277.1" r="3.9" fill="#66c2a5" fill-opacity="0.84" stroke="#fff" stroke-width="0.6"/>
<circle cx="1056.2" cy="282.5" r="3.9" fill="#66c2a5" fill-opacity="1.00" stroke="#fff" stroke-width="0.6"/>
<circle cx="1064.7" cy="285.6" r="3.9" fill="#66c2a5" fill-opacity="0.99" stroke="#fff" stroke-width="0.6"/>
<circle cx="1078.7" cy="288.7" r="3.9" fill="#66c2a5" fill-opacity="0.96" stroke="#fff" stroke-width="0.6"/>
<circle cx="1087.2" cy="291.8" r="3.9" fill="#66c2a5" fill-opacity="1.00" stroke="#fff" stroke-width="0.6"/>
<circle cx="1059.3" cy="302.7" r="3.9" fill="#66c2a5" fill-opacity="1.00" stroke="#fff" stroke-width="0.6"/>
<circle cx="1053.9" cy="300.3" r="3.9" fill="#66c2a5" fill-opacity="1.00" stroke="#fff" stroke-width="0.6"/>
<circle cx="1157.1" cy="259.3" r="3.9" fill="#66c2a5" fill-opacity="0.81" stroke="#fff" stroke-width="0.6"/>
<circle cx="1042.5" cy="309.7" r="3.9" fill="#66c2a5" fill-opacity="0.87" stroke="#fff" stroke-width="0.6"/>
<circle cx="1055.7" cy="301.2" r="3.9" fill="#66c2a5" fill-opacity="1.00" stroke="#fff" stroke-width="0.6"/>
<circle cx="1060.3" cy="304.3" r="3.9" fill="#66c2a5" fill-opacity="1.00" stroke="#fff" stroke-width="0.6"/>
<circle cx="1074.3" cy="308.2" r="3.9" fill="#66c2a5" fill-opacity="0.99" stroke="#fff" stroke-width="0.6"/>
<circle cx="1065.0" cy="315.2" r="3.9" fill="#66c2a5" fill-opacity="1.00" stroke="#fff" stroke-width="0.6"/>
<circle cx="1064.2" cy="322.9" r="3.9" fill="#66c2a5" fill-opacity="0.90" stroke="#fff" stroke-width="0.6"/>
<circle cx="1074.3" cy="314.4" r="3.9" fill="#66c2a5" fill-opacity="0.96" stroke="#fff" stroke-width="0.6"/>
<circle cx="1074.3" cy="318.3" r="3.9" fill="#66c2a5" fill-opacity="1.00" stroke="#fff" stroke-width="0.6"/>
<circle cx="1083.6" cy="318.3" r="3.9" fill="#66c2a5" fill-opacity="0.99" stroke="#fff" stroke-width="0.6"/>
<circle cx="1097.5" cy="319.8" r="3.9" fill="#66c2a5" fill-opacity="1.00" stroke="#fff" stroke-width="0.6"/>
<circle cx="1102.2" cy="320.6" r="3.9" fill="#66c2a5" fill-opacity="1.00" stroke="#fff" stroke-width="0.6"/>
<circle cx="1111.5" cy="323.7" r="3.9" fill="#66c2a5" fill-opacity="1.00" stroke="#fff" stroke-width="0.6"/>
<circle cx="1057.2" cy="315.9" r="3.9" fill="#66c2a5" fill-opacity="0.90" stroke="#fff" stroke-width="0.6"/>
<circle cx="1091.3" cy="336.9" r="3.9" fill="#66c2a5" fill-opacity="0.90" stroke="#fff" stroke-width="0.6"/>
<circle cx="1096.7" cy="336.9" r="3.9" fill="#66c2a5" fill-opacity="0.90" stroke="#fff" stroke-width="0.6"/>
<circle cx="1110.7" cy="336.9" r="3.9" fill="#66c2a5" fill-opacity="1.00" stroke="#fff" stroke-width="0.6"/>
<circle cx="1092.1" cy="330.7" r="3.9" fill="#66c2a5" fill-opacity="0.96" stroke="#fff" stroke-width="0.6"/>
<circle cx="1111.6" cy="323.7" r="3.9" fill="#66c2a5" fill-opacity="1.00" stroke="#fff" stroke-width="0.6"/>
<circle cx="1111.6" cy="336.9" r="3.9" fill="#66c2a5" fill-opacity="1.00" stroke="#fff" stroke-width="0.6"/>
<circle cx="1129.4" cy="369.4" r="3.9" fill="#66c2a5" fill-opacity="0.90" stroke="#fff" stroke-width="0.6"/>
<circle cx="1124.7" cy="393.4" r="3.9" fill="#66c2a5" fill-opacity="0.78" stroke="#fff" stroke-width="0.6"/>
<circle cx="839.3" cy="23.5" r="3.9" fill="#66c2a5" fill-opacity="1.00" stroke="#fff" stroke-width="0.6"/>
<circle cx="852.9" cy="24.4" r="3.9" fill="#66c2a5" fill-opacity="1.00" stroke="#fff" stroke-width="0.6"/>
<circle cx="867.4" cy="32.1" r="3.9" fill="#66c2a5" fill-opacity="1.00" stroke="#fff" stroke-width="0.6"/>
<circle cx="876.8" cy="41.4" r="3.9" fill="#66c2a5" fill-opacity="1.00" stroke="#fff" stroke-width="0.6"/>
<circle cx="840.1" cy="50.8" r="3.9" fill="#66c2a5" fill-opacity="0.96" stroke="#fff" stroke-width="0.6"/>
<circle cx="834.6" cy="58.5" r="3.9" fill="#66c2a5" fill-opacity="0.93" stroke="#fff" stroke-width="0.6"/>
<circle cx="925.2" cy="44.0" r="3.9" fill="#66c2a5" fill-opacity="0.93" stroke="#fff" stroke-width="0.6"/>
<circle cx="926.9" cy="50.0" r="3.9" fill="#66c2a5" fill-opacity="0.93" stroke="#fff" stroke-width="0.6"/>
<circle cx="921.8" cy="57.6" r="3.9" fill="#66c2a5" fill-opacity="1.00" stroke="#fff" stroke-width="0.6"/>
<circle cx="924.3" cy="25.2" r="3.9" fill="#66c2a5" fill-opacity="1.00" stroke="#fff" stroke-width="0.6"/>
<circle cx="912.4" cy="48.2" r="3.9" fill="#66c2a5" fill-opacity="0.99" stroke="#fff" stroke-width="0.6"/>
<circle cx="983.8" cy="18.4" r="3.9" fill="#66c2a5" fill-opacity="0.96" stroke="#fff" stroke-width="0.6"/>
<circle cx="991.5" cy="21.0" r="3.9" fill="#66c2a5" fill-opacity="1.00" stroke="#fff" stroke-width="0.6"/>
<circle cx="1009.4" cy="21.8" r="3.9" fill="#66c2a5" fill-opacity="0.96" stroke="#fff" stroke-width="0.6"/>
<circle cx="950.6" cy="39.7" r="3.9" fill="#66c2a5" fill-opacity="1.00" stroke="#fff" stroke-width="0.6"/>
<circle cx="1004.3" cy="44.8" r="3.9" fill="#66c2a5" fill-opacity="1.00" stroke="#fff" stroke-width="0.6"/>
<circle cx="995.7" cy="49.1" r="3.9" fill="#66c2a5" fill-opacity="1.00" stroke="#fff" stroke-width="0.6"/>
<circle cx="990.6" cy="50.8" r="3.9" fill="#66c2a5" fill-opacity="1.00" stroke="#fff" stroke-width="0.6"/>
<circle cx="973.6" cy="50.8" r="3.9" fill="#66c2a5" fill-opacity="0.96" stroke="#fff" stroke-width="0.6"/>
<circle cx="972.7" cy="51.7" r="3.9" fill="#66c2a5" fill-opacity="1.00" stroke="#fff" stroke-width="0.6"/>
<circle cx="976.1" cy="62.7" r="3.9" fill="#66c2a5" fill-opacity="1.00" stroke="#fff" stroke-width="0.6"/>
<circle cx="1000.9" cy="67.0" r="3.9" fill="#66c2a5" fill-opacity="1.00" stroke="#fff" stroke-width="0.6"/>
<circle cx="1012.8" cy="68.7" r="3.9" fill="#66c2a5" fill-opacity="1.00" stroke="#fff" stroke-width="0.6"/>
<circle cx="909.0" cy="82.9" r="3.9" fill="#66c2a5" fill-opacity="0.99" stroke="#fff" stroke-width="0.6"/>
<circle cx="917.5" cy="100.4" r="3.9" fill="#66c2a5" fill-opacity="0.96" stroke="#fff" stroke-width="0.6"/>
<circle cx="932.0" cy="114.0" r="3.9" fill="#66c2a5" fill-opacity="1.00" stroke="#fff" stroke-width="0.6"/>
<circle cx="1000.9" cy="97.8" r="3.9" fill="#66c2a5" fill-opacity="1.00" stroke="#fff" stroke-width="0.6"/>
<circle cx="977.0" cy="91.0" r="3.9" fill="#66c2a5" fill-opacity="0.96" stroke="#fff" stroke-width="0.6"/>
<circle cx="972.7" cy="80.8" r="3.9" fill="#66c2a5" fill-opacity="0.99" stroke="#fff" stroke-width="0.6"/>
<circle cx="963.3" cy="95.3" r="3.9" fill="#66c2a5" fill-opacity="1.00" stroke="#fff" stroke-width="0.6"/>
<circle cx="959.1" cy="113.2" r="3.9" fill="#66c2a5" fill-opacity="0.87" stroke="#fff" stroke-width="0.6"/>
<circle cx="977.0" cy="115.7" r="3.9" fill="#66c2a5" fill-opacity="0.93" stroke="#fff" stroke-width="0.6"/>
<circle cx="987.2" cy="120.0" r="3.9" fill="#66c2a5" fill-opacity="0.99" stroke="#fff" stroke-width="0.6"/>
<circle cx="1002.6" cy="92.7" r="3.9" fill="#66c2a5" fill-opacity="1.00" stroke="#fff" stroke-width="0.6"/>
<circle cx="1007.7" cy="92.7" r="3.9" fill="#66c2a5" fill-opacity="1.00" stroke="#fff" stroke-width="0.6"/>
<circle cx="1019.4" cy="18.0" r="3.9" fill="#66c2a5" fill-opacity="0.87" stroke="#fff" stroke-width="0.6"/>
<circle cx="1036.5" cy="32.1" r="3.9" fill="#66c2a5" fill-opacity="0.99" stroke="#fff" stroke-width="0.6"/>
<circle cx="1027.9" cy="48.2" r="3.9" fill="#66c2a5" fill-opacity="0.99" stroke="#fff" stroke-width="0.6"/>
<circle cx="1016.9" cy="32.1" r="3.9" fill="#66c2a5" fill-opacity="0.93" stroke="#fff" stroke-width="0.6"/>
<circle cx="1020.3" cy="79.1" r="3.9" fill="#66c2a5" fill-opacity="0.96" stroke="#fff" stroke-width="0.6"/>
<circle cx="1060.3" cy="100.4" r="3.9" fill="#66c2a5" fill-opacity="0.99" stroke="#fff" stroke-width="0.6"/>
<circle cx="917.1" cy="155.1" r="3.9" fill="#66c2a5" fill-opacity="0.93" stroke="#fff" stroke-width="0.6"/>
<circle cx="918.8" cy="163.6" r="3.9" fill="#66c2a5" fill-opacity="1.00" stroke="#fff" stroke-width="0.6"/>
<circle cx="958.8" cy="155.1" r="3.9" fill="#66c2a5" fill-opacity="1.00" stroke="#fff" stroke-width="0.6"/>
<circle cx="967.3" cy="158.5" r="3.9" fill="#66c2a5" fill-opacity="1.00" stroke="#fff" stroke-width="0.6"/>
<circle cx="946.0" cy="168.7" r="3.9" fill="#66c2a5" fill-opacity="0.99" stroke="#fff" stroke-width="0.6"/>
<circle cx="940.9" cy="173.0" r="3.9" fill="#66c2a5" fill-opacity="1.00" stroke="#fff" stroke-width="0.6"/>
<circle cx="927.3" cy="196.2" r="3.9" fill="#66c2a5" fill-opacity="0.99" stroke="#fff" stroke-width="0.6"/>
<circle cx="963.9" cy="191.1" r="3.9" fill="#66c2a5" fill-opacity="1.00" stroke="#fff" stroke-width="0.6"/>
<circle cx="964.8" cy="180.8" r="3.9" fill="#66c2a5" fill-opacity="1.00" stroke="#fff" stroke-width="0.6"/>
<circle cx="944.3" cy="203.0" r="3.9" fill="#66c2a5" fill-opacity="0.96" stroke="#fff" stroke-width="0.6"/>
<circle cx="973.1" cy="125.3" r="3.9" fill="#66c2a5" fill-opacity="0.93" stroke="#fff" stroke-width="0.6"/>
<circle cx="987.6" cy="122.3" r="3.9" fill="#66c2a5" fill-opacity="0.99" stroke="#fff" stroke-width="0.6"/>
<circle cx="1008.9" cy="135.5" r="3.9" fill="#66c2a5" fill-opacity="0.87" stroke="#fff" stroke-width="0.6"/>
<circle cx="973.1" cy="144.0" r="3.9" fill="#66c2a5" fill-opacity="1.00" stroke="#fff" stroke-width="0.6"/>
<circle cx="991.9" cy="145.7" r="3.9" fill="#66c2a5" fill-opacity="0.90" stroke="#fff" stroke-width="0.6"/>
<circle cx="969.7" cy="153.4" r="3.9" fill="#66c2a5" fill-opacity="1.00" stroke="#fff" stroke-width="0.6"/>
<circle cx="969.7" cy="160.2" r="3.9" fill="#66c2a5" fill-opacity="0.90" stroke="#fff" stroke-width="0.6"/>
<circle cx="982.5" cy="164.5" r="3.9" fill="#66c2a5" fill-opacity="1.00" stroke="#fff" stroke-width="0.6"/>
<circle cx="987.6" cy="167.9" r="3.9" fill="#66c2a5" fill-opacity="1.00" stroke="#fff" stroke-width="0.6"/>
<circle cx="1004.7" cy="165.3" r="3.9" fill="#66c2a5" fill-opacity="0.87" stroke="#fff" stroke-width="0.6"/>
<circle cx="1031.9" cy="192.3" r="3.9" fill="#66c2a5" fill-opacity="0.90" stroke="#fff" stroke-width="0.6"/>
<circle cx="1023.4" cy="221.7" r="3.9" fill="#66c2a5" fill-opacity="0.90" stroke="#fff" stroke-width="0.6"/>
<circle cx="1050.9" cy="188.1" r="3.9" fill="#66c2a5" fill-opacity="0.96" stroke="#fff" stroke-width="0.6"/>
<circle cx="1064.1" cy="209.8" r="3.9" fill="#66c2a5" fill-opacity="0.93" stroke="#fff" stroke-width="0.6"/>
<circle cx="1082.9" cy="212.4" r="3.9" fill="#66c2a5" fill-opacity="0.96" stroke="#fff" stroke-width="0.6"/>
<circle cx="840.2" cy="32.8" r="3.9" fill="#66c2a5" fill-opacity="1.00" stroke="#fff" stroke-width="0.6"/>
<circle cx="816.4" cy="45.5" r="3.9" fill="#66c2a5" fill-opacity="0.90" stroke="#fff" stroke-width="0.6"/>
<circle cx="1105.9" cy="24.3" r="3.9" fill="#3387bc" fill-opacity="0.90" stroke="#fff" stroke-width="0.6"/>
<circle cx="1161.7" cy="164.3" r="3.9" fill="#3387bc" fill-opacity="0.81" stroke="#fff" stroke-width="0.6"/>
<circle cx="918.0" cy="229.0" r="3.9" fill="#3387bc" fill-opacity="0.93" stroke="#fff" stroke-width="0.6"/>
<circle cx="940.5" cy="233.2" r="3.9" fill="#3387bc" fill-opacity="0.93" stroke="#fff" stroke-width="0.6"/>
<circle cx="936.6" cy="243.0" r="3.9" fill="#3387bc" fill-opacity="0.93" stroke="#fff" stroke-width="0.6"/>
<circle cx="1050.7" cy="243.8" r="3.9" fill="#3387bc" fill-opacity="0.90" stroke="#fff" stroke-width="0.6"/>
<circle cx="1058.4" cy="245.3" r="3.9" fill="#3387bc" fill-opacity="0.90" stroke="#fff" stroke-width="0.6"/>
<circle cx="1036.7" cy="264.7" r="3.9" fill="#3387bc" fill-opacity="0.78" stroke="#fff" stroke-width="0.6"/>
<circle cx="1051.6" cy="243.8" r="3.9" fill="#3387bc" fill-opacity="0.96" stroke="#fff" stroke-width="0.6"/>
<circle cx="1060.1" cy="244.5" r="3.9" fill="#3387bc" fill-opacity="0.93" stroke="#fff" stroke-width="0.6"/>
<circle cx="1069.4" cy="247.6" r="3.9" fill="#3387bc" fill-opacity="0.96" stroke="#fff" stroke-width="0.6"/>
<circle cx="1088.0" cy="252.3" r="3.9" fill="#3387bc" fill-opacity="0.93" stroke="#fff" stroke-width="0.6"/>
<circle cx="1257.4" cy="310.0" r="3.9" fill="#3387bc" fill-opacity="0.78" stroke="#fff" stroke-width="0.6"/>
<circle cx="1060.3" cy="310.5" r="3.9" fill="#3387bc" fill-opacity="0.93" stroke="#fff" stroke-width="0.6"/>
<circle cx="1092.1" cy="320.6" r="3.9" fill="#3387bc" fill-opacity="1.00" stroke="#fff" stroke-width="0.6"/>
<circle cx="1106.0" cy="327.6" r="3.9" fill="#3387bc" fill-opacity="1.00" stroke="#fff" stroke-width="0.6"/>
<circle cx="1101.9" cy="340.0" r="3.9" fill="#3387bc" fill-opacity="0.90" stroke="#fff" stroke-width="0.6"/>
<circle cx="1087.4" cy="373.3" r="3.9" fill="#3387bc" fill-opacity="0.78" stroke="#fff" stroke-width="0.6"/>
<circle cx="815.4" cy="18.4" r="3.9" fill="#3387bc" fill-opacity="0.93" stroke="#fff" stroke-width="0.6"/>
<circle cx="820.5" cy="18.4" r="3.9" fill="#3387bc" fill-opacity="1.00" stroke="#fff" stroke-width="0.6"/>
<circle cx="825.6" cy="18.0" r="3.9" fill="#3387bc" fill-opacity="1.00" stroke="#fff" stroke-width="0.6"/>
<circle cx="831.6" cy="17.6" r="3.9" fill="#3387bc" fill-opacity="0.99" stroke="#fff" stroke-width="0.6"/>
<circle cx="836.7" cy="18.4" r="3.9" fill="#3387bc" fill-opacity="1.00" stroke="#fff" stroke-width="0.6"/>
<circle cx="844.4" cy="18.8" r="3.9" fill="#3387bc" fill-opacity="1.00" stroke="#fff" stroke-width="0.6"/>
<circle cx="851.2" cy="18.4" r="3.9" fill="#3387bc" fill-opacity="1.00" stroke="#fff" stroke-width="0.6"/>
<circle cx="857.2" cy="18.4" r="3.9" fill="#3387bc" fill-opacity="1.00" stroke="#fff" stroke-width="0.6"/>
<circle cx="863.2" cy="19.3" r="3.9" fill="#3387bc" fill-opacity="1.00" stroke="#fff" stroke-width="0.6"/>
<circle cx="866.6" cy="17.6" r="3.9" fill="#3387bc" fill-opacity="0.99" stroke="#fff" stroke-width="0.6"/>
<circle cx="871.7" cy="18.4" r="3.9" fill="#3387bc" fill-opacity="0.99" stroke="#fff" stroke-width="0.6"/>
<circle cx="816.3" cy="26.1" r="3.9" fill="#3387bc" fill-opacity="0.99" stroke="#fff" stroke-width="0.6"/>
<circle cx="821.4" cy="24.4" r="3.9" fill="#3387bc" fill-opacity="1.00" stroke="#fff" stroke-width="0.6"/>
<circle cx="830.8" cy="22.7" r="3.9" fill="#3387bc" fill-opacity="1.00" stroke="#fff" stroke-width="0.6"/>
<circle cx="826.5" cy="26.1" r="3.9" fill="#3387bc" fill-opacity="1.00" stroke="#fff" stroke-width="0.6"/>
<circle cx="849.5" cy="28.6" r="3.9" fill="#3387bc" fill-opacity="1.00" stroke="#fff" stroke-width="0.6"/>
<circle cx="853.8" cy="25.2" r="3.9" fill="#3387bc" fill-opacity="1.00" stroke="#fff" stroke-width="0.6"/>
<circle cx="858.9" cy="25.2" r="3.9" fill="#3387bc" fill-opacity="1.00" stroke="#fff" stroke-width="0.6"/>
<circle cx="864.9" cy="21.8" r="3.9" fill="#3387bc" fill-opacity="1.00" stroke="#fff" stroke-width="0.6"/>
<circle cx="872.5" cy="24.4" r="3.9" fill="#3387bc" fill-opacity="1.00" stroke="#fff" stroke-width="0.6"/>
<circle cx="877.6" cy="26.1" r="3.9" fill="#3387bc" fill-opacity="1.00" stroke="#fff" stroke-width="0.6"/>
<circle cx="817.1" cy="35.5" r="3.9" fill="#3387bc" fill-opacity="0.96" stroke="#fff" stroke-width="0.6"/>
<circle cx="821.4" cy="38.0" r="3.9" fill="#3387bc" fill-opacity="1.00" stroke="#fff" stroke-width="0.6"/>
<circle cx="829.9" cy="30.3" r="3.9" fill="#3387bc" fill-opacity="1.00" stroke="#fff" stroke-width="0.6"/>
<circle cx="835.9" cy="30.3" r="3.9" fill="#3387bc" fill-opacity="1.00" stroke="#fff" stroke-width="0.6"/>
<circle cx="840.1" cy="29.5" r="3.9" fill="#3387bc" fill-opacity="1.00" stroke="#fff" stroke-width="0.6"/>
<circle cx="830.8" cy="39.7" r="3.9" fill="#3387bc" fill-opacity="1.00" stroke="#fff" stroke-width="0.6"/>
<circle cx="835.9" cy="39.7" r="3.9" fill="#3387bc" fill-opacity="1.00" stroke="#fff" stroke-width="0.6"/>
<circle cx="840.1" cy="37.2" r="3.9" fill="#3387bc" fill-opacity="1.00" stroke="#fff" stroke-width="0.6"/>
<circle cx="845.2" cy="35.5" r="3.9" fill="#3387bc" fill-opacity="1.00" stroke="#fff" stroke-width="0.6"/>
<circle cx="848.7" cy="29.5" r="3.9" fill="#3387bc" fill-opacity="1.00" stroke="#fff" stroke-width="0.6"/>
<circle cx="853.8" cy="30.3" r="3.9" fill="#3387bc" fill-opacity="1.00" stroke="#fff" stroke-width="0.6"/>
<circle cx="858.0" cy="34.6" r="3.9" fill="#3387bc" fill-opacity="1.00" stroke="#fff" stroke-width="0.6"/>
<circle cx="863.2" cy="36.3" r="3.9" fill="#3387bc" fill-opacity="1.00" stroke="#fff" stroke-width="0.6"/>
<circle cx="867.4" cy="37.2" r="3.9" fill="#3387bc" fill-opacity="1.00" stroke="#fff" stroke-width="0.6"/>
<circle cx="875.1" cy="32.1" r="3.9" fill="#3387bc" fill-opacity="1.00" stroke="#fff" stroke-width="0.6"/>
<circle cx="825.6" cy="45.7" r="3.9" fill="#3387bc" fill-opacity="0.99" stroke="#fff" stroke-width="0.6"/>
<circle cx="829.9" cy="42.3" r="3.9" fill="#3387bc" fill-opacity="1.00" stroke="#fff" stroke-width="0.6"/>
<circle cx="844.4" cy="44.0" r="3.9" fill="#3387bc" fill-opacity="1.00" stroke="#fff" stroke-width="0.6"/>
<circle cx="853.8" cy="44.8" r="3.9" fill="#3387bc" fill-opacity="0.93" stroke="#fff" stroke-width="0.6"/>
<circle cx="862.3" cy="44.8" r="3.9" fill="#3387bc" fill-opacity="0.96" stroke="#fff" stroke-width="0.6"/>
<circle cx="821.4" cy="55.1" r="3.9" fill="#3387bc" fill-opacity="0.93" stroke="#fff" stroke-width="0.6"/>
<circle cx="835.0" cy="50.8" r="3.9" fill="#3387bc" fill-opacity="1.00" stroke="#fff" stroke-width="0.6"/>
<circle cx="844.4" cy="55.9" r="3.9" fill="#3387bc" fill-opacity="0.96" stroke="#fff" stroke-width="0.6"/>
<circle cx="862.3" cy="59.8" r="3.9" fill="#3387bc" fill-opacity="0.93" stroke="#fff" stroke-width="0.6"/>
<circle cx="876.8" cy="54.2" r="3.9" fill="#3387bc" fill-opacity="0.93" stroke="#fff" stroke-width="0.6"/>
<circle cx="825.6" cy="59.3" r="3.9" fill="#3387bc" fill-opacity="0.93" stroke="#fff" stroke-width="0.6"/>
<circle cx="830.8" cy="64.4" r="3.9" fill="#3387bc" fill-opacity="0.93" stroke="#fff" stroke-width="0.6"/>
<circle cx="839.3" cy="64.4" r="3.9" fill="#3387bc" fill-opacity="0.93" stroke="#fff" stroke-width="0.6"/>
<circle cx="881.7" cy="18.4" r="3.9" fill="#3387bc" fill-opacity="0.93" stroke="#fff" stroke-width="0.6"/>
<circle cx="886.8" cy="22.7" r="3.9" fill="#3387bc" fill-opacity="0.99" stroke="#fff" stroke-width="0.6"/>
<circle cx="881.7" cy="26.1" r="3.9" fill="#3387bc" fill-opacity="0.96" stroke="#fff" stroke-width="0.6"/>
<circle cx="899.6" cy="21.0" r="3.9" fill="#3387bc" fill-opacity="0.96" stroke="#fff" stroke-width="0.6"/>
<circle cx="904.7" cy="21.0" r="3.9" fill="#3387bc" fill-opacity="0.99" stroke="#fff" stroke-width="0.6"/>
<circle cx="913.2" cy="20.1" r="3.9" fill="#3387bc" fill-opacity="0.96" stroke="#fff" stroke-width="0.6"/>
<circle cx="918.4" cy="21.0" r="3.9" fill="#3387bc" fill-opacity="0.93" stroke="#fff" stroke-width="0.6"/>
<circle cx="923.5" cy="18.4" r="3.9" fill="#3387bc" fill-opacity="0.93" stroke="#fff" stroke-width="0.6"/>
<circle cx="931.2" cy="21.8" r="3.9" fill="#3387bc" fill-opacity="0.96" stroke="#fff" stroke-width="0.6"/>
<circle cx="894.5" cy="29.5" r="3.9" fill="#3387bc" fill-opacity="1.00" stroke="#fff" stroke-width="0.6"/>
<circle cx="901.3" cy="26.9" r="3.9" fill="#3387bc" fill-opacity="1.00" stroke="#fff" stroke-width="0.6"/>
<circle cx="905.6" cy="27.8" r="3.9" fill="#3387bc" fill-opacity="1.00" stroke="#fff" stroke-width="0.6"/>
<circle cx="912.4" cy="26.9" r="3.9" fill="#3387bc" fill-opacity="1.00" stroke="#fff" stroke-width="0.6"/>
<circle cx="908.1" cy="32.9" r="3.9" fill="#3387bc" fill-opacity="1.00" stroke="#fff" stroke-width="0.6"/>
<circle cx="914.1" cy="33.8" r="3.9" fill="#3387bc" fill-opacity="1.00" stroke="#fff" stroke-width="0.6"/>
<circle cx="917.5" cy="29.5" r="3.9" fill="#3387bc" fill-opacity="1.00" stroke="#fff" stroke-width="0.6"/>
<circle cx="927.7" cy="32.1" r="3.9" fill="#3387bc" fill-opacity="0.99" stroke="#fff" stroke-width="0.6"/>
<circle cx="931.2" cy="26.9" r="3.9" fill="#3387bc" fill-opacity="0.96" stroke="#fff" stroke-width="0.6"/>
<circle cx="940.5" cy="32.1" r="3.9" fill="#3387bc" fill-opacity="0.96" stroke="#fff" stroke-width="0.6"/>
<circle cx="881.7" cy="38.9" r="3.9" fill="#3387bc" fill-opacity="1.00" stroke="#fff" stroke-width="0.6"/>
<circle cx="886.8" cy="34.6" r="3.9" fill="#3387bc" fill-opacity="1.00" stroke="#fff" stroke-width="0.6"/>
<circle cx="891.1" cy="39.7" r="3.9" fill="#3387bc" fill-opacity="0.99" stroke="#fff" stroke-width="0.6"/>
<circle cx="886.0" cy="43.1" r="3.9" fill="#3387bc" fill-opacity="1.00" stroke="#fff" stroke-width="0.6"/>
<circle cx="899.6" cy="42.3" r="3.9" fill="#3387bc" fill-opacity="1.00" stroke="#fff" stroke-width="0.6"/>
<circle cx="909.0" cy="42.3" r="3.9" fill="#3387bc" fill-opacity="1.00" stroke="#fff" stroke-width="0.6"/>
<circle cx="917.5" cy="42.3" r="3.9" fill="#3387bc" fill-opacity="0.96" stroke="#fff" stroke-width="0.6"/>
<circle cx="921.8" cy="35.5" r="3.9" fill="#3387bc" fill-opacity="0.96" stroke="#fff" stroke-width="0.6"/>
<circle cx="935.4" cy="40.6" r="3.9" fill="#3387bc" fill-opacity="0.96" stroke="#fff" stroke-width="0.6"/>
<circle cx="944.8" cy="44.8" r="3.9" fill="#3387bc" fill-opacity="0.99" stroke="#fff" stroke-width="0.6"/>
<circle cx="885.1" cy="51.7" r="3.9" fill="#3387bc" fill-opacity="0.96" stroke="#fff" stroke-width="0.6"/>
<circle cx="894.5" cy="55.9" r="3.9" fill="#3387bc" fill-opacity="1.00" stroke="#fff" stroke-width="0.6"/>
<circle cx="900.5" cy="53.4" r="3.9" fill="#3387bc" fill-opacity="0.99" stroke="#fff" stroke-width="0.6"/>
<circle cx="904.7" cy="56.8" r="3.9" fill="#3387bc" fill-opacity="0.99" stroke="#fff" stroke-width="0.6"/>
<circle cx="890.2" cy="62.7" r="3.9" fill="#3387bc" fill-opacity="0.99" stroke="#fff" stroke-width="0.6"/>
<circle cx="908.1" cy="66.2" r="3.9" fill="#3387bc" fill-opacity="1.00" stroke="#fff" stroke-width="0.6"/>
<circle cx="883.4" cy="67.0" r="3.9" fill="#3387bc" fill-opacity="1.00" stroke="#fff" stroke-width="0.6"/>
<circle cx="894.5" cy="67.9" r="3.9" fill="#3387bc" fill-opacity="1.00" stroke="#fff" stroke-width="0.6"/>
<circle cx="917.5" cy="67.0" r="3.9" fill="#3387bc" fill-opacity="1.00" stroke="#fff" stroke-width="0.6"/>
<circle cx="922.6" cy="66.2" r="3.9" fill="#3387bc" fill-opacity="0.99" stroke="#fff" stroke-width="0.6"/>
<circle cx="931.2" cy="55.1" r="3.9" fill="#3387bc" fill-opacity="0.99" stroke="#fff" stroke-width="0.6"/>
<circle cx="931.2" cy="61.9" r="3.9" fill="#3387bc" fill-opacity="0.99" stroke="#fff" stroke-width="0.6"/>
<circle cx="938.0" cy="53.4" r="3.9" fill="#3387bc" fill-opacity="0.96" stroke="#fff" stroke-width="0.6"/>
<circle cx="940.5" cy="60.2" r="3.9" fill="#3387bc" fill-opacity="0.93" stroke="#fff" stroke-width="0.6"/>
<circle cx="943.1" cy="52.5" r="3.9" fill="#3387bc" fill-opacity="0.96" stroke="#fff" stroke-width="0.6"/>
<circle cx="936.3" cy="66.2" r="3.9" fill="#3387bc" fill-opacity="0.93" stroke="#fff" stroke-width="0.6"/>
<circle cx="926.9" cy="64.4" r="3.9" fill="#3387bc" fill-opacity="1.00" stroke="#fff" stroke-width="0.6"/>
<circle cx="963.3" cy="18.4" r="3.9" fill="#3387bc" fill-opacity="0.93" stroke="#fff" stroke-width="0.6"/>
<circle cx="969.3" cy="18.4" r="3.9" fill="#3387bc" fill-opacity="0.93" stroke="#fff" stroke-width="0.6"/>
<circle cx="963.3" cy="22.7" r="3.9" fill="#3387bc" fill-opacity="0.99" stroke="#fff" stroke-width="0.6"/>
<circle cx="972.7" cy="28.6" r="3.9" fill="#3387bc" fill-opacity="1.00" stroke="#fff" stroke-width="0.6"/>
<circle cx="959.1" cy="32.9" r="3.9" fill="#3387bc" fill-opacity="1.00" stroke="#fff" stroke-width="0.6"/>
<circle cx="968.5" cy="35.5" r="3.9" fill="#3387bc" fill-opacity="1.00" stroke="#fff" stroke-width="0.6"/>
<circle cx="1005.1" cy="26.9" r="3.9" fill="#3387bc" fill-opacity="1.00" stroke="#fff" stroke-width="0.6"/>
<circle cx="972.7" cy="38.0" r="3.9" fill="#3387bc" fill-opacity="1.00" stroke="#fff" stroke-width="0.6"/>
<circle cx="963.3" cy="40.6" r="3.9" fill="#3387bc" fill-opacity="0.96" stroke="#fff" stroke-width="0.6"/>
<circle cx="972.7" cy="43.1" r="3.9" fill="#3387bc" fill-opacity="1.00" stroke="#fff" stroke-width="0.6"/>
<circle cx="959.1" cy="45.7" r="3.9" fill="#3387bc" fill-opacity="0.96" stroke="#fff" stroke-width="0.6"/>
<circle cx="1014.5" cy="38.9" r="3.9" fill="#3387bc" fill-opacity="1.00" stroke="#fff" stroke-width="0.6"/>
<circle cx="1009.4" cy="50.8" r="3.9" fill="#3387bc" fill-opacity="0.96" stroke="#fff" stroke-width="0.6"/>
<circle cx="954.8" cy="55.1" r="3.9" fill="#3387bc" fill-opacity="0.99" stroke="#fff" stroke-width="0.6"/>
<circle cx="963.3" cy="54.2" r="3.9" fill="#3387bc" fill-opacity="0.99" stroke="#fff" stroke-width="0.6"/>
<circle cx="969.3" cy="55.1" r="3.9" fill="#3387bc" fill-opacity="0.99" stroke="#fff" stroke-width="0.6"/>
<circle cx="982.1" cy="53.4" r="3.9" fill="#3387bc" fill-opacity="1.00" stroke="#fff" stroke-width="0.6"/>
<circle cx="1005.1" cy="59.3" r="3.9" fill="#3387bc" fill-opacity="1.00" stroke="#fff" stroke-width="0.6"/>
<circle cx="1014.5" cy="61.0" r="3.9" fill="#3387bc" fill-opacity="1.00" stroke="#fff" stroke-width="0.6"/>
<circle cx="949.7" cy="62.7" r="3.9" fill="#3387bc" fill-opacity="0.96" stroke="#fff" stroke-width="0.6"/>
<circle cx="959.1" cy="63.6" r="3.9" fill="#3387bc" fill-opacity="1.00" stroke="#fff" stroke-width="0.6"/>
<circle cx="967.6" cy="62.7" r="3.9" fill="#3387bc" fill-opacity="1.00" stroke="#fff" stroke-width="0.6"/>
<circle cx="967.6" cy="67.0" r="3.9" fill="#3387bc" fill-opacity="1.00" stroke="#fff" stroke-width="0.6"/>
<circle cx="975.3" cy="67.9" r="3.9" fill="#3387bc" fill-opacity="1.00" stroke="#fff" stroke-width="0.6"/>
<circle cx="995.7" cy="67.9" r="3.9" fill="#3387bc" fill-opacity="1.00" stroke="#fff" stroke-width="0.6"/>
<circle cx="1007.7" cy="64.4" r="3.9" fill="#3387bc" fill-opacity="1.00" stroke="#fff" stroke-width="0.6"/>
<circle cx="953.1" cy="68.7" r="3.9" fill="#3387bc" fill-opacity="1.00" stroke="#fff" stroke-width="0.6"/>
<circle cx="962.5" cy="68.7" r="3.9" fill="#3387bc" fill-opacity="1.00" stroke="#fff" stroke-width="0.6"/>
<circle cx="821.4" cy="74.8" r="3.9" fill="#3387bc" fill-opacity="0.93" stroke="#fff" stroke-width="0.6"/>
<circle cx="826.9" cy="73.1" r="3.9" fill="#3387bc" fill-opacity="0.93" stroke="#fff" stroke-width="0.6"/>
<circle cx="834.6" cy="74.4" r="3.9" fill="#3387bc" fill-opacity="0.93" stroke="#fff" stroke-width="0.6"/>
<circle cx="849.1" cy="76.1" r="3.9" fill="#3387bc" fill-opacity="0.93" stroke="#fff" stroke-width="0.6"/>
<circle cx="834.6" cy="85.1" r="3.9" fill="#3387bc" fill-opacity="0.93" stroke="#fff" stroke-width="0.6"/>
<circle cx="853.8" cy="84.2" r="3.9" fill="#3387bc" fill-opacity="0.93" stroke="#fff" stroke-width="0.6"/>
<circle cx="830.3" cy="93.6" r="3.9" fill="#3387bc" fill-opacity="0.93" stroke="#fff" stroke-width="0.6"/>
<circle cx="817.1" cy="100.0" r="3.9" fill="#3387bc" fill-opacity="0.93" stroke="#fff" stroke-width="0.6"/>
<circle cx="839.3" cy="104.7" r="3.9" fill="#3387bc" fill-opacity="0.93" stroke="#fff" stroke-width="0.6"/>
<circle cx="872.1" cy="71.4" r="3.9" fill="#3387bc" fill-opacity="0.93" stroke="#fff" stroke-width="0.6"/>
<circle cx="885.1" cy="68.9" r="3.9" fill="#3387bc" fill-opacity="1.00" stroke="#fff" stroke-width="0.6"/>
<circle cx="894.5" cy="69.7" r="3.9" fill="#3387bc" fill-opacity="1.00" stroke="#fff" stroke-width="0.6"/>
<circle cx="903.0" cy="70.6" r="3.9" fill="#3387bc" fill-opacity="1.00" stroke="#fff" stroke-width="0.6"/>
<circle cx="908.1" cy="69.3" r="3.9" fill="#3387bc" fill-opacity="0.99" stroke="#fff" stroke-width="0.6"/>
<circle cx="917.5" cy="70.6" r="3.9" fill="#3387bc" fill-opacity="1.00" stroke="#fff" stroke-width="0.6"/>
<circle cx="889.4" cy="74.8" r="3.9" fill="#3387bc" fill-opacity="0.99" stroke="#fff" stroke-width="0.6"/>
<circle cx="894.5" cy="75.7" r="3.9" fill="#3387bc" fill-opacity="1.00" stroke="#fff" stroke-width="0.6"/>
<circle cx="900.5" cy="75.7" r="3.9" fill="#3387bc" fill-opacity="1.00" stroke="#fff" stroke-width="0.6"/>
<circle cx="904.7" cy="76.5" r="3.9" fill="#3387bc" fill-opacity="1.00" stroke="#fff" stroke-width="0.6"/>
<circle cx="912.4" cy="74.8" r="3.9" fill="#3387bc" fill-opacity="1.00" stroke="#fff" stroke-width="0.6"/>
<circle cx="890.2" cy="82.1" r="3.9" fill="#3387bc" fill-opacity="0.93" stroke="#fff" stroke-width="0.6"/>
<circle cx="903.9" cy="84.6" r="3.9" fill="#3387bc" fill-opacity="0.93" stroke="#fff" stroke-width="0.6"/>
<circle cx="890.2" cy="89.3" r="3.9" fill="#3387bc" fill-opacity="0.93" stroke="#fff" stroke-width="0.6"/>
<circle cx="936.3" cy="72.3" r="3.9" fill="#3387bc" fill-opacity="0.96" stroke="#fff" stroke-width="0.6"/>
<circle cx="941.4" cy="73.1" r="3.9" fill="#3387bc" fill-opacity="0.96" stroke="#fff" stroke-width="0.6"/>
<circle cx="935.4" cy="78.2" r="3.9" fill="#3387bc" fill-opacity="0.93" stroke="#fff" stroke-width="0.6"/>
<circle cx="940.5" cy="80.8" r="3.9" fill="#3387bc" fill-opacity="0.96" stroke="#fff" stroke-width="0.6"/>
<circle cx="940.5" cy="87.6" r="3.9" fill="#3387bc" fill-opacity="0.96" stroke="#fff" stroke-width="0.6"/>
<circle cx="917.5" cy="94.4" r="3.9" fill="#3387bc" fill-opacity="0.93" stroke="#fff" stroke-width="0.6"/>
<circle cx="927.7" cy="94.4" r="3.9" fill="#3387bc" fill-opacity="0.93" stroke="#fff" stroke-width="0.6"/>
<circle cx="909.0" cy="97.8" r="3.9" fill="#3387bc" fill-opacity="0.93" stroke="#fff" stroke-width="0.6"/>
<circle cx="899.6" cy="102.5" r="3.9" fill="#3387bc" fill-opacity="0.93" stroke="#fff" stroke-width="0.6"/>
<circle cx="912.8" cy="106.4" r="3.9" fill="#3387bc" fill-opacity="0.93" stroke="#fff" stroke-width="0.6"/>
<circle cx="890.2" cy="106.8" r="3.9" fill="#3387bc" fill-opacity="0.93" stroke="#fff" stroke-width="0.6"/>
<circle cx="894.9" cy="109.8" r="3.9" fill="#3387bc" fill-opacity="0.93" stroke="#fff" stroke-width="0.6"/>
<circle cx="921.8" cy="117.4" r="3.9" fill="#3387bc" fill-opacity="0.99" stroke="#fff" stroke-width="0.6"/>
<circle cx="931.6" cy="105.5" r="3.9" fill="#3387bc" fill-opacity="1.00" stroke="#fff" stroke-width="0.6"/>
<circle cx="940.5" cy="120.0" r="3.9" fill="#3387bc" fill-opacity="1.00" stroke="#fff" stroke-width="0.6"/>
<circle cx="931.2" cy="121.7" r="3.9" fill="#3387bc" fill-opacity="1.00" stroke="#fff" stroke-width="0.6"/>
<circle cx="949.7" cy="70.6" r="3.9" fill="#3387bc" fill-opacity="0.93" stroke="#fff" stroke-width="0.6"/>
<circle cx="954.8" cy="72.3" r="3.9" fill="#3387bc" fill-opacity="1.00" stroke="#fff" stroke-width="0.6"/>
<circle cx="963.3" cy="70.1" r="3.9" fill="#3387bc" fill-opacity="1.00" stroke="#fff" stroke-width="0.6"/>
<circle cx="972.7" cy="70.6" r="3.9" fill="#3387bc" fill-opacity="1.00" stroke="#fff" stroke-width="0.6"/>
<circle cx="968.5" cy="76.5" r="3.9" fill="#3387bc" fill-opacity="1.00" stroke="#fff" stroke-width="0.6"/>
<circle cx="959.1" cy="88.5" r="3.9" fill="#3387bc" fill-opacity="1.00" stroke="#fff" stroke-width="0.6"/>
<circle cx="964.2" cy="88.5" r="3.9" fill="#3387bc" fill-opacity="1.00" stroke="#fff" stroke-width="0.6"/>
<circle cx="969.3" cy="91.9" r="3.9" fill="#3387bc" fill-opacity="1.00" stroke="#fff" stroke-width="0.6"/>
<circle cx="949.7" cy="90.2" r="3.9" fill="#3387bc" fill-opacity="0.96" stroke="#fff" stroke-width="0.6"/>
<circle cx="972.7" cy="98.7" r="3.9" fill="#3387bc" fill-opacity="1.00" stroke="#fff" stroke-width="0.6"/>
<circle cx="959.5" cy="100.4" r="3.9" fill="#3387bc" fill-opacity="0.93" stroke="#fff" stroke-width="0.6"/>
<circle cx="995.7" cy="69.7" r="3.9" fill="#3387bc" fill-opacity="1.00" stroke="#fff" stroke-width="0.6"/>
<circle cx="1005.1" cy="73.1" r="3.9" fill="#3387bc" fill-opacity="1.00" stroke="#fff" stroke-width="0.6"/>
<circle cx="1014.5" cy="79.9" r="3.9" fill="#3387bc" fill-opacity="1.00" stroke="#fff" stroke-width="0.6"/>
<circle cx="995.7" cy="83.3" r="3.9" fill="#3387bc" fill-opacity="1.00" stroke="#fff" stroke-width="0.6"/>
<circle cx="1000.9" cy="85.9" r="3.9" fill="#3387bc" fill-opacity="0.99" stroke="#fff" stroke-width="0.6"/>
<circle cx="1009.4" cy="86.8" r="3.9" fill="#3387bc" fill-opacity="1.00" stroke="#fff" stroke-width="0.6"/>
<circle cx="1015.3" cy="90.2" r="3.9" fill="#3387bc" fill-opacity="1.00" stroke="#fff" stroke-width="0.6"/>
<circle cx="995.7" cy="91.0" r="3.9" fill="#3387bc" fill-opacity="1.00" stroke="#fff" stroke-width="0.6"/>
<circle cx="1004.3" cy="98.7" r="3.9" fill="#3387bc" fill-opacity="1.00" stroke="#fff" stroke-width="0.6"/>
<circle cx="1009.4" cy="99.5" r="3.9" fill="#3387bc" fill-opacity="1.00" stroke="#fff" stroke-width="0.6"/>
<circle cx="1016.9" cy="38.9" r="3.9" fill="#3387bc" fill-opacity="0.99" stroke="#fff" stroke-width="0.6"/>
<circle cx="1016.9" cy="61.0" r="3.9" fill="#3387bc" fill-opacity="1.00" stroke="#fff" stroke-width="0.6"/>
<circle cx="1037.3" cy="67.0" r="3.9" fill="#3387bc" fill-opacity="0.93" stroke="#fff" stroke-width="0.6"/>
<circle cx="1037.3" cy="69.3" r="3.9" fill="#3387bc" fill-opacity="0.96" stroke="#fff" stroke-width="0.6"/>
<circle cx="1016.9" cy="79.9" r="3.9" fill="#3387bc" fill-opacity="1.00" stroke="#fff" stroke-width="0.6"/>
<circle cx="1016.9" cy="90.2" r="3.9" fill="#3387bc" fill-opacity="1.00" stroke="#fff" stroke-width="0.6"/>
<circle cx="1023.7" cy="93.6" r="3.9" fill="#3387bc" fill-opacity="1.00" stroke="#fff" stroke-width="0.6"/>
<circle cx="1019.4" cy="97.0" r="3.9" fill="#3387bc" fill-opacity="1.00" stroke="#fff" stroke-width="0.6"/>
<circle cx="1037.3" cy="98.7" r="3.9" fill="#3387bc" fill-opacity="0.96" stroke="#fff" stroke-width="0.6"/>
<circle cx="1016.9" cy="96.1" r="3.9" fill="#3387bc" fill-opacity="1.00" stroke="#fff" stroke-width="0.6"/>
<circle cx="931.5" cy="124.4" r="3.9" fill="#3387bc" fill-opacity="1.00" stroke="#fff" stroke-width="0.6"/>
<circle cx="940.9" cy="122.3" r="3.9" fill="#3387bc" fill-opacity="1.00" stroke="#fff" stroke-width="0.6"/>
<circle cx="932.0" cy="135.1" r="3.9" fill="#3387bc" fill-opacity="0.93" stroke="#fff" stroke-width="0.6"/>
<circle cx="927.3" cy="139.8" r="3.9" fill="#3387bc" fill-opacity="0.93" stroke="#fff" stroke-width="0.6"/>
<circle cx="940.9" cy="140.6" r="3.9" fill="#3387bc" fill-opacity="0.96" stroke="#fff" stroke-width="0.6"/>
<circle cx="936.7" cy="145.3" r="3.9" fill="#3387bc" fill-opacity="0.96" stroke="#fff" stroke-width="0.6"/>
<circle cx="917.9" cy="145.3" r="3.9" fill="#3387bc" fill-opacity="0.93" stroke="#fff" stroke-width="0.6"/>
<circle cx="931.5" cy="159.4" r="3.9" fill="#3387bc" fill-opacity="0.96" stroke="#fff" stroke-width="0.6"/>
<circle cx="912.8" cy="161.9" r="3.9" fill="#3387bc" fill-opacity="0.93" stroke="#fff" stroke-width="0.6"/>
<circle cx="912.8" cy="167.5" r="3.9" fill="#3387bc" fill-opacity="0.99" stroke="#fff" stroke-width="0.6"/>
<circle cx="912.8" cy="172.6" r="3.9" fill="#3387bc" fill-opacity="0.99" stroke="#fff" stroke-width="0.6"/>
<circle cx="922.2" cy="174.3" r="3.9" fill="#3387bc" fill-opacity="1.00" stroke="#fff" stroke-width="0.6"/>
<circle cx="931.5" cy="173.4" r="3.9" fill="#3387bc" fill-opacity="1.00" stroke="#fff" stroke-width="0.6"/>
<circle cx="963.9" cy="157.7" r="3.9" fill="#3387bc" fill-opacity="1.00" stroke="#fff" stroke-width="0.6"/>
<circle cx="967.3" cy="133.8" r="3.9" fill="#3387bc" fill-opacity="1.00" stroke="#fff" stroke-width="0.6"/>
<circle cx="967.3" cy="147.4" r="3.9" fill="#3387bc" fill-opacity="1.00" stroke="#fff" stroke-width="0.6"/>
<circle cx="959.7" cy="136.3" r="3.9" fill="#3387bc" fill-opacity="0.93" stroke="#fff" stroke-width="0.6"/>
<circle cx="959.7" cy="173.9" r="3.9" fill="#3387bc" fill-opacity="1.00" stroke="#fff" stroke-width="0.6"/>
<circle cx="912.8" cy="174.9" r="3.9" fill="#3387bc" fill-opacity="0.99" stroke="#fff" stroke-width="0.6"/>
<circle cx="922.2" cy="175.7" r="3.9" fill="#3387bc" fill-opacity="1.00" stroke="#fff" stroke-width="0.6"/>
<circle cx="931.5" cy="175.7" r="3.9" fill="#3387bc" fill-opacity="1.00" stroke="#fff" stroke-width="0.6"/>
<circle cx="931.5" cy="179.1" r="3.9" fill="#3387bc" fill-opacity="1.00" stroke="#fff" stroke-width="0.6"/>
<circle cx="940.9" cy="179.1" r="3.9" fill="#3387bc" fill-opacity="1.00" stroke="#fff" stroke-width="0.6"/>
<circle cx="949.4" cy="182.5" r="3.9" fill="#3387bc" fill-opacity="0.99" stroke="#fff" stroke-width="0.6"/>
<circle cx="959.7" cy="175.7" r="3.9" fill="#3387bc" fill-opacity="1.00" stroke="#fff" stroke-width="0.6"/>
<circle cx="959.7" cy="180.0" r="3.9" fill="#3387bc" fill-opacity="1.00" stroke="#fff" stroke-width="0.6"/>
<circle cx="908.5" cy="187.2" r="3.9" fill="#3387bc" fill-opacity="0.93" stroke="#fff" stroke-width="0.6"/>
<circle cx="927.3" cy="187.2" r="3.9" fill="#3387bc" fill-opacity="0.99" stroke="#fff" stroke-width="0.6"/>
<circle cx="940.9" cy="189.8" r="3.9" fill="#3387bc" fill-opacity="0.99" stroke="#fff" stroke-width="0.6"/>
<circle cx="949.4" cy="193.2" r="3.9" fill="#3387bc" fill-opacity="1.00" stroke="#fff" stroke-width="0.6"/>
<circle cx="955.4" cy="193.2" r="3.9" fill="#3387bc" fill-opacity="1.00" stroke="#fff" stroke-width="0.6"/>
<circle cx="931.5" cy="199.6" r="3.9" fill="#3387bc" fill-opacity="0.93" stroke="#fff" stroke-width="0.6"/>
<circle cx="936.7" cy="200.4" r="3.9" fill="#3387bc" fill-opacity="0.93" stroke="#fff" stroke-width="0.6"/>
<circle cx="944.3" cy="197.9" r="3.9" fill="#3387bc" fill-opacity="0.96" stroke="#fff" stroke-width="0.6"/>
<circle cx="950.3" cy="199.6" r="3.9" fill="#3387bc" fill-opacity="0.96" stroke="#fff" stroke-width="0.6"/>
<circle cx="963.9" cy="199.6" r="3.9" fill="#3387bc" fill-opacity="0.93" stroke="#fff" stroke-width="0.6"/>
<circle cx="959.7" cy="201.3" r="3.9" fill="#3387bc" fill-opacity="0.93" stroke="#fff" stroke-width="0.6"/>
<circle cx="921.3" cy="205.5" r="3.9" fill="#3387bc" fill-opacity="0.93" stroke="#fff" stroke-width="0.6"/>
<circle cx="912.8" cy="208.5" r="3.9" fill="#3387bc" fill-opacity="0.93" stroke="#fff" stroke-width="0.6"/>
<circle cx="936.7" cy="209.0" r="3.9" fill="#3387bc" fill-opacity="0.93" stroke="#fff" stroke-width="0.6"/>
<circle cx="936.7" cy="212.4" r="3.9" fill="#3387bc" fill-opacity="0.93" stroke="#fff" stroke-width="0.6"/>
<circle cx="945.2" cy="209.8" r="3.9" fill="#3387bc" fill-opacity="0.99" stroke="#fff" stroke-width="0.6"/>
<circle cx="959.7" cy="211.5" r="3.9" fill="#3387bc" fill-opacity="0.93" stroke="#fff" stroke-width="0.6"/>
<circle cx="954.6" cy="214.1" r="3.9" fill="#3387bc" fill-opacity="0.93" stroke="#fff" stroke-width="0.6"/>
<circle cx="954.6" cy="218.3" r="3.9" fill="#3387bc" fill-opacity="0.93" stroke="#fff" stroke-width="0.6"/>
<circle cx="922.2" cy="219.2" r="3.9" fill="#3387bc" fill-opacity="0.93" stroke="#fff" stroke-width="0.6"/>
<circle cx="931.5" cy="223.0" r="3.9" fill="#3387bc" fill-opacity="0.93" stroke="#fff" stroke-width="0.6"/>
<circle cx="940.9" cy="220.5" r="3.9" fill="#3387bc" fill-opacity="0.93" stroke="#fff" stroke-width="0.6"/>
<circle cx="954.6" cy="223.4" r="3.9" fill="#3387bc" fill-opacity="0.93" stroke="#fff" stroke-width="0.6"/>
<circle cx="917.9" cy="227.7" r="3.9" fill="#3387bc" fill-opacity="0.93" stroke="#fff" stroke-width="0.6"/>
<circle cx="968.9" cy="133.8" r="3.9" fill="#3387bc" fill-opacity="1.00" stroke="#fff" stroke-width="0.6"/>
<circle cx="968.9" cy="147.4" r="3.9" fill="#3387bc" fill-opacity="1.00" stroke="#fff" stroke-width="0.6"/>
<circle cx="977.4" cy="150.8" r="3.9" fill="#3387bc" fill-opacity="0.99" stroke="#fff" stroke-width="0.6"/>
<circle cx="977.4" cy="171.3" r="3.9" fill="#3387bc" fill-opacity="1.00" stroke="#fff" stroke-width="0.6"/>
<circle cx="983.3" cy="173.0" r="3.9" fill="#3387bc" fill-opacity="1.00" stroke="#fff" stroke-width="0.6"/>
<circle cx="988.5" cy="173.9" r="3.9" fill="#3387bc" fill-opacity="1.00" stroke="#fff" stroke-width="0.6"/>
<circle cx="1019.2" cy="172.2" r="3.9" fill="#3387bc" fill-opacity="0.84" stroke="#fff" stroke-width="0.6"/>
<circle cx="982.5" cy="174.9" r="3.9" fill="#3387bc" fill-opacity="1.00" stroke="#fff" stroke-width="0.6"/>
<circle cx="987.6" cy="176.1" r="3.9" fill="#3387bc" fill-opacity="1.00" stroke="#fff" stroke-width="0.6"/>
<circle cx="1019.2" cy="174.9" r="3.9" fill="#3387bc" fill-opacity="0.87" stroke="#fff" stroke-width="0.6"/>
<circle cx="977.4" cy="193.6" r="3.9" fill="#3387bc" fill-opacity="0.93" stroke="#fff" stroke-width="0.6"/>
<circle cx="986.8" cy="194.0" r="3.9" fill="#3387bc" fill-opacity="0.93" stroke="#fff" stroke-width="0.6"/>
<circle cx="986.8" cy="204.7" r="3.9" fill="#3387bc" fill-opacity="0.93" stroke="#fff" stroke-width="0.6"/>
<circle cx="996.1" cy="209.4" r="3.9" fill="#3387bc" fill-opacity="0.93" stroke="#fff" stroke-width="0.6"/>
<circle cx="982.5" cy="214.9" r="3.9" fill="#3387bc" fill-opacity="0.93" stroke="#fff" stroke-width="0.6"/>
<circle cx="1019.2" cy="208.5" r="3.9" fill="#3387bc" fill-opacity="0.90" stroke="#fff" stroke-width="0.6"/>
<circle cx="1027.7" cy="211.9" r="3.9" fill="#3387bc" fill-opacity="0.93" stroke="#fff" stroke-width="0.6"/>
<circle cx="1023.4" cy="216.6" r="3.9" fill="#3387bc" fill-opacity="0.93" stroke="#fff" stroke-width="0.6"/>
<circle cx="1105.1" cy="159.4" r="3.9" fill="#3387bc" fill-opacity="0.90" stroke="#fff" stroke-width="0.6"/>
<circle cx="1051.3" cy="225.6" r="3.9" fill="#3387bc" fill-opacity="1.00" stroke="#fff" stroke-width="0.6"/>
<circle cx="1059.9" cy="225.6" r="3.9" fill="#3387bc" fill-opacity="0.99" stroke="#fff" stroke-width="0.6"/>
<circle cx="1087.2" cy="226.0" r="3.9" fill="#3387bc" fill-opacity="1.00" stroke="#fff" stroke-width="0.6"/>
<circle cx="841.0" cy="31.2" r="3.9" fill="#3387bc" fill-opacity="1.00" stroke="#fff" stroke-width="0.6"/>
<circle cx="824.7" cy="31.4" r="3.9" fill="#3387bc" fill-opacity="1.00" stroke="#fff" stroke-width="0.6"/>
<circle cx="860.0" cy="18.8" r="3.9" fill="#3387bc" fill-opacity="1.00" stroke="#fff" stroke-width="0.6"/>
<circle cx="819.3" cy="40.3" r="3.9" fill="#3387bc" fill-opacity="0.99" stroke="#fff" stroke-width="0.6"/>
<circle cx="851.9" cy="34.5" r="3.9" fill="#3387bc" fill-opacity="1.00" stroke="#fff" stroke-width="0.6"/>
<circle cx="814.9" cy="31.9" r="3.9" fill="#3387bc" fill-opacity="0.93" stroke="#fff" stroke-width="0.6"/>
<circle cx="825.0" cy="23.3" r="3.9" fill="#3387bc" fill-opacity="1.00" stroke="#fff" stroke-width="0.6"/>
<circle cx="840.9" cy="29.2" r="3.9" fill="#3387bc" fill-opacity="1.00" stroke="#fff" stroke-width="0.6"/>
<circle cx="844.1" cy="35.2" r="3.9" fill="#3387bc" fill-opacity="1.00" stroke="#fff" stroke-width="0.6"/>
<circle cx="852.4" cy="29.7" r="3.9" fill="#3387bc" fill-opacity="1.00" stroke="#fff" stroke-width="0.6"/>
<circle cx="871.9" cy="45.9" r="3.9" fill="#3387bc" fill-opacity="0.99" stroke="#fff" stroke-width="0.6"/>
<circle cx="855.1" cy="25.5" r="3.9" fill="#3387bc" fill-opacity="1.00" stroke="#fff" stroke-width="0.6"/>
<circle cx="830.8" cy="18.1" r="3.9" fill="#3387bc" fill-opacity="1.00" stroke="#fff" stroke-width="0.6"/>
<circle cx="837.2" cy="41.4" r="3.9" fill="#3387bc" fill-opacity="1.00" stroke="#fff" stroke-width="0.6"/>
<circle cx="903.6" cy="36.3" r="3.9" fill="#3387bc" fill-opacity="1.00" stroke="#fff" stroke-width="0.6"/>
<circle cx="878.9" cy="37.8" r="3.9" fill="#3387bc" fill-opacity="1.00" stroke="#fff" stroke-width="0.6"/>
<circle cx="904.4" cy="25.5" r="3.9" fill="#3387bc" fill-opacity="1.00" stroke="#fff" stroke-width="0.6"/>
<circle cx="892.8" cy="34.7" r="3.9" fill="#3387bc" fill-opacity="1.00" stroke="#fff" stroke-width="0.6"/>
<circle cx="897.0" cy="18.8" r="3.9" fill="#3387bc" fill-opacity="0.96" stroke="#fff" stroke-width="0.6"/>
</g>
<line x1="812.6" y1="137.6" x2="1133.2" y2="427.9" stroke="#5a5a5a" stroke-width="1.45" stroke-dasharray="5.6 3.9"/>
<path d="M811.9 15.4H1364.1" stroke="#000" stroke-width="1.2"/>
<path d="M812.5 14.8V536.6" stroke="#444" stroke-width="1.1"/>
<path d="M811.9 536.0H1364.1" stroke="#000" stroke-width="1.2"/>
<path d="M1363.5 14.8V536.6" stroke="#333" stroke-width="1.1"/>
<path d="M812.40 535.80v4.8 M904.23 535.80v4.8 M996.07 535.80v4.8 M1087.90 535.80v4.8 M1179.74 535.80v4.8 M1271.57 535.80v4.8 M1363.40 535.80v4.8 M812.40 15.30h-4.2 M812.40 119.44h-4.2 M812.40 223.58h-4.2 M812.40 327.72h-4.2 M812.40 431.86h-4.2 M812.40 536.00h-4.2" stroke="#000" stroke-width="1.1" fill="none"/>
<text x="803.10" y="566.47" font-family="Liberation Serif" font-weight="normal" font-style="normal" font-size="33.04" textLength="18.00" lengthAdjust="spacingAndGlyphs">0</text>
<text x="885.16" y="566.47" font-family="Liberation Serif" font-weight="normal" font-style="normal" font-size="33.04" textLength="37.28" lengthAdjust="spacingAndGlyphs">20</text>
<text x="977.94" y="566.47" font-family="Liberation Serif" font-weight="normal" font-style="normal" font-size="33.04" textLength="36.29" lengthAdjust="spacingAndGlyphs">40</text>
<text x="1068.92" y="566.47" font-family="Liberation Serif" font-weight="normal" font-style="normal" font-size="33.04" textLength="37.17" lengthAdjust="spacingAndGlyphs">60</text>
<text x="1160.95" y="566.47" font-family="Liberation Serif" font-weight="normal" font-style="normal" font-size="33.04" textLength="36.97" lengthAdjust="spacingAndGlyphs">80</text>
<text x="1242.36" y="566.47" font-family="Liberation Serif" font-weight="normal" font-style="normal" font-size="33.04" textLength="55.96" lengthAdjust="spacingAndGlyphs">100</text>
<text x="1334.19" y="566.47" font-family="Liberation Serif" font-weight="normal" font-style="normal" font-size="33.04" textLength="55.96" lengthAdjust="spacingAndGlyphs">120</text>
<text x="784.91" y="25.37" font-family="Liberation Serif" font-weight="normal" font-style="normal" font-size="33.04" textLength="18.59" lengthAdjust="spacingAndGlyphs">0</text>
<rect x="762.70" y="119.59" width="18.60" height="2.30" fill="#000"/>
<text x="783.95" y="129.44" font-family="Liberation Serif" font-weight="normal" font-style="normal" font-size="33.36" textLength="18.37" lengthAdjust="spacingAndGlyphs">2</text>
<rect x="762.70" y="223.73" width="18.60" height="2.30" fill="#000"/>
<text x="784.97" y="233.58" font-family="Liberation Serif" font-weight="normal" font-style="normal" font-size="33.61" textLength="15.81" lengthAdjust="spacingAndGlyphs">4</text>
<rect x="762.70" y="327.87" width="18.60" height="2.30" fill="#000"/>
<text x="784.14" y="337.39" font-family="Liberation Serif" font-weight="normal" font-style="normal" font-size="32.86" textLength="17.19" lengthAdjust="spacingAndGlyphs">6</text>
<rect x="762.70" y="432.01" width="18.60" height="2.30" fill="#000"/>
<text x="784.30" y="441.53" font-family="Liberation Serif" font-weight="normal" font-style="normal" font-size="32.74" textLength="17.29" lengthAdjust="spacingAndGlyphs">8</text>
<rect x="744.10" y="535.85" width="18.80" height="2.30" fill="#000"/>
<text x="764.69" y="545.97" font-family="Liberation Serif" font-weight="normal" font-style="normal" font-size="32.59" textLength="37.83" lengthAdjust="spacingAndGlyphs">10</text>
<text x="997.78" y="599.90" font-family="Liberation Serif" font-weight="normal" font-style="normal" font-size="33.67" textLength="178.09" lengthAdjust="spacingAndGlyphs">Cluster size</text>
<g transform="translate(728.3,294.5) rotate(-90)"><text x="-0.91" y="0.00" font-family="Liberation Sans" font-weight="normal" font-style="normal" font-size="32.15" textLength="20.34" lengthAdjust="spacingAndGlyphs">Δ</text><text x="20.13" y="0.00" font-family="Liberation Sans" font-weight="normal" font-style="italic" font-size="32.15" textLength="17.06" lengthAdjust="spacingAndGlyphs">E</text></g>
<rect x="820.9" y="497.7" width="149.6" height="29.6" rx="4" fill="#fff" fill-opacity="0.8" stroke="#d6d6d6" stroke-width="1.1"/>
<line x1="827.4" y1="509.4" x2="862.2" y2="509.4" stroke="#666" stroke-width="1.5" stroke-dasharray="6.3 2.5"/>
<text x="874.76" y="515.70" font-family="Liberation Serif" font-weight="normal" font-style="normal" font-size="17.12" textLength="87.89" lengthAdjust="spacingAndGlyphs">guide line</text>
</svg>
</body></html>
